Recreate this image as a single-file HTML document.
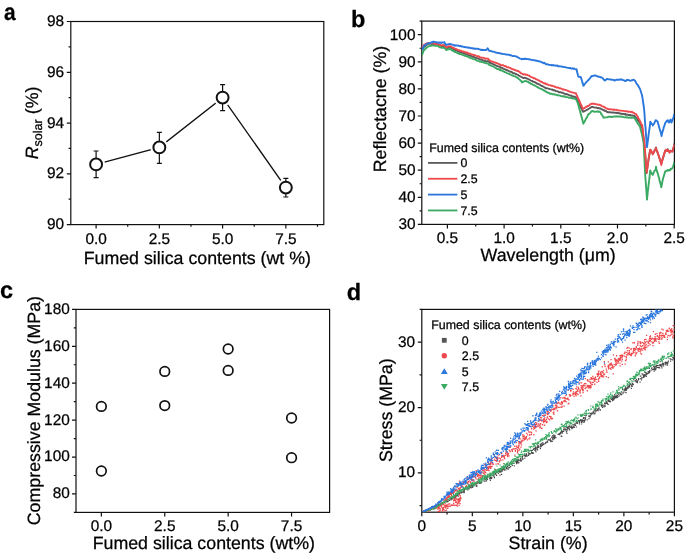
<!DOCTYPE html>
<html><head><meta charset="utf-8"><style>
html,body{margin:0;padding:0;background:#fff;}
svg{display:block;will-change:transform;}
text{font-family:"Liberation Sans", sans-serif;fill:#000;stroke:#000;stroke-width:0.25px;text-rendering:geometricPrecision;}
</style></head><body>
<svg width="685" height="556" viewBox="0 0 685 556">
<defs>
<clipPath id="clipb"><rect x="421.8" y="21.1" width="252.59999999999997" height="203.3"/></clipPath>
<clipPath id="clipd"><rect x="421.8" y="309.4" width="252.59999999999997" height="202.80000000000007"/></clipPath>
</defs>
<rect width="685" height="556" fill="#fff"/>
<text transform="translate(3.9 19.8) scale(0.89 1)" font-size="23.5" font-weight="bold">a</text>
<rect x="70.8" y="21.5" width="253" height="203.1" fill="none" stroke="#111" stroke-width="1.2"/>
<path d="M70.8 21.5h-4M70.8 72.28h-4M70.8 123.05h-4M70.8 173.82h-4M70.8 224.6h-4M70.8 46.89h-2.2M70.8 97.66h-2.2M70.8 148.44h-2.2M70.8 199.21h-2.2" stroke="#111" stroke-width="1.2" fill="none"/>
<text x="64.2" y="26" text-anchor="end" font-size="15.4">98</text>
<text x="64.2" y="76.78" text-anchor="end" font-size="15.4">96</text>
<text x="64.2" y="127.55" text-anchor="end" font-size="15.4">94</text>
<text x="64.2" y="178.32" text-anchor="end" font-size="15.4">92</text>
<text x="64.2" y="229.1" text-anchor="end" font-size="15.4">90</text>
<path d="M96.1 224.6v4M159.35 224.6v4M222.6 224.6v4M285.85 224.6v4M127.72 224.6v2.2M190.97 224.6v2.2M254.23 224.6v2.2M317.48 224.6v2.2" stroke="#111" stroke-width="1.2" fill="none"/>
<text x="96.1" y="243.5" text-anchor="middle" font-size="15.4">0.0</text>
<text x="159.35" y="243.5" text-anchor="middle" font-size="15.4">2.5</text>
<text x="222.6" y="243.5" text-anchor="middle" font-size="15.4">5.0</text>
<text x="285.85" y="243.5" text-anchor="middle" font-size="15.4">7.5</text>
<text x="197.3" y="264" text-anchor="middle" font-size="17.8" >Fumed silica contents (wt %)</text>
<text transform="translate(38.2 123) rotate(-90)" text-anchor="middle" font-size="17.8"><tspan font-style="italic">R</tspan><tspan font-size="12.6" dy="4.2">solar</tspan><tspan dy="-4.2"> (%)</tspan></text>
<path d="M96.1 164.4 L159.35 147.4 L222.6 97.6 L285.85 187.6" stroke="#111" stroke-width="1.35" fill="none"/>
<circle cx="96.1" cy="164.4" r="9.0" fill="#fff"/>
<circle cx="159.35" cy="147.4" r="9.0" fill="#fff"/>
<circle cx="222.6" cy="97.6" r="9.0" fill="#fff"/>
<circle cx="285.85" cy="187.6" r="9.0" fill="#fff"/>
<path d="M96.1 151V177.6M93.6 151h5M93.6 177.6h5M159.35 132.4V163.4M156.85 132.4h5M156.85 163.4h5M222.6 84.6V110.6M220.1 84.6h5M220.1 110.6h5M285.85 178.4V197M283.35 178.4h5M283.35 197h5" stroke="#111" stroke-width="1.2" fill="none"/>
<circle cx="96.1" cy="164.4" r="5.95" fill="#fff" stroke="#111" stroke-width="2.0"/>
<circle cx="159.35" cy="147.4" r="5.95" fill="#fff" stroke="#111" stroke-width="2.0"/>
<circle cx="222.6" cy="97.6" r="5.95" fill="#fff" stroke="#111" stroke-width="2.0"/>
<circle cx="285.85" cy="187.6" r="5.95" fill="#fff" stroke="#111" stroke-width="2.0"/>
<text x="350.9" y="27" text-anchor="start" font-size="23.5" font-weight="bold">b</text>
<rect x="421.8" y="21.1" width="252.6" height="203.3" fill="none" stroke="#111" stroke-width="1.2"/>
<path d="M421.8 224.4h-4M421.8 197.3h-4M421.8 170.2h-4M421.8 143.1h-4M421.8 116h-4M421.8 88.9h-4M421.8 61.8h-4M421.8 34.7h-4M421.8 210.85h-2.2M421.8 183.75h-2.2M421.8 156.65h-2.2M421.8 129.55h-2.2M421.8 102.45h-2.2M421.8 75.35h-2.2M421.8 48.25h-2.2M421.8 21.15h-2.2" stroke="#111" stroke-width="1.2" fill="none"/>
<text x="415.5" y="229.2" text-anchor="end" font-size="15.4">30</text>
<text x="415.5" y="202.1" text-anchor="end" font-size="15.4">40</text>
<text x="415.5" y="175" text-anchor="end" font-size="15.4">50</text>
<text x="415.5" y="147.9" text-anchor="end" font-size="15.4">60</text>
<text x="415.5" y="120.8" text-anchor="end" font-size="15.4">70</text>
<text x="415.5" y="93.7" text-anchor="end" font-size="15.4">80</text>
<text x="415.5" y="66.6" text-anchor="end" font-size="15.4">90</text>
<text x="415.5" y="39.5" text-anchor="end" font-size="15.4">100</text>
<path d="M447.4 224.4v4M504.1 224.4v4M560.8 224.4v4M617.5 224.4v4M674.2 224.4v4M475.75 224.4v2.2M532.45 224.4v2.2M589.15 224.4v2.2M645.85 224.4v2.2" stroke="#111" stroke-width="1.2" fill="none"/>
<text x="447.4" y="242.8" text-anchor="middle" font-size="15.4">0.5</text>
<text x="504.1" y="242.8" text-anchor="middle" font-size="15.4">1.0</text>
<text x="560.8" y="242.8" text-anchor="middle" font-size="15.4">1.5</text>
<text x="617.5" y="242.8" text-anchor="middle" font-size="15.4">2.0</text>
<text x="674.2" y="242.8" text-anchor="middle" font-size="15.4">2.5</text>
<text x="548.1" y="261" text-anchor="middle" font-size="17.8" >Wavelength (μm)</text>
<text transform="translate(385.6 109) rotate(-90)" x="0" y="0" text-anchor="middle" font-size="17.8" >Reflectacne (%)</text>
<g clip-path="url(#clipb)">
<path d="M422.0 48.9 L422.8 48.3 L423.6 47.5 L424.4 46.5 L425.2 46.2 L426.0 45.4 L426.8 44.5 L427.6 44.1 L428.0 43.7 L428.4 43.7 L429.2 43.7 L430.0 43.9 L430.8 43.8 L431.6 43.9 L432.4 44.0 L433.2 44.2 L434.0 44.2 L434.8 44.2 L435.6 44.2 L436.4 44.4 L437.2 44.5 L437.9 44.6 L438.0 44.9 L438.8 45.2 L439.6 44.9 L440.4 45.4 L441.2 46.1 L441.3 46.1 L442.0 46.1 L442.8 46.0 L443.6 46.3 L444.3 45.6 L444.4 45.9 L445.2 47.3 L446.0 48.0 L446.3 48.4 L446.8 48.1 L447.6 47.6 L448.4 47.7 L449.2 47.4 L449.8 47.0 L450.0 47.2 L450.8 47.7 L451.6 47.9 L452.4 48.5 L453.2 48.9 L454.0 49.3 L454.7 49.5 L454.8 49.8 L455.6 50.2 L456.4 50.5 L457.2 50.7 L458.0 51.3 L458.8 51.4 L459.6 52.0 L460.4 51.9 L461.2 52.6 L462.0 52.7 L462.8 52.8 L463.6 53.2 L464.4 53.6 L465.2 53.9 L466.0 54.0 L466.8 54.3 L467.6 54.8 L468.4 55.0 L469.2 55.4 L470.0 55.8 L470.8 55.7 L471.6 56.3 L472.4 56.8 L473.2 56.8 L474.0 57.0 L474.8 57.6 L475.6 57.8 L476.4 58.2 L477.2 58.3 L478.0 58.4 L478.8 58.9 L479.6 59.2 L480.0 59.5 L480.4 59.6 L481.2 59.5 L482.0 59.8 L482.8 60.4 L483.6 60.7 L484.4 60.7 L485.2 61.0 L486.0 61.4 L486.8 61.3 L487.6 61.2 L488.0 61.0 L488.4 61.4 L489.2 62.2 L489.5 62.8 L490.0 62.4 L490.8 63.1 L491.6 63.5 L492.4 63.6 L493.2 64.3 L494.0 64.4 L494.8 65.1 L495.6 65.2 L496.4 65.7 L497.2 66.2 L498.0 66.4 L498.8 66.5 L499.6 66.7 L500.4 67.7 L501.2 67.7 L502.0 67.9 L502.8 68.4 L503.6 68.7 L504.4 69.2 L505.2 69.4 L506.0 69.8 L506.8 70.0 L507.6 70.6 L508.4 70.6 L509.2 71.3 L510.0 71.8 L510.8 71.6 L511.6 71.8 L512.4 72.7 L513.2 73.4 L514.0 73.1 L514.8 73.4 L515.6 74.1 L516.4 74.2 L517.2 74.6 L518.0 74.9 L518.8 75.6 L519.6 75.9 L520.4 76.5 L521.2 76.9 L522.0 77.2 L522.8 77.8 L523.0 77.8 L523.6 78.0 L524.4 77.8 L525.2 77.8 L526.0 78.3 L526.8 78.4 L527.6 78.8 L528.4 79.3 L529.2 79.5 L530.0 80.0 L530.8 80.5 L531.6 80.9 L532.4 81.0 L533.2 81.8 L534.0 81.9 L534.8 82.2 L535.6 82.6 L536.4 83.1 L537.2 83.9 L538.0 83.8 L538.8 84.4 L539.6 84.4 L540.4 85.2 L541.2 85.8 L542.0 86.0 L542.8 86.3 L543.6 86.8 L544.4 87.3 L545.2 87.7 L546.0 88.4 L546.8 88.3 L547.6 88.4 L548.4 88.7 L549.2 88.9 L550.0 89.2 L550.8 89.4 L551.6 89.6 L552.4 89.5 L553.2 90.2 L554.0 90.2 L554.8 90.3 L555.0 90.7 L555.6 91.0 L556.4 91.1 L557.2 91.3 L558.0 91.4 L558.8 92.3 L559.6 92.2 L560.4 92.1 L561.2 92.4 L562.0 92.8 L562.8 92.8 L563.6 93.4 L564.4 93.5 L565.2 94.1 L566.0 94.3 L566.8 93.9 L567.6 94.6 L568.4 94.6 L569.2 95.3 L570.0 95.4 L570.8 95.7 L571.6 95.7 L572.4 96.5 L573.2 96.8 L574.0 96.5 L574.8 97.0 L575.6 97.1 L576.0 97.3 L576.4 97.8 L577.2 99.9 L578.0 100.8 L578.8 102.7 L579.6 104.6 L580.4 106.2 L581.2 108.0 L582.0 109.7 L582.8 111.5 L583.0 111.8 L583.6 111.6 L584.4 111.2 L585.2 110.7 L586.0 110.3 L586.8 109.8 L587.6 109.6 L588.4 108.9 L589.2 108.5 L590.0 108.0 L590.8 107.6 L591.6 107.0 L592.0 107.1 L592.4 106.9 L593.2 107.1 L594.0 107.4 L594.8 107.6 L595.6 107.6 L596.4 107.5 L597.2 108.1 L598.0 108.2 L598.8 108.0 L599.6 108.6 L600.0 108.4 L600.4 108.5 L601.2 109.1 L602.0 109.4 L602.8 109.8 L603.6 109.9 L604.4 110.9 L605.2 110.8 L606.0 111.0 L606.8 111.8 L607.6 112.0 L608.0 112.3 L608.4 112.2 L609.2 112.3 L610.0 112.4 L610.8 112.3 L611.6 112.6 L612.4 112.5 L613.2 112.5 L614.0 112.7 L614.8 112.9 L615.6 112.8 L616.4 112.8 L617.0 113.1 L617.2 112.7 L618.0 113.0 L618.8 113.3 L619.6 113.2 L620.4 113.6 L621.2 113.7 L622.0 114.0 L622.8 113.8 L623.6 113.9 L624.4 114.3 L625.2 113.9 L626.0 115.0 L626.8 114.5 L627.6 114.6 L628.4 115.0 L629.2 115.0 L630.0 114.8 L630.8 115.3 L631.6 115.5 L632.4 115.4 L633.2 115.6 L634.0 115.8 L634.4 115.6 L634.8 116.4 L635.6 117.4 L636.4 118.2 L637.2 119.1 L638.0 120.4 L638.8 121.3 L639.6 122.7 L640.0 123.0 L640.4 124.0 L641.2 125.8 L642.0 127.7 L642.2 127.6 L642.8 133.0 L643.6 139.8 L644.4 145.1 L644.5 145.7 L645.2 155.1 L646.0 165.4 L646.6 173.1 L646.8 172.0 L647.6 165.8 L648.4 160.6 L649.2 155.4 L650.0 150.9 L650.2 150.0 L650.8 150.5 L651.6 152.6 L652.4 153.0 L652.8 153.6 L653.2 153.1 L654.0 151.8 L654.8 149.8 L655.6 149.0 L656.0 147.5 L656.4 150.1 L657.2 151.7 L658.0 153.8 L658.8 156.0 L659.0 156.8 L659.6 158.6 L660.4 160.6 L661.2 163.0 L661.3 163.6 L662.0 161.0 L662.8 158.9 L663.5 156.5 L663.6 155.7 L664.4 153.6 L665.1 150.7 L665.2 151.5 L666.0 150.9 L666.8 150.8 L667.6 151.0 L667.8 149.2 L668.4 151.0 L669.2 151.2 L669.5 152.3 L670.0 151.0 L670.8 150.7 L671.0 150.9 L671.6 151.4 L672.4 151.5 L672.5 151.1 L673.2 148.8 L673.4 148.8 L674.0 145.9 L674.4 143.5" stroke="#5A5A5A" stroke-width="1.9" fill="none" stroke-linejoin="round"/>
<path d="M422.0 55.3 L422.8 53.0 L423.6 50.9 L424.0 49.5 L424.4 49.9 L425.2 49.1 L426.0 48.1 L426.8 47.6 L427.6 46.8 L428.0 46.3 L428.4 46.5 L429.2 46.1 L430.0 45.9 L430.8 45.7 L431.6 45.7 L432.4 45.5 L432.9 45.5 L433.2 45.3 L434.0 45.5 L434.8 45.4 L435.6 45.8 L436.4 45.8 L437.2 45.9 L437.9 46.0 L438.0 45.8 L438.8 46.7 L439.6 47.4 L440.4 47.3 L440.8 47.6 L441.2 47.6 L442.0 47.9 L442.8 47.6 L443.6 47.7 L444.3 47.5 L444.4 47.6 L445.2 48.6 L446.0 49.5 L446.3 50.1 L446.8 49.6 L447.6 49.5 L448.4 49.3 L449.2 49.4 L449.8 48.8 L450.0 48.8 L450.8 49.4 L451.6 50.1 L452.4 50.4 L453.2 51.2 L454.0 51.0 L454.7 52.0 L454.8 52.0 L455.6 51.9 L456.4 52.5 L457.2 53.0 L458.0 53.1 L458.8 53.6 L459.6 54.1 L460.4 54.1 L461.2 54.3 L462.0 54.5 L462.8 55.1 L463.6 55.2 L464.4 55.5 L465.2 55.8 L466.0 56.3 L466.8 56.3 L467.6 56.5 L468.4 56.7 L469.2 57.6 L470.0 57.7 L470.8 58.3 L471.6 58.3 L472.4 58.5 L473.2 59.1 L474.0 59.3 L474.8 59.4 L475.6 59.7 L476.4 60.5 L477.2 60.6 L478.0 60.9 L478.8 61.1 L479.6 61.3 L480.0 61.8 L480.4 61.7 L481.2 61.7 L482.0 62.0 L482.8 62.1 L483.6 62.5 L484.4 62.8 L485.2 62.7 L486.0 63.3 L486.8 63.1 L487.6 63.5 L488.4 64.1 L489.0 64.8 L489.2 64.9 L490.0 65.2 L490.8 65.5 L491.6 65.9 L492.4 66.2 L493.2 66.4 L494.0 67.0 L494.8 67.5 L495.6 68.0 L496.4 68.3 L497.2 69.0 L498.0 69.0 L498.8 69.2 L499.6 70.0 L500.4 69.8 L501.2 70.5 L502.0 70.5 L502.8 71.1 L503.6 71.1 L504.4 72.0 L505.2 72.1 L506.0 72.4 L506.8 73.2 L507.6 73.4 L508.4 73.6 L509.2 73.9 L510.0 74.4 L510.8 74.7 L511.6 75.2 L512.4 75.6 L513.2 75.7 L514.0 76.1 L514.8 76.4 L515.6 76.7 L516.4 77.2 L517.2 77.6 L518.0 78.1 L518.8 79.0 L519.6 79.5 L520.4 80.5 L521.2 81.1 L522.0 82.4 L522.8 81.8 L523.6 81.7 L524.4 81.2 L525.2 81.1 L526.0 81.0 L526.8 81.4 L527.6 81.9 L528.4 82.0 L529.2 82.8 L530.0 83.0 L530.8 83.9 L531.6 83.9 L532.4 84.6 L533.2 84.6 L534.0 85.3 L534.8 85.5 L535.6 86.0 L536.4 86.5 L537.2 86.9 L538.0 87.4 L538.8 87.9 L539.6 88.3 L540.4 88.6 L541.2 88.8 L542.0 89.3 L542.8 89.9 L543.6 89.9 L544.4 90.9 L545.2 91.1 L546.0 91.6 L546.8 92.2 L547.6 92.5 L548.4 92.8 L549.2 93.0 L550.0 93.7 L550.8 93.8 L551.6 93.8 L552.4 94.3 L553.2 94.4 L554.0 94.1 L554.8 94.6 L555.6 94.5 L556.4 95.1 L557.2 95.2 L558.0 95.1 L558.8 95.3 L559.6 95.6 L560.4 95.7 L561.2 96.2 L562.0 96.2 L562.8 96.2 L563.6 96.5 L564.4 96.2 L565.2 96.8 L566.0 97.1 L566.8 97.1 L567.6 97.1 L568.4 97.5 L569.2 97.9 L570.0 97.8 L570.8 97.7 L571.6 98.3 L572.4 97.9 L573.2 98.5 L574.0 98.5 L574.8 98.9 L575.6 98.8 L576.0 99.2 L576.4 100.1 L577.2 101.7 L578.0 103.6 L578.8 106.7 L579.6 109.8 L580.0 111.0 L580.4 112.5 L581.2 115.4 L582.0 118.5 L582.8 121.4 L583.4 123.7 L583.6 123.0 L584.4 121.9 L585.2 120.5 L586.0 118.5 L586.8 117.7 L587.6 115.9 L588.0 114.9 L588.4 114.3 L589.2 113.9 L590.0 113.1 L590.8 112.1 L591.6 111.1 L592.0 111.2 L592.4 110.9 L593.2 111.1 L594.0 111.8 L594.8 111.7 L595.6 111.6 L596.4 111.5 L597.2 111.8 L598.0 111.3 L598.8 111.9 L599.6 111.8 L600.0 111.8 L600.4 112.3 L601.2 113.9 L602.0 115.0 L602.8 116.2 L603.6 117.6 L604.0 117.8 L604.4 117.7 L605.2 117.4 L606.0 117.4 L606.8 117.4 L607.6 117.1 L608.0 117.1 L608.4 116.8 L609.2 116.8 L610.0 116.8 L610.8 116.6 L611.6 117.1 L612.4 116.9 L613.2 116.6 L614.0 116.5 L614.8 116.6 L615.6 116.3 L616.4 116.6 L617.0 116.3 L617.2 116.5 L618.0 116.4 L618.8 116.6 L619.6 116.5 L620.4 116.5 L621.2 116.7 L622.0 116.8 L622.8 116.9 L623.6 117.1 L624.4 117.4 L625.2 117.4 L626.0 117.2 L626.8 117.5 L627.6 117.3 L628.4 117.7 L629.2 117.7 L630.0 117.4 L630.8 117.8 L631.6 117.9 L632.4 117.3 L633.2 117.8 L634.0 117.9 L634.4 117.7 L634.8 118.4 L635.6 119.7 L636.4 121.2 L637.2 122.4 L638.0 124.0 L638.8 124.7 L639.6 126.2 L640.0 126.6 L640.4 128.4 L641.2 131.4 L642.0 134.6 L642.8 138.7 L643.6 142.9 L643.7 143.7 L644.4 158.2 L645.2 175.2 L646.0 185.3 L646.8 197.0 L647.0 199.6 L647.6 193.5 L648.4 186.7 L648.6 184.6 L649.2 180.2 L650.0 172.5 L650.2 170.5 L650.8 171.8 L651.6 173.4 L652.4 174.5 L652.8 174.9 L653.2 173.9 L654.0 171.7 L654.8 170.7 L655.6 169.5 L656.0 166.7 L656.4 169.0 L657.2 171.9 L658.0 174.1 L658.8 177.4 L659.0 177.5 L659.6 180.9 L660.4 183.2 L661.2 186.7 L661.3 187.3 L662.0 183.6 L662.8 179.4 L663.5 176.8 L663.6 177.0 L664.4 174.0 L665.1 171.9 L665.2 171.2 L666.0 171.2 L666.8 170.8 L667.6 169.9 L667.8 170.6 L668.4 170.3 L669.0 170.5 L669.2 170.0 L670.0 170.3 L670.5 169.1 L670.8 169.3 L671.6 168.4 L672.1 168.5 L672.4 168.0 L673.2 166.3 L674.0 163.4 L674.4 162.1" stroke="#3AAA62" stroke-width="1.9" fill="none" stroke-linejoin="round"/>
<path d="M422.0 48.3 L422.8 46.3 L423.6 45.7 L424.0 44.9 L424.4 44.7 L425.2 44.3 L426.0 43.6 L426.8 43.5 L427.6 43.0 L428.0 43.5 L428.4 43.0 L429.2 43.0 L430.0 43.1 L430.8 43.1 L431.6 43.1 L432.4 43.3 L433.2 43.5 L434.0 43.5 L434.8 43.8 L435.6 43.6 L436.4 43.8 L437.2 44.1 L437.9 44.0 L438.0 43.9 L438.8 44.3 L439.6 44.7 L440.4 45.4 L441.2 45.3 L441.3 45.4 L442.0 45.5 L442.8 45.0 L443.6 45.0 L444.3 45.1 L444.4 45.1 L445.2 46.0 L446.0 47.1 L446.3 46.9 L446.8 47.4 L447.6 46.7 L448.4 46.3 L449.2 46.4 L449.8 46.2 L450.0 46.1 L450.8 46.4 L451.6 46.9 L452.4 47.3 L453.2 47.9 L454.0 48.2 L454.7 48.4 L454.8 48.6 L455.6 48.8 L456.4 49.1 L457.2 49.7 L458.0 50.1 L458.8 50.2 L459.6 50.4 L460.4 50.8 L461.2 50.6 L462.0 51.4 L462.8 51.6 L463.6 51.5 L464.4 52.0 L465.2 52.1 L466.0 52.7 L466.8 52.4 L467.6 52.9 L468.4 53.4 L469.2 53.8 L470.0 53.4 L470.8 54.0 L471.6 54.4 L472.4 54.5 L473.2 55.1 L474.0 54.9 L474.8 55.4 L475.6 55.4 L476.4 56.1 L477.2 56.1 L478.0 56.3 L478.8 56.3 L479.6 57.2 L480.0 57.1 L480.4 57.3 L481.2 57.6 L482.0 57.7 L482.8 57.7 L483.6 57.9 L484.4 58.2 L485.2 58.8 L486.0 58.5 L486.8 58.6 L487.6 58.6 L488.0 58.6 L488.4 59.2 L489.2 59.9 L489.5 60.2 L490.0 60.7 L490.8 61.2 L491.6 61.4 L492.4 61.6 L493.2 61.8 L494.0 62.2 L494.8 62.4 L495.6 62.9 L496.4 62.9 L497.2 63.4 L498.0 63.6 L498.8 64.0 L499.6 64.3 L500.4 65.0 L501.2 65.1 L502.0 65.4 L502.8 65.0 L503.6 65.6 L504.4 65.9 L505.2 66.4 L506.0 66.2 L506.8 67.1 L507.6 67.4 L508.4 67.2 L509.2 67.6 L510.0 67.9 L510.8 68.4 L511.6 68.8 L512.4 69.3 L513.2 69.2 L514.0 69.7 L514.8 69.8 L515.6 70.4 L516.4 70.5 L517.2 71.0 L518.0 70.8 L518.8 71.5 L519.6 71.9 L520.4 72.9 L521.2 73.3 L522.0 73.7 L522.8 74.2 L523.0 74.5 L523.6 74.3 L524.4 74.2 L525.2 74.5 L526.0 74.8 L526.8 74.7 L527.6 75.1 L528.4 75.3 L529.2 75.7 L530.0 76.4 L530.8 76.9 L531.6 77.1 L532.4 77.5 L533.2 77.9 L534.0 78.3 L534.8 78.3 L535.6 78.9 L536.4 79.4 L537.2 79.6 L538.0 80.1 L538.8 80.4 L539.6 80.9 L540.4 81.5 L541.2 81.6 L542.0 82.1 L542.8 82.6 L543.6 83.0 L544.4 83.5 L545.2 83.2 L546.0 84.2 L546.8 84.1 L547.6 84.5 L548.4 84.8 L549.2 85.1 L550.0 85.3 L550.8 85.4 L551.6 85.9 L552.4 85.8 L553.2 86.1 L554.0 86.5 L554.8 86.4 L555.0 87.0 L555.6 87.0 L556.4 87.5 L557.2 87.3 L558.0 87.5 L558.8 87.9 L559.6 88.3 L560.4 88.3 L561.2 88.7 L562.0 88.9 L562.8 89.5 L563.6 89.3 L564.4 89.9 L565.2 89.9 L566.0 90.1 L566.8 90.4 L567.6 90.6 L568.4 91.1 L569.2 91.5 L570.0 91.6 L570.8 92.0 L571.6 92.4 L572.4 92.4 L573.2 92.7 L574.0 92.9 L574.8 92.9 L575.6 93.6 L576.0 93.3 L576.4 94.6 L577.2 96.2 L578.0 98.2 L578.8 99.7 L579.6 101.4 L580.4 103.3 L581.2 104.9 L582.0 106.8 L582.8 108.6 L583.0 109.0 L583.6 108.6 L584.4 108.0 L585.2 107.6 L586.0 106.8 L586.8 106.7 L587.6 106.0 L588.4 106.0 L589.2 105.5 L590.0 104.4 L590.8 104.3 L591.6 103.8 L592.0 103.4 L592.4 103.8 L593.2 103.7 L594.0 103.6 L594.8 104.0 L595.6 104.2 L596.4 104.4 L597.2 104.3 L598.0 104.8 L598.8 104.9 L599.6 104.7 L600.0 104.9 L600.4 105.2 L601.2 105.5 L602.0 106.3 L602.8 106.4 L603.6 106.6 L604.4 107.1 L605.2 107.6 L606.0 108.4 L606.8 108.4 L607.6 108.8 L608.0 109.1 L608.4 109.0 L609.2 109.5 L610.0 109.1 L610.8 109.4 L611.6 109.4 L612.4 109.6 L613.2 109.4 L614.0 110.0 L614.8 109.7 L615.6 109.9 L616.4 109.8 L617.0 109.9 L617.2 110.1 L618.0 110.3 L618.8 110.4 L619.6 110.6 L620.4 110.6 L621.2 110.6 L622.0 110.8 L622.8 110.9 L623.6 110.9 L624.4 111.1 L625.2 111.3 L626.0 111.2 L626.8 111.2 L627.6 111.5 L628.4 111.9 L629.2 111.6 L630.0 111.7 L630.8 111.8 L631.6 112.2 L632.0 111.7 L632.4 112.3 L633.2 112.8 L634.0 112.9 L634.8 113.7 L635.6 113.9 L636.0 113.9 L636.4 114.7 L637.2 115.8 L638.0 117.3 L638.8 119.2 L639.6 120.0 L640.0 121.2 L640.4 121.8 L641.2 124.1 L642.0 125.6 L642.2 125.0 L642.8 130.2 L643.6 136.4 L644.4 141.7 L644.5 142.4 L645.2 153.3 L646.0 164.4 L646.6 172.6 L646.8 171.6 L647.6 166.3 L648.4 159.8 L649.2 155.8 L650.0 151.4 L650.2 149.6 L650.8 150.1 L651.6 151.4 L652.4 153.3 L652.8 154.4 L653.2 153.4 L654.0 152.1 L654.8 150.2 L655.6 149.1 L656.0 148.1 L656.4 149.3 L657.2 151.2 L658.0 153.4 L658.8 156.2 L659.0 156.5 L659.6 158.3 L660.4 161.4 L661.2 163.4 L661.3 165.0 L662.0 161.7 L662.8 158.2 L663.5 156.4 L663.6 155.9 L664.4 153.0 L665.1 151.8 L665.2 150.9 L666.0 149.6 L666.8 151.0 L667.6 150.0 L667.8 150.9 L668.4 150.5 L669.2 151.2 L669.5 152.7 L670.0 151.1 L670.8 151.1 L671.0 151.5 L671.6 151.1 L672.4 151.4 L672.5 151.5 L673.2 149.5 L673.4 148.0 L674.0 146.2 L674.4 144.6" stroke="#EE4A4E" stroke-width="1.9" fill="none" stroke-linejoin="round"/>
<path d="M422.0 49.8 L422.8 48.3 L423.6 47.0 L424.0 46.0 L424.4 45.4 L425.2 45.1 L426.0 44.5 L426.8 44.2 L427.6 43.4 L428.0 43.4 L428.4 43.3 L429.2 43.4 L430.0 42.9 L430.8 42.7 L431.6 42.1 L432.4 42.6 L433.2 41.6 L433.4 42.1 L434.0 41.9 L434.8 41.9 L435.6 42.1 L436.4 42.2 L437.2 42.5 L438.0 42.5 L438.8 42.9 L439.6 42.4 L440.4 42.8 L440.8 42.7 L441.2 43.0 L442.0 42.3 L442.8 42.6 L443.6 42.5 L444.3 42.1 L444.4 42.7 L445.2 43.6 L446.0 44.7 L446.3 45.1 L446.8 44.6 L447.6 44.4 L448.4 44.3 L449.2 44.2 L449.8 44.1 L450.0 43.8 L450.8 44.1 L451.6 44.3 L452.4 44.6 L453.2 44.9 L454.0 45.2 L454.7 45.8 L454.8 45.3 L455.6 45.4 L456.4 45.6 L457.2 45.4 L458.0 45.5 L458.8 45.8 L459.6 46.1 L460.4 45.8 L461.2 46.5 L462.0 46.3 L462.8 46.6 L463.6 46.9 L464.4 47.0 L465.2 47.2 L466.0 47.2 L466.8 47.4 L467.6 47.6 L468.0 47.4 L468.4 47.9 L469.2 47.6 L470.0 47.7 L470.8 48.4 L471.6 48.1 L472.4 48.1 L473.2 48.7 L474.0 48.5 L474.8 48.8 L475.6 48.6 L476.4 48.9 L477.2 48.7 L478.0 48.8 L478.8 49.1 L479.6 49.4 L480.4 49.7 L481.2 50.1 L482.0 49.6 L482.8 50.1 L483.6 49.9 L484.4 50.1 L485.2 50.0 L486.0 50.1 L486.8 49.3 L487.6 48.3 L488.4 49.6 L489.0 50.4 L489.2 50.8 L490.0 50.8 L490.8 51.0 L491.6 51.4 L492.4 51.5 L493.2 51.7 L494.0 51.9 L494.8 52.1 L495.6 52.5 L496.4 52.7 L497.2 52.8 L498.0 53.1 L498.8 53.0 L499.6 53.4 L500.4 53.2 L501.2 53.8 L502.0 53.7 L502.8 53.9 L503.6 54.1 L504.4 54.1 L505.2 54.2 L506.0 54.6 L506.8 54.6 L507.6 54.5 L508.4 54.9 L509.2 54.7 L510.0 55.4 L510.8 55.2 L511.6 55.4 L512.4 56.0 L513.2 56.1 L514.0 55.9 L514.8 56.1 L515.6 56.3 L516.0 56.5 L516.4 56.4 L517.2 56.9 L518.0 57.5 L518.8 57.8 L519.6 58.3 L520.4 58.7 L521.2 58.9 L522.0 59.3 L522.8 58.8 L523.6 59.0 L524.4 59.0 L525.0 58.4 L525.2 58.9 L526.0 59.0 L526.8 58.9 L527.6 59.1 L528.4 59.2 L529.2 59.2 L530.0 59.5 L530.8 59.7 L531.6 59.9 L532.4 60.1 L533.2 60.0 L534.0 60.4 L534.8 60.3 L535.6 60.5 L536.4 60.8 L537.2 60.8 L538.0 61.0 L538.8 61.3 L539.6 61.4 L540.4 61.7 L541.2 62.0 L542.0 62.5 L542.8 62.6 L543.6 63.2 L544.0 63.0 L544.4 62.7 L545.2 63.5 L546.0 64.2 L546.8 64.3 L547.0 64.3 L547.6 64.3 L548.4 64.8 L549.2 64.9 L550.0 64.9 L550.8 65.0 L551.6 65.3 L552.4 65.3 L553.2 65.0 L554.0 65.5 L554.8 65.5 L555.0 65.5 L555.6 65.7 L556.4 65.7 L557.2 65.4 L558.0 66.3 L558.8 66.3 L559.6 66.3 L560.4 66.4 L561.2 66.6 L562.0 66.5 L562.8 66.9 L563.6 67.0 L564.4 67.1 L565.2 67.1 L566.0 67.3 L566.8 67.7 L567.6 67.9 L568.4 67.9 L569.2 68.0 L570.0 67.9 L570.8 68.4 L571.6 68.7 L572.4 68.2 L573.2 68.9 L574.0 68.4 L574.8 69.0 L575.6 69.4 L576.4 69.3 L576.5 69.3 L577.2 72.3 L578.0 75.5 L578.3 76.4 L578.8 76.9 L579.6 76.7 L580.4 77.4 L580.9 77.2 L581.2 78.2 L582.0 81.0 L582.8 83.6 L583.4 85.8 L583.6 85.7 L584.4 84.5 L585.2 83.5 L586.0 82.5 L586.8 81.7 L587.6 80.9 L588.0 80.5 L588.4 80.0 L589.2 79.1 L590.0 78.3 L590.8 77.0 L591.6 76.1 L591.7 76.4 L592.4 76.2 L593.2 75.7 L594.0 75.9 L594.5 75.4 L594.8 75.5 L595.6 75.5 L596.4 76.1 L597.2 76.2 L598.0 76.6 L598.8 76.7 L599.6 76.8 L600.0 76.9 L600.4 77.3 L601.2 77.3 L602.0 77.6 L602.8 78.4 L603.6 79.3 L604.4 80.2 L604.7 80.6 L605.2 80.0 L606.0 79.8 L606.8 79.0 L607.2 79.0 L607.6 79.0 L608.4 79.4 L609.2 79.4 L610.0 79.3 L610.8 79.6 L611.6 79.7 L612.4 79.7 L613.2 79.9 L614.0 79.9 L614.4 80.6 L614.8 80.1 L615.6 80.2 L616.4 79.7 L617.2 79.6 L618.0 79.7 L618.8 79.7 L619.6 79.7 L620.4 79.3 L621.2 79.5 L621.6 79.7 L622.0 79.4 L622.8 80.1 L623.6 80.1 L624.4 80.7 L625.2 81.1 L626.0 80.9 L626.8 80.0 L627.3 79.8 L627.6 80.1 L628.4 80.0 L629.2 80.5 L630.0 80.6 L630.2 80.7 L630.8 80.6 L631.6 80.3 L632.4 80.2 L633.1 79.7 L633.2 79.7 L634.0 79.9 L634.5 80.2 L634.8 80.7 L635.6 81.5 L636.4 83.5 L637.2 84.3 L638.0 85.5 L638.8 86.8 L639.6 88.3 L640.0 89.0 L640.4 90.0 L641.2 92.7 L642.0 95.0 L642.8 99.8 L643.6 105.5 L644.0 108.0 L644.4 112.7 L645.2 124.5 L645.5 127.3 L646.0 134.6 L646.8 144.4 L647.0 147.1 L647.6 142.6 L648.4 137.1 L648.5 135.4 L649.2 130.5 L650.0 125.0 L650.3 121.7 L650.8 122.6 L651.6 123.9 L652.4 124.3 L653.0 125.5 L653.2 124.7 L654.0 123.9 L654.8 122.2 L655.6 120.3 L656.0 120.6 L656.4 120.5 L657.2 121.4 L657.6 121.6 L658.0 123.1 L658.8 126.0 L659.6 128.8 L660.0 130.5 L660.4 130.9 L661.2 134.2 L661.5 136.0 L662.0 133.7 L662.8 130.8 L663.5 128.7 L663.6 127.9 L664.4 125.6 L665.2 123.0 L665.6 122.6 L666.0 122.1 L666.8 120.8 L667.6 121.0 L667.8 120.1 L668.4 121.9 L669.0 122.5 L669.2 121.9 L670.0 120.8 L670.5 119.6 L670.8 121.4 L671.5 122.6 L671.6 122.2 L672.4 120.6 L672.5 119.7 L673.2 118.3 L673.5 117.7 L674.0 114.9 L674.4 114.6" stroke="#2A77DD" stroke-width="1.9" fill="none" stroke-linejoin="round"/>
</g>
<text x="429.3" y="152" text-anchor="start" font-size="12.4" >Fumed silica contents (wt%)</text>
<path d="M428 162.9H457.4" stroke="#5A5A5A" stroke-width="1.8"/>
<text x="460.4" y="167.2" text-anchor="start" font-size="12.4" >0</text>
<path d="M428 178.75H457.4" stroke="#EE4A4E" stroke-width="1.8"/>
<text x="460.4" y="183.05" text-anchor="start" font-size="12.4" >2.5</text>
<path d="M428 194.6H457.4" stroke="#2A77DD" stroke-width="1.8"/>
<text x="460.4" y="198.9" text-anchor="start" font-size="12.4" >5</text>
<path d="M428 210.45H457.4" stroke="#3AAA62" stroke-width="1.8"/>
<text x="460.4" y="214.75" text-anchor="start" font-size="12.4" >7.5</text>
<text x="0" y="297.5" text-anchor="start" font-size="23.5" font-weight="bold">c</text>
<rect x="76" y="309.4" width="253.6" height="203" fill="none" stroke="#111" stroke-width="1.2"/>
<path d="M76 493.95h-4M76 457.04h-4M76 420.13h-4M76 383.22h-4M76 346.31h-4M76 309.4h-4M76 512.4h-2.2M76 475.49h-2.2M76 438.58h-2.2M76 401.67h-2.2M76 364.76h-2.2M76 327.85h-2.2" stroke="#111" stroke-width="1.2" fill="none"/>
<text x="69.8" y="498.35" text-anchor="end" font-size="15.4">80</text>
<text x="69.8" y="461.44" text-anchor="end" font-size="15.4">100</text>
<text x="69.8" y="424.53" text-anchor="end" font-size="15.4">120</text>
<text x="69.8" y="387.62" text-anchor="end" font-size="15.4">140</text>
<text x="69.8" y="350.71" text-anchor="end" font-size="15.4">160</text>
<text x="69.8" y="313.8" text-anchor="end" font-size="15.4">180</text>
<path d="M101.36 512.4v4M164.76 512.4v4M228.16 512.4v4M291.56 512.4v4" stroke="#111" stroke-width="1.2" fill="none"/>
<text x="101.36" y="530.7" text-anchor="middle" font-size="15.4">0.0</text>
<text x="164.76" y="530.7" text-anchor="middle" font-size="15.4">2.5</text>
<text x="228.16" y="530.7" text-anchor="middle" font-size="15.4">5.0</text>
<text x="291.56" y="530.7" text-anchor="middle" font-size="15.4">7.5</text>
<text x="203.8" y="549.3" text-anchor="middle" font-size="17.8" >Fumed silica contents (wt%)</text>
<text transform="translate(40.2 410.6) rotate(-90)" x="0" y="0" text-anchor="middle" font-size="17.8" >Compressive Modulus (MPa)</text>
<circle cx="101.36" cy="406.4" r="4.8" fill="none" stroke="#111" stroke-width="1.7"/>
<circle cx="101.36" cy="471" r="4.8" fill="none" stroke="#111" stroke-width="1.7"/>
<circle cx="164.76" cy="371.4" r="4.8" fill="none" stroke="#111" stroke-width="1.7"/>
<circle cx="164.76" cy="405.6" r="4.8" fill="none" stroke="#111" stroke-width="1.7"/>
<circle cx="228.16" cy="349" r="4.8" fill="none" stroke="#111" stroke-width="1.7"/>
<circle cx="228.16" cy="370.4" r="4.8" fill="none" stroke="#111" stroke-width="1.7"/>
<circle cx="291.56" cy="418" r="4.8" fill="none" stroke="#111" stroke-width="1.7"/>
<circle cx="291.56" cy="457.7" r="4.8" fill="none" stroke="#111" stroke-width="1.7"/>
<text x="346.8" y="300.3" text-anchor="start" font-size="23.5" font-weight="bold">d</text>
<rect x="421.8" y="309.4" width="252.6" height="202.8" fill="none" stroke="#111" stroke-width="1.2"/>
<path d="M421.8 472.95h-4M421.8 407.53h-4M421.8 342.11h-4M421.8 505.66h-2.2M421.8 440.24h-2.2M421.8 374.82h-2.2M421.8 309.4h-2.2" stroke="#111" stroke-width="1.2" fill="none"/>
<text x="415" y="477.45" text-anchor="end" font-size="15.4">10</text>
<text x="415" y="412.03" text-anchor="end" font-size="15.4">20</text>
<text x="415" y="346.61" text-anchor="end" font-size="15.4">30</text>
<path d="M421.8 512.2v4M472.32 512.2v4M522.84 512.2v4M573.36 512.2v4M623.88 512.2v4M674.4 512.2v4M447.06 512.2v2.2M497.58 512.2v2.2M548.1 512.2v2.2M598.62 512.2v2.2M649.14 512.2v2.2" stroke="#111" stroke-width="1.2" fill="none"/>
<text x="421.8" y="530.8" text-anchor="middle" font-size="15.4">0</text>
<text x="472.32" y="530.8" text-anchor="middle" font-size="15.4">5</text>
<text x="522.84" y="530.8" text-anchor="middle" font-size="15.4">10</text>
<text x="573.36" y="530.8" text-anchor="middle" font-size="15.4">15</text>
<text x="623.88" y="530.8" text-anchor="middle" font-size="15.4">20</text>
<text x="674.4" y="530.8" text-anchor="middle" font-size="15.4">25</text>
<text x="548.1" y="549.2" text-anchor="middle" font-size="17.8" >Strain (%)</text>
<text transform="translate(392.4 410.2) rotate(-90)" x="0" y="0" text-anchor="middle" font-size="17.8" >Stress (MPa)</text>
<g clip-path="url(#clipd)">
<path d="M580.1 418.9h1.2v1.2h-1.2zM649.0 370.1h1.2v1.2h-1.2zM618.2 393.8h1.2v1.2h-1.2zM478.8 480.7h1.2v1.2h-1.2zM497.8 470.5h1.2v1.2h-1.2zM643.0 374.6h1.2v1.2h-1.2zM423.1 510.5h1.2v1.2h-1.2zM629.7 383.2h1.2v1.2h-1.2zM623.6 389.2h1.2v1.2h-1.2zM540.3 445.1h1.2v1.2h-1.2zM498.5 471.2h1.2v1.2h-1.2zM492.3 472.4h1.2v1.2h-1.2zM486.3 477.4h1.2v1.2h-1.2zM534.5 449.8h1.2v1.2h-1.2zM549.6 439.7h1.2v1.2h-1.2zM561.9 431.2h1.2v1.2h-1.2zM673.9 356.4h1.2v1.2h-1.2zM622.5 391.5h1.2v1.2h-1.2zM579.3 420.1h1.2v1.2h-1.2zM672.2 356.8h1.2v1.2h-1.2zM476.3 482.1h1.2v1.2h-1.2zM462.4 491.5h1.2v1.2h-1.2zM576.9 422.7h1.2v1.2h-1.2zM432.9 506.9h1.2v1.2h-1.2zM430.8 507.4h1.2v1.2h-1.2zM552.2 438.5h1.2v1.2h-1.2zM539.8 444.4h1.2v1.2h-1.2zM654.0 367.7h1.2v1.2h-1.2zM581.1 423.4h1.2v1.2h-1.2zM552.0 438.4h1.2v1.2h-1.2zM547.6 439.5h1.2v1.2h-1.2zM484.5 478.9h1.2v1.2h-1.2zM424.8 510.2h1.2v1.2h-1.2zM470.5 487.2h1.2v1.2h-1.2zM597.0 408.6h1.2v1.2h-1.2zM472.6 482.8h1.2v1.2h-1.2zM515.4 461.4h1.2v1.2h-1.2zM422.7 511.1h1.2v1.2h-1.2zM632.0 383.7h1.2v1.2h-1.2zM460.9 492.3h1.2v1.2h-1.2zM489.6 476.8h1.2v1.2h-1.2zM644.7 375.1h1.2v1.2h-1.2zM550.9 436.5h1.2v1.2h-1.2zM636.3 381.5h1.2v1.2h-1.2zM583.8 421.2h1.2v1.2h-1.2zM609.6 401.3h1.2v1.2h-1.2zM445.0 501.4h1.2v1.2h-1.2zM558.8 433.4h1.2v1.2h-1.2zM550.4 440.9h1.2v1.2h-1.2zM642.4 374.4h1.2v1.2h-1.2zM513.3 462.8h1.2v1.2h-1.2zM573.3 425.2h1.2v1.2h-1.2zM436.8 505.1h1.2v1.2h-1.2zM519.9 458.2h1.2v1.2h-1.2zM503.6 469.0h1.2v1.2h-1.2zM459.8 491.6h1.2v1.2h-1.2zM628.5 386.3h1.2v1.2h-1.2zM517.9 460.0h1.2v1.2h-1.2zM669.6 358.2h1.2v1.2h-1.2zM571.2 425.8h1.2v1.2h-1.2zM575.0 424.8h1.2v1.2h-1.2zM583.3 417.2h1.2v1.2h-1.2zM593.1 411.8h1.2v1.2h-1.2zM460.0 492.4h1.2v1.2h-1.2zM533.3 448.0h1.2v1.2h-1.2zM482.5 480.3h1.2v1.2h-1.2zM523.7 454.7h1.2v1.2h-1.2zM446.3 501.3h1.2v1.2h-1.2zM666.9 364.5h1.2v1.2h-1.2zM476.2 485.7h1.2v1.2h-1.2zM591.9 412.7h1.2v1.2h-1.2zM497.9 472.9h1.2v1.2h-1.2zM643.1 375.3h1.2v1.2h-1.2zM589.5 414.9h1.2v1.2h-1.2zM455.1 496.4h1.2v1.2h-1.2zM635.8 378.8h1.2v1.2h-1.2zM661.1 365.7h1.2v1.2h-1.2zM650.7 369.6h1.2v1.2h-1.2zM566.1 430.8h1.2v1.2h-1.2zM458.6 492.9h1.2v1.2h-1.2zM470.5 485.1h1.2v1.2h-1.2zM656.7 366.9h1.2v1.2h-1.2zM561.6 432.5h1.2v1.2h-1.2zM467.5 487.3h1.2v1.2h-1.2zM645.6 374.0h1.2v1.2h-1.2zM584.2 417.3h1.2v1.2h-1.2zM566.0 425.9h1.2v1.2h-1.2zM517.1 462.0h1.2v1.2h-1.2zM525.9 455.6h1.2v1.2h-1.2zM482.4 480.3h1.2v1.2h-1.2zM431.4 507.2h1.2v1.2h-1.2zM643.7 376.2h1.2v1.2h-1.2zM540.2 444.3h1.2v1.2h-1.2zM560.5 431.2h1.2v1.2h-1.2zM503.4 468.4h1.2v1.2h-1.2zM612.0 400.1h1.2v1.2h-1.2zM428.2 508.4h1.2v1.2h-1.2zM516.0 463.1h1.2v1.2h-1.2zM429.5 508.0h1.2v1.2h-1.2zM452.9 495.9h1.2v1.2h-1.2zM666.7 363.1h1.2v1.2h-1.2zM588.3 415.4h1.2v1.2h-1.2zM530.2 449.8h1.2v1.2h-1.2zM554.4 435.4h1.2v1.2h-1.2zM642.8 376.7h1.2v1.2h-1.2zM509.0 467.1h1.2v1.2h-1.2zM571.3 425.2h1.2v1.2h-1.2zM594.9 411.4h1.2v1.2h-1.2zM511.8 464.8h1.2v1.2h-1.2zM553.2 435.7h1.2v1.2h-1.2zM615.6 396.3h1.2v1.2h-1.2zM652.0 368.9h1.2v1.2h-1.2zM460.0 491.3h1.2v1.2h-1.2zM658.1 365.1h1.2v1.2h-1.2zM423.1 510.9h1.2v1.2h-1.2zM612.5 398.2h1.2v1.2h-1.2zM627.0 386.4h1.2v1.2h-1.2zM456.4 493.9h1.2v1.2h-1.2zM527.9 454.8h1.2v1.2h-1.2zM628.2 386.6h1.2v1.2h-1.2zM425.4 510.1h1.2v1.2h-1.2zM580.9 421.7h1.2v1.2h-1.2zM622.6 391.4h1.2v1.2h-1.2zM551.7 440.7h1.2v1.2h-1.2zM605.6 401.9h1.2v1.2h-1.2zM479.1 482.9h1.2v1.2h-1.2zM472.1 484.7h1.2v1.2h-1.2zM513.7 465.3h1.2v1.2h-1.2zM467.2 489.2h1.2v1.2h-1.2zM509.4 462.5h1.2v1.2h-1.2zM661.9 362.5h1.2v1.2h-1.2zM567.0 429.2h1.2v1.2h-1.2zM507.9 467.2h1.2v1.2h-1.2zM490.6 476.8h1.2v1.2h-1.2zM662.9 363.2h1.2v1.2h-1.2zM534.3 449.4h1.2v1.2h-1.2zM670.0 360.5h1.2v1.2h-1.2zM552.3 437.0h1.2v1.2h-1.2zM553.8 437.7h1.2v1.2h-1.2zM648.8 367.7h1.2v1.2h-1.2zM609.9 400.9h1.2v1.2h-1.2zM568.8 425.8h1.2v1.2h-1.2zM529.8 453.2h1.2v1.2h-1.2zM644.2 374.1h1.2v1.2h-1.2zM526.0 453.3h1.2v1.2h-1.2zM655.4 367.7h1.2v1.2h-1.2zM439.2 503.4h1.2v1.2h-1.2zM530.7 450.0h1.2v1.2h-1.2zM553.3 434.3h1.2v1.2h-1.2zM662.6 363.4h1.2v1.2h-1.2zM485.4 479.3h1.2v1.2h-1.2zM625.9 389.5h1.2v1.2h-1.2zM593.1 411.9h1.2v1.2h-1.2zM603.4 406.2h1.2v1.2h-1.2zM581.2 419.9h1.2v1.2h-1.2zM667.8 360.6h1.2v1.2h-1.2zM506.0 467.9h1.2v1.2h-1.2zM522.6 458.4h1.2v1.2h-1.2zM473.2 484.2h1.2v1.2h-1.2zM434.6 505.7h1.2v1.2h-1.2zM475.7 483.2h1.2v1.2h-1.2zM653.6 368.2h1.2v1.2h-1.2zM634.5 380.3h1.2v1.2h-1.2zM450.3 499.2h1.2v1.2h-1.2zM574.7 423.2h1.2v1.2h-1.2zM543.1 443.7h1.2v1.2h-1.2zM572.4 423.9h1.2v1.2h-1.2zM588.7 415.8h1.2v1.2h-1.2zM499.4 471.5h1.2v1.2h-1.2zM665.2 361.5h1.2v1.2h-1.2zM539.8 448.1h1.2v1.2h-1.2zM580.8 420.6h1.2v1.2h-1.2zM582.6 421.5h1.2v1.2h-1.2zM468.4 487.9h1.2v1.2h-1.2zM437.5 504.3h1.2v1.2h-1.2zM526.0 454.0h1.2v1.2h-1.2zM615.3 396.7h1.2v1.2h-1.2zM628.2 386.4h1.2v1.2h-1.2zM606.6 402.4h1.2v1.2h-1.2zM450.5 498.2h1.2v1.2h-1.2zM653.1 365.9h1.2v1.2h-1.2zM624.9 388.5h1.2v1.2h-1.2zM644.0 371.4h1.2v1.2h-1.2zM554.3 436.4h1.2v1.2h-1.2zM653.6 367.1h1.2v1.2h-1.2zM433.6 506.1h1.2v1.2h-1.2zM429.5 508.1h1.2v1.2h-1.2zM426.9 509.3h1.2v1.2h-1.2zM485.8 476.3h1.2v1.2h-1.2zM484.7 476.4h1.2v1.2h-1.2zM469.3 485.2h1.2v1.2h-1.2zM565.4 426.4h1.2v1.2h-1.2zM431.7 506.9h1.2v1.2h-1.2zM571.3 428.0h1.2v1.2h-1.2zM463.8 488.1h1.2v1.2h-1.2zM593.4 412.8h1.2v1.2h-1.2zM427.1 508.8h1.2v1.2h-1.2zM500.4 470.8h1.2v1.2h-1.2zM659.4 364.7h1.2v1.2h-1.2zM558.1 433.5h1.2v1.2h-1.2zM627.3 387.8h1.2v1.2h-1.2zM588.4 418.0h1.2v1.2h-1.2zM576.4 422.9h1.2v1.2h-1.2zM470.2 486.1h1.2v1.2h-1.2zM567.2 426.8h1.2v1.2h-1.2zM431.8 507.2h1.2v1.2h-1.2zM624.8 388.6h1.2v1.2h-1.2zM664.9 363.4h1.2v1.2h-1.2zM638.0 378.9h1.2v1.2h-1.2zM434.6 506.3h1.2v1.2h-1.2zM507.5 463.5h1.2v1.2h-1.2zM502.3 468.9h1.2v1.2h-1.2zM450.3 499.1h1.2v1.2h-1.2zM580.5 419.8h1.2v1.2h-1.2zM623.7 388.6h1.2v1.2h-1.2zM501.2 469.5h1.2v1.2h-1.2zM640.3 375.4h1.2v1.2h-1.2zM623.6 389.9h1.2v1.2h-1.2zM454.5 497.5h1.2v1.2h-1.2zM616.0 397.1h1.2v1.2h-1.2zM645.3 372.0h1.2v1.2h-1.2zM471.8 484.2h1.2v1.2h-1.2zM567.0 427.7h1.2v1.2h-1.2zM583.5 419.9h1.2v1.2h-1.2zM576.1 421.7h1.2v1.2h-1.2zM446.2 500.3h1.2v1.2h-1.2zM589.2 416.2h1.2v1.2h-1.2zM581.8 420.7h1.2v1.2h-1.2zM630.4 384.2h1.2v1.2h-1.2zM625.2 387.0h1.2v1.2h-1.2zM504.6 465.8h1.2v1.2h-1.2zM604.6 402.8h1.2v1.2h-1.2zM641.4 373.3h1.2v1.2h-1.2zM647.9 372.6h1.2v1.2h-1.2zM462.7 489.3h1.2v1.2h-1.2zM428.6 508.6h1.2v1.2h-1.2zM586.6 419.3h1.2v1.2h-1.2zM476.2 484.7h1.2v1.2h-1.2zM564.5 428.2h1.2v1.2h-1.2zM661.0 365.5h1.2v1.2h-1.2zM517.8 461.9h1.2v1.2h-1.2zM485.8 477.3h1.2v1.2h-1.2zM537.4 445.5h1.2v1.2h-1.2zM588.2 415.5h1.2v1.2h-1.2zM447.4 499.2h1.2v1.2h-1.2zM518.2 462.1h1.2v1.2h-1.2zM455.7 492.9h1.2v1.2h-1.2zM589.5 413.1h1.2v1.2h-1.2zM632.1 383.1h1.2v1.2h-1.2zM517.2 460.4h1.2v1.2h-1.2zM515.9 461.7h1.2v1.2h-1.2zM558.4 433.8h1.2v1.2h-1.2zM476.3 482.9h1.2v1.2h-1.2zM484.4 480.6h1.2v1.2h-1.2zM505.3 464.6h1.2v1.2h-1.2zM537.6 446.6h1.2v1.2h-1.2zM442.4 502.0h1.2v1.2h-1.2zM612.4 398.3h1.2v1.2h-1.2zM568.4 427.8h1.2v1.2h-1.2zM497.7 470.7h1.2v1.2h-1.2zM441.4 502.5h1.2v1.2h-1.2zM615.0 397.3h1.2v1.2h-1.2zM455.0 495.5h1.2v1.2h-1.2zM455.5 494.3h1.2v1.2h-1.2zM454.9 496.9h1.2v1.2h-1.2zM442.4 503.5h1.2v1.2h-1.2zM651.3 367.3h1.2v1.2h-1.2zM490.0 476.5h1.2v1.2h-1.2zM499.4 474.5h1.2v1.2h-1.2zM632.7 384.1h1.2v1.2h-1.2zM578.8 421.6h1.2v1.2h-1.2zM469.2 486.2h1.2v1.2h-1.2zM531.9 449.7h1.2v1.2h-1.2zM645.6 373.0h1.2v1.2h-1.2zM516.8 460.2h1.2v1.2h-1.2zM601.8 406.9h1.2v1.2h-1.2zM446.3 500.4h1.2v1.2h-1.2zM606.0 402.2h1.2v1.2h-1.2zM618.4 392.0h1.2v1.2h-1.2zM630.9 384.3h1.2v1.2h-1.2zM592.5 411.3h1.2v1.2h-1.2zM515.7 461.4h1.2v1.2h-1.2zM438.1 504.7h1.2v1.2h-1.2zM553.2 437.1h1.2v1.2h-1.2zM613.6 398.0h1.2v1.2h-1.2zM470.1 486.4h1.2v1.2h-1.2zM489.2 476.6h1.2v1.2h-1.2zM557.5 433.8h1.2v1.2h-1.2zM611.3 398.5h1.2v1.2h-1.2zM648.8 372.0h1.2v1.2h-1.2zM453.6 495.4h1.2v1.2h-1.2zM468.5 488.3h1.2v1.2h-1.2zM624.2 389.4h1.2v1.2h-1.2zM585.0 416.5h1.2v1.2h-1.2zM604.4 403.3h1.2v1.2h-1.2zM674.2 356.5h1.2v1.2h-1.2zM659.6 365.2h1.2v1.2h-1.2zM635.3 380.1h1.2v1.2h-1.2zM618.6 395.2h1.2v1.2h-1.2zM521.8 456.4h1.2v1.2h-1.2zM584.2 414.9h1.2v1.2h-1.2zM468.5 486.0h1.2v1.2h-1.2zM614.1 394.1h1.2v1.2h-1.2zM613.6 397.2h1.2v1.2h-1.2zM604.4 405.4h1.2v1.2h-1.2zM534.4 449.6h1.2v1.2h-1.2zM517.6 458.6h1.2v1.2h-1.2zM528.1 452.0h1.2v1.2h-1.2zM430.2 508.1h1.2v1.2h-1.2zM635.6 381.3h1.2v1.2h-1.2zM559.1 433.0h1.2v1.2h-1.2zM519.9 460.3h1.2v1.2h-1.2zM560.6 435.6h1.2v1.2h-1.2zM604.5 405.7h1.2v1.2h-1.2zM518.4 460.1h1.2v1.2h-1.2zM632.1 383.9h1.2v1.2h-1.2zM654.6 368.5h1.2v1.2h-1.2zM519.9 458.0h1.2v1.2h-1.2zM456.7 493.2h1.2v1.2h-1.2zM614.3 396.8h1.2v1.2h-1.2zM673.2 356.6h1.2v1.2h-1.2zM459.3 492.2h1.2v1.2h-1.2zM602.2 405.6h1.2v1.2h-1.2zM630.8 387.7h1.2v1.2h-1.2zM654.9 366.3h1.2v1.2h-1.2zM453.0 496.5h1.2v1.2h-1.2zM445.0 501.1h1.2v1.2h-1.2zM671.9 359.2h1.2v1.2h-1.2zM451.4 498.5h1.2v1.2h-1.2zM466.6 487.2h1.2v1.2h-1.2zM567.4 426.9h1.2v1.2h-1.2zM534.8 446.2h1.2v1.2h-1.2zM611.8 397.3h1.2v1.2h-1.2zM470.0 486.7h1.2v1.2h-1.2zM653.3 368.3h1.2v1.2h-1.2zM476.8 481.6h1.2v1.2h-1.2zM616.5 394.6h1.2v1.2h-1.2zM438.9 503.9h1.2v1.2h-1.2zM541.7 444.7h1.2v1.2h-1.2zM430.0 507.7h1.2v1.2h-1.2zM501.3 469.5h1.2v1.2h-1.2zM500.9 467.6h1.2v1.2h-1.2zM604.0 402.6h1.2v1.2h-1.2zM537.0 449.3h1.2v1.2h-1.2zM436.2 504.4h1.2v1.2h-1.2zM673.8 357.1h1.2v1.2h-1.2zM646.8 372.7h1.2v1.2h-1.2zM653.8 367.5h1.2v1.2h-1.2zM484.2 478.0h1.2v1.2h-1.2zM521.6 457.6h1.2v1.2h-1.2zM479.3 481.7h1.2v1.2h-1.2zM453.4 496.3h1.2v1.2h-1.2zM430.2 507.4h1.2v1.2h-1.2zM549.2 438.9h1.2v1.2h-1.2zM453.0 496.0h1.2v1.2h-1.2zM466.4 487.2h1.2v1.2h-1.2zM639.7 378.1h1.2v1.2h-1.2zM544.4 443.1h1.2v1.2h-1.2zM468.3 487.8h1.2v1.2h-1.2zM591.4 412.6h1.2v1.2h-1.2zM489.1 477.9h1.2v1.2h-1.2zM555.2 437.0h1.2v1.2h-1.2zM493.4 475.9h1.2v1.2h-1.2zM552.5 439.0h1.2v1.2h-1.2zM580.9 419.8h1.2v1.2h-1.2zM557.6 433.7h1.2v1.2h-1.2zM522.0 458.5h1.2v1.2h-1.2zM622.0 389.1h1.2v1.2h-1.2zM643.0 375.6h1.2v1.2h-1.2zM467.2 486.8h1.2v1.2h-1.2zM456.3 494.0h1.2v1.2h-1.2zM450.5 497.2h1.2v1.2h-1.2zM669.8 358.4h1.2v1.2h-1.2zM660.2 364.7h1.2v1.2h-1.2zM480.2 482.5h1.2v1.2h-1.2zM667.4 362.3h1.2v1.2h-1.2zM474.4 483.9h1.2v1.2h-1.2zM550.0 438.3h1.2v1.2h-1.2zM547.7 438.9h1.2v1.2h-1.2zM653.5 368.8h1.2v1.2h-1.2zM432.1 506.9h1.2v1.2h-1.2zM501.6 470.5h1.2v1.2h-1.2zM573.7 426.7h1.2v1.2h-1.2zM438.6 504.0h1.2v1.2h-1.2zM481.7 478.4h1.2v1.2h-1.2zM539.6 444.2h1.2v1.2h-1.2zM644.8 371.8h1.2v1.2h-1.2zM614.5 395.0h1.2v1.2h-1.2zM631.7 385.6h1.2v1.2h-1.2zM614.5 396.9h1.2v1.2h-1.2zM601.0 404.3h1.2v1.2h-1.2zM636.9 380.7h1.2v1.2h-1.2zM594.3 413.0h1.2v1.2h-1.2zM608.1 400.8h1.2v1.2h-1.2zM498.2 470.7h1.2v1.2h-1.2zM464.2 488.5h1.2v1.2h-1.2zM613.4 397.9h1.2v1.2h-1.2zM463.8 489.8h1.2v1.2h-1.2zM654.6 369.3h1.2v1.2h-1.2zM572.9 426.5h1.2v1.2h-1.2zM505.2 469.3h1.2v1.2h-1.2zM659.0 367.2h1.2v1.2h-1.2zM461.1 491.6h1.2v1.2h-1.2zM552.1 435.1h1.2v1.2h-1.2zM445.0 501.2h1.2v1.2h-1.2zM666.2 362.0h1.2v1.2h-1.2zM567.5 427.5h1.2v1.2h-1.2zM625.3 389.8h1.2v1.2h-1.2zM493.2 473.9h1.2v1.2h-1.2zM624.8 387.6h1.2v1.2h-1.2zM599.8 409.3h1.2v1.2h-1.2zM584.8 418.6h1.2v1.2h-1.2zM662.5 363.8h1.2v1.2h-1.2zM531.6 452.0h1.2v1.2h-1.2zM526.9 455.4h1.2v1.2h-1.2zM597.0 409.7h1.2v1.2h-1.2zM633.2 379.1h1.2v1.2h-1.2zM506.6 465.8h1.2v1.2h-1.2zM591.4 412.7h1.2v1.2h-1.2zM474.7 482.7h1.2v1.2h-1.2zM561.5 431.9h1.2v1.2h-1.2zM616.6 396.8h1.2v1.2h-1.2zM438.3 504.0h1.2v1.2h-1.2zM606.1 401.1h1.2v1.2h-1.2zM425.7 510.2h1.2v1.2h-1.2zM664.5 361.9h1.2v1.2h-1.2zM540.5 443.1h1.2v1.2h-1.2zM525.4 455.3h1.2v1.2h-1.2zM604.2 404.7h1.2v1.2h-1.2zM554.3 434.9h1.2v1.2h-1.2zM606.9 403.3h1.2v1.2h-1.2zM443.3 501.8h1.2v1.2h-1.2zM564.3 428.6h1.2v1.2h-1.2zM563.1 430.9h1.2v1.2h-1.2zM657.8 367.0h1.2v1.2h-1.2zM431.8 506.9h1.2v1.2h-1.2zM536.5 447.9h1.2v1.2h-1.2zM581.6 419.5h1.2v1.2h-1.2zM561.2 435.7h1.2v1.2h-1.2zM440.6 502.9h1.2v1.2h-1.2zM572.0 427.2h1.2v1.2h-1.2zM478.1 482.2h1.2v1.2h-1.2zM471.3 485.3h1.2v1.2h-1.2zM644.3 375.3h1.2v1.2h-1.2zM471.9 486.2h1.2v1.2h-1.2zM536.8 448.9h1.2v1.2h-1.2zM611.8 399.1h1.2v1.2h-1.2zM600.9 405.6h1.2v1.2h-1.2zM561.9 430.6h1.2v1.2h-1.2zM626.1 388.6h1.2v1.2h-1.2zM539.7 446.1h1.2v1.2h-1.2zM578.9 423.2h1.2v1.2h-1.2zM629.1 386.2h1.2v1.2h-1.2zM593.5 413.3h1.2v1.2h-1.2zM584.3 420.1h1.2v1.2h-1.2zM524.6 455.8h1.2v1.2h-1.2zM563.2 428.5h1.2v1.2h-1.2zM522.1 455.6h1.2v1.2h-1.2zM610.3 397.7h1.2v1.2h-1.2zM518.1 462.3h1.2v1.2h-1.2zM539.9 443.9h1.2v1.2h-1.2zM613.1 399.4h1.2v1.2h-1.2zM549.3 439.9h1.2v1.2h-1.2zM507.4 468.8h1.2v1.2h-1.2zM631.2 385.5h1.2v1.2h-1.2zM518.3 459.8h1.2v1.2h-1.2zM635.7 380.5h1.2v1.2h-1.2zM620.6 392.2h1.2v1.2h-1.2zM535.1 448.6h1.2v1.2h-1.2zM602.3 404.7h1.2v1.2h-1.2zM430.5 507.6h1.2v1.2h-1.2zM520.5 460.6h1.2v1.2h-1.2zM639.6 375.4h1.2v1.2h-1.2zM568.5 427.7h1.2v1.2h-1.2zM563.0 429.4h1.2v1.2h-1.2zM590.1 414.5h1.2v1.2h-1.2zM593.4 413.1h1.2v1.2h-1.2zM569.6 426.7h1.2v1.2h-1.2zM528.3 454.0h1.2v1.2h-1.2zM468.3 485.2h1.2v1.2h-1.2zM495.9 474.5h1.2v1.2h-1.2zM496.0 472.1h1.2v1.2h-1.2zM530.9 452.1h1.2v1.2h-1.2zM674.8 357.4h1.2v1.2h-1.2zM511.1 460.6h1.2v1.2h-1.2zM535.1 447.2h1.2v1.2h-1.2zM515.9 461.8h1.2v1.2h-1.2zM569.0 429.3h1.2v1.2h-1.2zM661.8 364.3h1.2v1.2h-1.2zM646.9 372.7h1.2v1.2h-1.2zM517.3 458.6h1.2v1.2h-1.2zM489.4 478.4h1.2v1.2h-1.2zM645.7 375.7h1.2v1.2h-1.2zM546.8 440.7h1.2v1.2h-1.2zM595.4 410.2h1.2v1.2h-1.2zM440.4 502.6h1.2v1.2h-1.2zM641.2 377.8h1.2v1.2h-1.2zM501.0 473.8h1.2v1.2h-1.2zM547.0 441.5h1.2v1.2h-1.2zM471.9 486.7h1.2v1.2h-1.2zM528.2 453.8h1.2v1.2h-1.2zM631.5 382.5h1.2v1.2h-1.2zM631.3 385.9h1.2v1.2h-1.2zM541.7 442.2h1.2v1.2h-1.2zM616.2 395.0h1.2v1.2h-1.2zM537.8 446.9h1.2v1.2h-1.2zM516.3 462.5h1.2v1.2h-1.2zM560.0 433.1h1.2v1.2h-1.2zM472.8 485.2h1.2v1.2h-1.2zM502.0 468.4h1.2v1.2h-1.2zM600.7 404.8h1.2v1.2h-1.2zM616.9 394.9h1.2v1.2h-1.2zM436.2 504.9h1.2v1.2h-1.2zM607.4 400.0h1.2v1.2h-1.2zM628.8 384.1h1.2v1.2h-1.2zM534.5 448.0h1.2v1.2h-1.2zM437.6 503.8h1.2v1.2h-1.2zM594.7 409.1h1.2v1.2h-1.2zM484.1 476.9h1.2v1.2h-1.2zM584.7 418.0h1.2v1.2h-1.2zM517.2 461.3h1.2v1.2h-1.2zM583.1 421.5h1.2v1.2h-1.2zM487.2 475.5h1.2v1.2h-1.2zM542.5 442.6h1.2v1.2h-1.2zM554.6 437.0h1.2v1.2h-1.2zM581.6 419.3h1.2v1.2h-1.2zM473.2 484.2h1.2v1.2h-1.2zM665.4 364.4h1.2v1.2h-1.2zM495.0 473.0h1.2v1.2h-1.2zM499.3 469.4h1.2v1.2h-1.2zM486.7 476.0h1.2v1.2h-1.2zM438.9 504.1h1.2v1.2h-1.2zM528.9 453.0h1.2v1.2h-1.2zM617.2 392.7h1.2v1.2h-1.2zM601.5 404.7h1.2v1.2h-1.2zM471.3 486.1h1.2v1.2h-1.2zM456.5 494.7h1.2v1.2h-1.2zM503.2 467.9h1.2v1.2h-1.2zM616.3 396.1h1.2v1.2h-1.2zM545.4 442.4h1.2v1.2h-1.2zM655.6 364.6h1.2v1.2h-1.2zM588.0 415.4h1.2v1.2h-1.2zM579.0 421.7h1.2v1.2h-1.2zM616.2 394.6h1.2v1.2h-1.2zM611.8 395.6h1.2v1.2h-1.2zM508.9 465.1h1.2v1.2h-1.2zM486.9 478.8h1.2v1.2h-1.2zM532.6 452.2h1.2v1.2h-1.2zM545.7 438.3h1.2v1.2h-1.2zM457.7 495.6h1.2v1.2h-1.2zM533.5 447.7h1.2v1.2h-1.2zM583.8 419.6h1.2v1.2h-1.2zM456.2 495.4h1.2v1.2h-1.2zM456.8 494.8h1.2v1.2h-1.2zM465.8 488.2h1.2v1.2h-1.2zM493.5 472.6h1.2v1.2h-1.2zM665.3 362.9h1.2v1.2h-1.2zM428.3 508.5h1.2v1.2h-1.2zM468.3 484.1h1.2v1.2h-1.2zM463.6 492.0h1.2v1.2h-1.2zM541.9 444.9h1.2v1.2h-1.2zM425.6 510.2h1.2v1.2h-1.2zM537.8 445.2h1.2v1.2h-1.2zM463.1 491.1h1.2v1.2h-1.2zM490.1 478.3h1.2v1.2h-1.2zM622.4 392.8h1.2v1.2h-1.2zM468.4 486.8h1.2v1.2h-1.2zM578.1 420.0h1.2v1.2h-1.2zM524.7 455.2h1.2v1.2h-1.2zM527.5 450.4h1.2v1.2h-1.2zM628.6 383.6h1.2v1.2h-1.2zM462.5 490.1h1.2v1.2h-1.2zM655.7 365.6h1.2v1.2h-1.2zM648.0 371.2h1.2v1.2h-1.2zM591.0 413.5h1.2v1.2h-1.2zM434.3 506.5h1.2v1.2h-1.2zM589.7 416.4h1.2v1.2h-1.2zM573.8 424.2h1.2v1.2h-1.2zM617.3 396.2h1.2v1.2h-1.2zM475.9 482.3h1.2v1.2h-1.2zM663.2 362.7h1.2v1.2h-1.2zM646.2 374.1h1.2v1.2h-1.2zM450.8 497.4h1.2v1.2h-1.2zM501.6 469.3h1.2v1.2h-1.2zM430.0 507.6h1.2v1.2h-1.2zM632.2 383.5h1.2v1.2h-1.2zM653.5 370.5h1.2v1.2h-1.2zM672.4 357.3h1.2v1.2h-1.2zM576.7 422.8h1.2v1.2h-1.2zM590.4 412.8h1.2v1.2h-1.2zM593.6 410.2h1.2v1.2h-1.2zM566.2 427.1h1.2v1.2h-1.2zM663.0 365.3h1.2v1.2h-1.2zM575.7 426.4h1.2v1.2h-1.2zM506.8 467.4h1.2v1.2h-1.2zM551.7 436.5h1.2v1.2h-1.2zM426.5 509.6h1.2v1.2h-1.2zM605.1 402.9h1.2v1.2h-1.2zM597.5 410.1h1.2v1.2h-1.2zM528.4 453.3h1.2v1.2h-1.2zM637.4 379.8h1.2v1.2h-1.2zM613.1 398.5h1.2v1.2h-1.2zM507.0 465.7h1.2v1.2h-1.2zM441.4 502.6h1.2v1.2h-1.2zM455.3 493.7h1.2v1.2h-1.2zM468.5 486.3h1.2v1.2h-1.2zM498.8 469.3h1.2v1.2h-1.2zM535.1 448.1h1.2v1.2h-1.2zM656.8 365.1h1.2v1.2h-1.2zM492.3 475.0h1.2v1.2h-1.2zM649.3 371.1h1.2v1.2h-1.2zM594.1 409.4h1.2v1.2h-1.2zM637.9 377.9h1.2v1.2h-1.2zM523.9 454.7h1.2v1.2h-1.2zM422.6 511.3h1.2v1.2h-1.2zM621.1 394.1h1.2v1.2h-1.2zM484.0 480.5h1.2v1.2h-1.2zM457.9 493.0h1.2v1.2h-1.2zM624.2 391.4h1.2v1.2h-1.2zM595.6 408.2h1.2v1.2h-1.2zM475.6 485.4h1.2v1.2h-1.2zM489.6 475.4h1.2v1.2h-1.2zM659.6 361.1h1.2v1.2h-1.2zM489.8 479.9h1.2v1.2h-1.2zM599.6 409.6h1.2v1.2h-1.2zM454.6 494.7h1.2v1.2h-1.2zM628.2 386.6h1.2v1.2h-1.2zM451.6 497.5h1.2v1.2h-1.2zM552.5 437.2h1.2v1.2h-1.2zM430.7 507.2h1.2v1.2h-1.2zM561.1 430.9h1.2v1.2h-1.2zM636.2 381.0h1.2v1.2h-1.2zM443.2 502.1h1.2v1.2h-1.2zM491.2 477.1h1.2v1.2h-1.2zM615.4 396.0h1.2v1.2h-1.2zM575.8 426.4h1.2v1.2h-1.2zM501.0 469.0h1.2v1.2h-1.2zM581.0 420.3h1.2v1.2h-1.2zM536.9 444.4h1.2v1.2h-1.2zM640.1 375.6h1.2v1.2h-1.2zM496.0 474.8h1.2v1.2h-1.2zM613.7 395.9h1.2v1.2h-1.2zM582.8 419.7h1.2v1.2h-1.2zM609.3 400.3h1.2v1.2h-1.2zM517.6 459.0h1.2v1.2h-1.2zM605.4 402.8h1.2v1.2h-1.2zM598.6 407.4h1.2v1.2h-1.2zM519.9 458.1h1.2v1.2h-1.2zM428.5 508.7h1.2v1.2h-1.2zM665.6 362.8h1.2v1.2h-1.2zM602.5 404.5h1.2v1.2h-1.2zM473.6 483.3h1.2v1.2h-1.2zM606.8 402.6h1.2v1.2h-1.2zM492.4 474.7h1.2v1.2h-1.2zM540.6 446.1h1.2v1.2h-1.2zM639.5 381.6h1.2v1.2h-1.2zM535.3 449.4h1.2v1.2h-1.2zM494.7 473.6h1.2v1.2h-1.2zM499.2 470.8h1.2v1.2h-1.2zM441.3 502.5h1.2v1.2h-1.2zM477.4 481.5h1.2v1.2h-1.2zM490.4 474.5h1.2v1.2h-1.2zM465.6 487.7h1.2v1.2h-1.2zM437.8 504.3h1.2v1.2h-1.2zM539.7 446.3h1.2v1.2h-1.2zM476.1 482.7h1.2v1.2h-1.2zM608.9 400.4h1.2v1.2h-1.2zM655.4 365.5h1.2v1.2h-1.2zM490.9 477.9h1.2v1.2h-1.2zM566.7 429.2h1.2v1.2h-1.2zM550.1 441.0h1.2v1.2h-1.2zM440.8 503.4h1.2v1.2h-1.2zM453.4 497.5h1.2v1.2h-1.2zM645.8 372.8h1.2v1.2h-1.2zM541.9 444.9h1.2v1.2h-1.2zM625.5 392.1h1.2v1.2h-1.2zM438.7 503.6h1.2v1.2h-1.2zM572.4 426.7h1.2v1.2h-1.2zM640.9 379.2h1.2v1.2h-1.2zM641.3 377.1h1.2v1.2h-1.2zM423.2 511.0h1.2v1.2h-1.2zM553.9 438.0h1.2v1.2h-1.2zM515.2 460.9h1.2v1.2h-1.2zM614.2 397.4h1.2v1.2h-1.2zM440.3 502.9h1.2v1.2h-1.2zM488.9 475.7h1.2v1.2h-1.2zM627.6 385.9h1.2v1.2h-1.2zM540.7 444.4h1.2v1.2h-1.2zM536.5 447.6h1.2v1.2h-1.2zM667.0 361.8h1.2v1.2h-1.2zM502.8 467.0h1.2v1.2h-1.2zM432.4 507.3h1.2v1.2h-1.2zM521.1 459.6h1.2v1.2h-1.2zM460.6 492.0h1.2v1.2h-1.2zM442.5 502.1h1.2v1.2h-1.2zM565.6 429.0h1.2v1.2h-1.2zM663.2 363.9h1.2v1.2h-1.2zM568.5 428.0h1.2v1.2h-1.2zM585.6 414.8h1.2v1.2h-1.2zM503.7 469.5h1.2v1.2h-1.2zM566.4 432.8h1.2v1.2h-1.2zM612.3 395.6h1.2v1.2h-1.2zM571.0 427.3h1.2v1.2h-1.2zM625.1 389.2h1.2v1.2h-1.2zM561.2 431.6h1.2v1.2h-1.2zM472.0 486.8h1.2v1.2h-1.2zM569.3 425.2h1.2v1.2h-1.2zM546.1 441.4h1.2v1.2h-1.2zM463.8 490.6h1.2v1.2h-1.2zM578.6 421.1h1.2v1.2h-1.2zM628.7 385.4h1.2v1.2h-1.2zM456.0 494.6h1.2v1.2h-1.2zM559.8 432.0h1.2v1.2h-1.2zM607.6 403.9h1.2v1.2h-1.2zM523.8 454.8h1.2v1.2h-1.2zM490.2 477.3h1.2v1.2h-1.2zM516.1 459.6h1.2v1.2h-1.2zM559.0 434.1h1.2v1.2h-1.2zM595.7 410.1h1.2v1.2h-1.2zM563.4 426.8h1.2v1.2h-1.2zM448.9 499.5h1.2v1.2h-1.2zM628.9 384.3h1.2v1.2h-1.2zM655.7 366.4h1.2v1.2h-1.2zM447.4 501.1h1.2v1.2h-1.2zM485.0 477.2h1.2v1.2h-1.2zM465.8 486.9h1.2v1.2h-1.2zM636.8 382.0h1.2v1.2h-1.2zM652.3 369.0h1.2v1.2h-1.2zM433.0 507.0h1.2v1.2h-1.2zM506.0 467.6h1.2v1.2h-1.2zM470.5 484.8h1.2v1.2h-1.2zM540.7 444.6h1.2v1.2h-1.2zM655.1 369.1h1.2v1.2h-1.2zM439.6 504.0h1.2v1.2h-1.2zM465.2 488.3h1.2v1.2h-1.2zM545.1 441.8h1.2v1.2h-1.2zM554.5 435.6h1.2v1.2h-1.2zM610.6 398.7h1.2v1.2h-1.2zM532.6 452.7h1.2v1.2h-1.2zM457.5 493.5h1.2v1.2h-1.2zM511.3 462.5h1.2v1.2h-1.2zM670.5 358.7h1.2v1.2h-1.2zM611.9 399.6h1.2v1.2h-1.2zM451.3 498.3h1.2v1.2h-1.2zM626.4 387.5h1.2v1.2h-1.2zM500.5 469.3h1.2v1.2h-1.2zM619.6 392.8h1.2v1.2h-1.2zM425.0 509.7h1.2v1.2h-1.2zM642.4 373.8h1.2v1.2h-1.2zM462.9 490.5h1.2v1.2h-1.2zM537.2 446.2h1.2v1.2h-1.2zM589.4 415.4h1.2v1.2h-1.2zM550.4 440.1h1.2v1.2h-1.2zM463.7 489.9h1.2v1.2h-1.2zM457.0 493.9h1.2v1.2h-1.2zM493.8 477.1h1.2v1.2h-1.2zM435.1 505.8h1.2v1.2h-1.2zM476.6 482.5h1.2v1.2h-1.2zM454.7 496.0h1.2v1.2h-1.2zM539.5 446.0h1.2v1.2h-1.2zM512.1 462.4h1.2v1.2h-1.2zM570.4 426.4h1.2v1.2h-1.2zM492.9 474.3h1.2v1.2h-1.2zM430.4 507.3h1.2v1.2h-1.2zM505.6 467.1h1.2v1.2h-1.2zM613.0 397.3h1.2v1.2h-1.2zM486.6 477.3h1.2v1.2h-1.2zM524.2 453.4h1.2v1.2h-1.2zM613.0 397.2h1.2v1.2h-1.2zM524.8 455.4h1.2v1.2h-1.2zM646.4 372.8h1.2v1.2h-1.2zM654.3 366.2h1.2v1.2h-1.2zM500.4 471.3h1.2v1.2h-1.2zM608.1 399.5h1.2v1.2h-1.2zM485.9 478.0h1.2v1.2h-1.2zM457.1 494.9h1.2v1.2h-1.2zM532.7 448.9h1.2v1.2h-1.2zM574.3 423.2h1.2v1.2h-1.2zM658.7 367.0h1.2v1.2h-1.2zM458.7 492.3h1.2v1.2h-1.2zM602.2 405.1h1.2v1.2h-1.2zM542.2 444.0h1.2v1.2h-1.2zM455.1 496.0h1.2v1.2h-1.2zM668.1 357.4h1.2v1.2h-1.2zM598.0 407.4h1.2v1.2h-1.2zM454.4 494.9h1.2v1.2h-1.2zM651.1 367.8h1.2v1.2h-1.2zM447.9 499.4h1.2v1.2h-1.2zM445.3 500.6h1.2v1.2h-1.2zM505.7 467.7h1.2v1.2h-1.2zM659.3 363.9h1.2v1.2h-1.2zM430.2 507.8h1.2v1.2h-1.2zM654.3 368.3h1.2v1.2h-1.2zM576.7 421.5h1.2v1.2h-1.2zM438.8 504.0h1.2v1.2h-1.2zM565.8 431.4h1.2v1.2h-1.2zM538.0 446.9h1.2v1.2h-1.2zM564.6 428.8h1.2v1.2h-1.2zM608.5 400.9h1.2v1.2h-1.2zM593.6 410.4h1.2v1.2h-1.2zM674.3 357.8h1.2v1.2h-1.2zM461.5 491.6h1.2v1.2h-1.2zM627.6 385.6h1.2v1.2h-1.2zM525.9 454.3h1.2v1.2h-1.2zM620.1 394.0h1.2v1.2h-1.2zM647.6 371.1h1.2v1.2h-1.2zM673.0 358.3h1.2v1.2h-1.2zM489.2 475.1h1.2v1.2h-1.2zM536.5 446.2h1.2v1.2h-1.2zM660.5 363.8h1.2v1.2h-1.2zM661.3 367.2h1.2v1.2h-1.2zM516.2 460.7h1.2v1.2h-1.2zM659.9 364.1h1.2v1.2h-1.2zM524.6 454.8h1.2v1.2h-1.2zM516.7 460.8h1.2v1.2h-1.2zM613.4 398.4h1.2v1.2h-1.2zM541.1 444.6h1.2v1.2h-1.2zM535.3 451.0h1.2v1.2h-1.2zM519.6 459.3h1.2v1.2h-1.2zM531.4 452.8h1.2v1.2h-1.2zM457.2 493.9h1.2v1.2h-1.2zM437.3 504.9h1.2v1.2h-1.2zM612.7 395.9h1.2v1.2h-1.2zM564.7 429.5h1.2v1.2h-1.2zM591.9 412.9h1.2v1.2h-1.2zM625.0 388.4h1.2v1.2h-1.2zM480.1 478.4h1.2v1.2h-1.2zM481.0 482.1h1.2v1.2h-1.2zM492.2 474.4h1.2v1.2h-1.2zM498.8 470.7h1.2v1.2h-1.2zM614.4 396.3h1.2v1.2h-1.2zM516.5 460.8h1.2v1.2h-1.2zM503.6 469.1h1.2v1.2h-1.2zM582.9 417.0h1.2v1.2h-1.2zM469.0 485.5h1.2v1.2h-1.2zM448.7 499.8h1.2v1.2h-1.2zM598.3 408.5h1.2v1.2h-1.2zM613.3 397.0h1.2v1.2h-1.2zM496.8 471.6h1.2v1.2h-1.2zM582.8 417.7h1.2v1.2h-1.2zM430.4 507.7h1.2v1.2h-1.2zM524.2 457.5h1.2v1.2h-1.2zM568.1 426.1h1.2v1.2h-1.2zM486.0 480.4h1.2v1.2h-1.2zM510.0 466.1h1.2v1.2h-1.2zM576.1 422.2h1.2v1.2h-1.2zM571.2 426.9h1.2v1.2h-1.2zM460.8 489.8h1.2v1.2h-1.2zM600.7 404.2h1.2v1.2h-1.2zM442.1 501.9h1.2v1.2h-1.2z" fill="#4a4a4a"/>
<path d="M616.7 360.2h1.3v1.3h-1.3zM539.2 426.9h1.3v1.3h-1.3zM612.2 366.6h1.3v1.3h-1.3zM496.8 458.9h1.3v1.3h-1.3zM540.1 423.1h1.3v1.3h-1.3zM630.6 347.9h1.3v1.3h-1.3zM430.7 508.0h1.3v1.3h-1.3zM495.5 452.7h1.3v1.3h-1.3zM545.5 420.8h1.3v1.3h-1.3zM637.4 341.4h1.3v1.3h-1.3zM490.2 466.9h1.3v1.3h-1.3zM630.2 348.9h1.3v1.3h-1.3zM483.7 467.1h1.3v1.3h-1.3zM498.6 457.5h1.3v1.3h-1.3zM562.0 401.8h1.3v1.3h-1.3zM587.4 385.7h1.3v1.3h-1.3zM644.6 349.1h1.3v1.3h-1.3zM644.5 344.7h1.3v1.3h-1.3zM485.1 471.9h1.3v1.3h-1.3zM610.6 362.7h1.3v1.3h-1.3zM582.6 389.4h1.3v1.3h-1.3zM519.6 443.0h1.3v1.3h-1.3zM618.3 357.7h1.3v1.3h-1.3zM649.1 340.7h1.3v1.3h-1.3zM543.1 418.7h1.3v1.3h-1.3zM653.8 339.4h1.3v1.3h-1.3zM454.1 490.4h1.3v1.3h-1.3zM463.9 481.8h1.3v1.3h-1.3zM615.3 358.7h1.3v1.3h-1.3zM499.2 460.2h1.3v1.3h-1.3zM570.0 389.4h1.3v1.3h-1.3zM547.7 413.1h1.3v1.3h-1.3zM458.7 489.0h1.3v1.3h-1.3zM612.8 354.2h1.3v1.3h-1.3zM609.5 363.2h1.3v1.3h-1.3zM458.6 487.4h1.3v1.3h-1.3zM487.6 461.8h1.3v1.3h-1.3zM624.5 363.5h1.3v1.3h-1.3zM652.8 330.9h1.3v1.3h-1.3zM642.1 349.4h1.3v1.3h-1.3zM548.9 419.1h1.3v1.3h-1.3zM514.8 450.0h1.3v1.3h-1.3zM534.5 425.3h1.3v1.3h-1.3zM466.5 482.2h1.3v1.3h-1.3zM547.4 412.5h1.3v1.3h-1.3zM480.3 475.5h1.3v1.3h-1.3zM462.8 481.1h1.3v1.3h-1.3zM518.2 443.2h1.3v1.3h-1.3zM438.0 506.6h1.3v1.3h-1.3zM540.9 417.2h1.3v1.3h-1.3zM598.1 373.9h1.3v1.3h-1.3zM586.7 384.7h1.3v1.3h-1.3zM668.7 327.6h1.3v1.3h-1.3zM646.1 346.4h1.3v1.3h-1.3zM582.3 388.4h1.3v1.3h-1.3zM649.1 336.2h1.3v1.3h-1.3zM534.3 426.1h1.3v1.3h-1.3zM624.1 353.0h1.3v1.3h-1.3zM493.8 459.3h1.3v1.3h-1.3zM555.2 408.2h1.3v1.3h-1.3zM669.9 329.1h1.3v1.3h-1.3zM573.4 395.7h1.3v1.3h-1.3zM550.1 410.8h1.3v1.3h-1.3zM621.1 360.5h1.3v1.3h-1.3zM500.9 456.6h1.3v1.3h-1.3zM632.2 353.0h1.3v1.3h-1.3zM426.5 509.6h1.3v1.3h-1.3zM482.1 469.8h1.3v1.3h-1.3zM466.7 478.5h1.3v1.3h-1.3zM487.0 469.5h1.3v1.3h-1.3zM661.2 338.3h1.3v1.3h-1.3zM427.9 510.4h1.3v1.3h-1.3zM497.4 462.9h1.3v1.3h-1.3zM567.2 397.7h1.3v1.3h-1.3zM599.8 372.9h1.3v1.3h-1.3zM617.7 360.8h1.3v1.3h-1.3zM518.8 443.2h1.3v1.3h-1.3zM477.5 479.0h1.3v1.3h-1.3zM637.6 350.3h1.3v1.3h-1.3zM452.7 489.8h1.3v1.3h-1.3zM438.3 505.0h1.3v1.3h-1.3zM480.4 477.1h1.3v1.3h-1.3zM546.5 417.1h1.3v1.3h-1.3zM660.4 335.0h1.3v1.3h-1.3zM606.3 371.8h1.3v1.3h-1.3zM564.6 397.7h1.3v1.3h-1.3zM553.8 408.6h1.3v1.3h-1.3zM597.4 374.3h1.3v1.3h-1.3zM580.4 382.2h1.3v1.3h-1.3zM507.0 455.5h1.3v1.3h-1.3zM445.3 497.6h1.3v1.3h-1.3zM472.7 476.0h1.3v1.3h-1.3zM620.0 355.7h1.3v1.3h-1.3zM582.4 389.5h1.3v1.3h-1.3zM623.6 355.5h1.3v1.3h-1.3zM433.1 507.5h1.3v1.3h-1.3zM649.9 335.2h1.3v1.3h-1.3zM518.6 443.3h1.3v1.3h-1.3zM656.3 332.9h1.3v1.3h-1.3zM572.3 394.3h1.3v1.3h-1.3zM560.4 403.4h1.3v1.3h-1.3zM628.9 352.3h1.3v1.3h-1.3zM580.2 395.2h1.3v1.3h-1.3zM592.6 381.7h1.3v1.3h-1.3zM461.7 485.5h1.3v1.3h-1.3zM574.8 392.3h1.3v1.3h-1.3zM512.1 448.5h1.3v1.3h-1.3zM440.9 504.9h1.3v1.3h-1.3zM455.5 490.3h1.3v1.3h-1.3zM543.3 414.6h1.3v1.3h-1.3zM488.3 469.9h1.3v1.3h-1.3zM615.6 362.5h1.3v1.3h-1.3zM452.8 492.7h1.3v1.3h-1.3zM425.3 510.5h1.3v1.3h-1.3zM674.2 325.4h1.3v1.3h-1.3zM501.0 452.9h1.3v1.3h-1.3zM550.9 418.3h1.3v1.3h-1.3zM475.0 476.9h1.3v1.3h-1.3zM474.7 472.4h1.3v1.3h-1.3zM523.7 439.1h1.3v1.3h-1.3zM621.8 355.8h1.3v1.3h-1.3zM431.7 507.0h1.3v1.3h-1.3zM633.8 342.1h1.3v1.3h-1.3zM672.5 325.0h1.3v1.3h-1.3zM563.4 400.8h1.3v1.3h-1.3zM513.0 448.3h1.3v1.3h-1.3zM481.0 471.5h1.3v1.3h-1.3zM468.1 481.0h1.3v1.3h-1.3zM503.7 457.0h1.3v1.3h-1.3zM637.4 340.7h1.3v1.3h-1.3zM422.6 511.1h1.3v1.3h-1.3zM620.8 354.9h1.3v1.3h-1.3zM590.8 377.4h1.3v1.3h-1.3zM426.6 509.5h1.3v1.3h-1.3zM439.4 505.1h1.3v1.3h-1.3zM607.9 365.9h1.3v1.3h-1.3zM592.2 375.7h1.3v1.3h-1.3zM501.2 455.0h1.3v1.3h-1.3zM639.9 352.5h1.3v1.3h-1.3zM475.0 473.2h1.3v1.3h-1.3zM529.9 425.7h1.3v1.3h-1.3zM450.9 493.5h1.3v1.3h-1.3zM585.3 387.1h1.3v1.3h-1.3zM443.8 501.3h1.3v1.3h-1.3zM467.2 478.1h1.3v1.3h-1.3zM615.8 363.9h1.3v1.3h-1.3zM548.5 411.9h1.3v1.3h-1.3zM589.4 378.7h1.3v1.3h-1.3zM607.6 365.0h1.3v1.3h-1.3zM575.4 391.1h1.3v1.3h-1.3zM471.9 479.9h1.3v1.3h-1.3zM598.7 376.6h1.3v1.3h-1.3zM451.2 492.8h1.3v1.3h-1.3zM490.1 467.8h1.3v1.3h-1.3zM535.3 425.7h1.3v1.3h-1.3zM450.8 494.6h1.3v1.3h-1.3zM448.6 493.4h1.3v1.3h-1.3zM587.0 379.0h1.3v1.3h-1.3zM609.7 367.8h1.3v1.3h-1.3zM515.7 442.0h1.3v1.3h-1.3zM520.5 440.5h1.3v1.3h-1.3zM474.4 476.3h1.3v1.3h-1.3zM553.9 407.8h1.3v1.3h-1.3zM568.7 394.3h1.3v1.3h-1.3zM658.2 341.2h1.3v1.3h-1.3zM432.1 506.4h1.3v1.3h-1.3zM651.9 342.5h1.3v1.3h-1.3zM672.6 337.4h1.3v1.3h-1.3zM509.5 451.0h1.3v1.3h-1.3zM605.6 368.5h1.3v1.3h-1.3zM630.7 353.6h1.3v1.3h-1.3zM586.7 390.1h1.3v1.3h-1.3zM495.0 456.6h1.3v1.3h-1.3zM579.5 389.3h1.3v1.3h-1.3zM643.8 343.3h1.3v1.3h-1.3zM448.9 495.9h1.3v1.3h-1.3zM543.3 419.2h1.3v1.3h-1.3zM427.5 509.8h1.3v1.3h-1.3zM635.7 347.0h1.3v1.3h-1.3zM618.9 358.9h1.3v1.3h-1.3zM433.5 506.9h1.3v1.3h-1.3zM610.6 362.5h1.3v1.3h-1.3zM596.9 375.7h1.3v1.3h-1.3zM453.8 489.9h1.3v1.3h-1.3zM554.8 404.6h1.3v1.3h-1.3zM596.3 381.7h1.3v1.3h-1.3zM506.7 452.4h1.3v1.3h-1.3zM549.4 409.2h1.3v1.3h-1.3zM668.9 335.3h1.3v1.3h-1.3zM582.8 384.6h1.3v1.3h-1.3zM548.9 415.7h1.3v1.3h-1.3zM438.5 505.5h1.3v1.3h-1.3zM452.5 491.8h1.3v1.3h-1.3zM637.2 348.1h1.3v1.3h-1.3zM609.8 363.4h1.3v1.3h-1.3zM633.2 349.8h1.3v1.3h-1.3zM568.2 402.7h1.3v1.3h-1.3zM567.6 389.5h1.3v1.3h-1.3zM556.1 407.1h1.3v1.3h-1.3zM607.9 368.1h1.3v1.3h-1.3zM505.4 450.4h1.3v1.3h-1.3zM547.6 410.8h1.3v1.3h-1.3zM540.7 427.8h1.3v1.3h-1.3zM589.3 381.2h1.3v1.3h-1.3zM476.5 481.3h1.3v1.3h-1.3zM428.1 509.5h1.3v1.3h-1.3zM444.2 500.4h1.3v1.3h-1.3zM467.2 482.1h1.3v1.3h-1.3zM638.9 348.7h1.3v1.3h-1.3zM603.3 374.2h1.3v1.3h-1.3zM611.7 365.1h1.3v1.3h-1.3zM534.3 426.7h1.3v1.3h-1.3zM447.8 496.6h1.3v1.3h-1.3zM539.6 426.2h1.3v1.3h-1.3zM640.3 348.4h1.3v1.3h-1.3zM550.7 409.4h1.3v1.3h-1.3zM581.8 385.6h1.3v1.3h-1.3zM516.5 446.8h1.3v1.3h-1.3zM459.8 484.0h1.3v1.3h-1.3zM580.5 387.3h1.3v1.3h-1.3zM544.6 414.6h1.3v1.3h-1.3zM509.3 450.2h1.3v1.3h-1.3zM487.3 468.7h1.3v1.3h-1.3zM598.0 378.3h1.3v1.3h-1.3zM502.3 456.0h1.3v1.3h-1.3zM567.6 403.3h1.3v1.3h-1.3zM487.6 466.9h1.3v1.3h-1.3zM612.6 373.3h1.3v1.3h-1.3zM516.7 448.8h1.3v1.3h-1.3zM543.0 420.6h1.3v1.3h-1.3zM656.7 335.8h1.3v1.3h-1.3zM603.7 361.1h1.3v1.3h-1.3zM608.2 366.0h1.3v1.3h-1.3zM507.7 452.8h1.3v1.3h-1.3zM634.6 355.1h1.3v1.3h-1.3zM519.5 438.2h1.3v1.3h-1.3zM672.0 336.5h1.3v1.3h-1.3zM648.6 340.4h1.3v1.3h-1.3zM588.7 385.1h1.3v1.3h-1.3zM632.3 342.1h1.3v1.3h-1.3zM559.6 403.4h1.3v1.3h-1.3zM607.4 366.0h1.3v1.3h-1.3zM453.4 491.6h1.3v1.3h-1.3zM672.1 330.6h1.3v1.3h-1.3zM624.4 351.6h1.3v1.3h-1.3zM457.9 488.3h1.3v1.3h-1.3zM483.2 472.8h1.3v1.3h-1.3zM567.4 398.7h1.3v1.3h-1.3zM614.9 364.5h1.3v1.3h-1.3zM459.5 487.7h1.3v1.3h-1.3zM665.0 333.5h1.3v1.3h-1.3zM509.4 446.7h1.3v1.3h-1.3zM673.7 325.1h1.3v1.3h-1.3zM612.4 367.5h1.3v1.3h-1.3zM544.7 419.8h1.3v1.3h-1.3zM513.6 448.2h1.3v1.3h-1.3zM446.2 497.5h1.3v1.3h-1.3zM444.1 500.5h1.3v1.3h-1.3zM581.2 388.1h1.3v1.3h-1.3zM617.7 358.5h1.3v1.3h-1.3zM651.6 337.5h1.3v1.3h-1.3zM514.2 454.4h1.3v1.3h-1.3zM659.2 337.0h1.3v1.3h-1.3zM497.0 457.2h1.3v1.3h-1.3zM659.8 331.8h1.3v1.3h-1.3zM654.4 336.1h1.3v1.3h-1.3zM461.0 486.1h1.3v1.3h-1.3zM639.8 348.6h1.3v1.3h-1.3zM600.0 372.7h1.3v1.3h-1.3zM599.7 373.8h1.3v1.3h-1.3zM634.6 348.0h1.3v1.3h-1.3zM557.7 401.6h1.3v1.3h-1.3zM550.1 417.2h1.3v1.3h-1.3zM514.7 448.3h1.3v1.3h-1.3zM640.9 353.4h1.3v1.3h-1.3zM650.0 338.1h1.3v1.3h-1.3zM462.4 483.5h1.3v1.3h-1.3zM617.3 362.6h1.3v1.3h-1.3zM491.6 462.7h1.3v1.3h-1.3zM468.4 476.7h1.3v1.3h-1.3zM471.7 475.6h1.3v1.3h-1.3zM567.0 397.5h1.3v1.3h-1.3zM492.6 463.6h1.3v1.3h-1.3zM483.1 470.3h1.3v1.3h-1.3zM446.7 498.8h1.3v1.3h-1.3zM504.0 458.0h1.3v1.3h-1.3zM617.8 360.5h1.3v1.3h-1.3zM427.3 509.6h1.3v1.3h-1.3zM544.0 417.3h1.3v1.3h-1.3zM574.4 393.8h1.3v1.3h-1.3zM434.4 507.6h1.3v1.3h-1.3zM496.2 459.7h1.3v1.3h-1.3zM651.3 341.3h1.3v1.3h-1.3zM673.6 328.6h1.3v1.3h-1.3zM637.1 343.1h1.3v1.3h-1.3zM464.8 480.1h1.3v1.3h-1.3zM615.3 363.5h1.3v1.3h-1.3zM536.0 426.3h1.3v1.3h-1.3zM465.0 485.9h1.3v1.3h-1.3zM543.6 418.7h1.3v1.3h-1.3zM655.5 340.7h1.3v1.3h-1.3zM643.9 348.1h1.3v1.3h-1.3zM520.9 444.2h1.3v1.3h-1.3zM437.8 505.3h1.3v1.3h-1.3zM649.8 340.0h1.3v1.3h-1.3zM671.5 331.0h1.3v1.3h-1.3zM551.3 408.9h1.3v1.3h-1.3zM478.8 475.3h1.3v1.3h-1.3zM559.5 406.4h1.3v1.3h-1.3zM598.1 373.5h1.3v1.3h-1.3zM543.9 424.6h1.3v1.3h-1.3zM511.1 448.9h1.3v1.3h-1.3zM484.5 468.9h1.3v1.3h-1.3zM497.0 458.3h1.3v1.3h-1.3zM434.4 506.5h1.3v1.3h-1.3zM486.4 469.4h1.3v1.3h-1.3zM663.1 334.5h1.3v1.3h-1.3zM423.9 511.6h1.3v1.3h-1.3zM606.0 370.2h1.3v1.3h-1.3zM621.6 358.8h1.3v1.3h-1.3zM524.3 436.6h1.3v1.3h-1.3zM572.5 388.7h1.3v1.3h-1.3zM477.7 474.3h1.3v1.3h-1.3zM590.9 378.5h1.3v1.3h-1.3zM601.0 375.5h1.3v1.3h-1.3zM607.8 366.7h1.3v1.3h-1.3zM546.3 421.6h1.3v1.3h-1.3zM667.5 334.8h1.3v1.3h-1.3zM641.2 348.0h1.3v1.3h-1.3zM566.7 398.1h1.3v1.3h-1.3zM594.6 378.9h1.3v1.3h-1.3zM491.4 465.8h1.3v1.3h-1.3zM660.7 338.5h1.3v1.3h-1.3zM585.2 383.0h1.3v1.3h-1.3zM648.4 343.0h1.3v1.3h-1.3zM494.9 468.9h1.3v1.3h-1.3zM670.5 330.8h1.3v1.3h-1.3zM448.5 495.2h1.3v1.3h-1.3zM556.1 404.7h1.3v1.3h-1.3zM449.8 492.0h1.3v1.3h-1.3zM469.9 482.3h1.3v1.3h-1.3zM615.3 361.3h1.3v1.3h-1.3zM438.5 505.8h1.3v1.3h-1.3zM518.7 449.4h1.3v1.3h-1.3zM470.3 485.5h1.3v1.3h-1.3zM637.1 344.8h1.3v1.3h-1.3zM442.7 503.2h1.3v1.3h-1.3zM507.0 454.7h1.3v1.3h-1.3zM638.6 348.0h1.3v1.3h-1.3zM595.7 378.7h1.3v1.3h-1.3zM599.9 373.4h1.3v1.3h-1.3zM672.8 335.1h1.3v1.3h-1.3zM427.7 509.7h1.3v1.3h-1.3zM590.1 382.9h1.3v1.3h-1.3zM610.4 368.7h1.3v1.3h-1.3zM611.2 367.0h1.3v1.3h-1.3zM602.6 372.5h1.3v1.3h-1.3zM440.1 505.2h1.3v1.3h-1.3zM443.1 503.6h1.3v1.3h-1.3zM617.5 361.3h1.3v1.3h-1.3zM576.7 390.4h1.3v1.3h-1.3zM488.3 463.7h1.3v1.3h-1.3zM424.2 510.5h1.3v1.3h-1.3zM556.9 402.7h1.3v1.3h-1.3zM444.7 499.9h1.3v1.3h-1.3zM611.3 364.9h1.3v1.3h-1.3zM508.1 445.4h1.3v1.3h-1.3zM626.3 354.1h1.3v1.3h-1.3zM446.0 499.2h1.3v1.3h-1.3zM546.9 416.3h1.3v1.3h-1.3zM447.1 495.9h1.3v1.3h-1.3zM619.4 362.5h1.3v1.3h-1.3zM563.6 397.5h1.3v1.3h-1.3zM481.2 468.3h1.3v1.3h-1.3zM665.6 329.9h1.3v1.3h-1.3zM594.5 378.3h1.3v1.3h-1.3zM507.0 455.9h1.3v1.3h-1.3zM638.4 350.6h1.3v1.3h-1.3zM518.0 444.9h1.3v1.3h-1.3zM660.4 331.9h1.3v1.3h-1.3zM497.0 457.0h1.3v1.3h-1.3zM671.0 327.9h1.3v1.3h-1.3zM437.6 505.7h1.3v1.3h-1.3zM607.8 361.2h1.3v1.3h-1.3zM495.6 460.3h1.3v1.3h-1.3zM529.1 434.0h1.3v1.3h-1.3zM582.9 386.4h1.3v1.3h-1.3zM433.4 507.6h1.3v1.3h-1.3zM478.4 471.3h1.3v1.3h-1.3zM448.1 493.9h1.3v1.3h-1.3zM609.1 363.8h1.3v1.3h-1.3zM477.8 477.9h1.3v1.3h-1.3zM548.0 418.2h1.3v1.3h-1.3zM505.0 452.7h1.3v1.3h-1.3zM481.6 475.7h1.3v1.3h-1.3zM658.6 335.5h1.3v1.3h-1.3zM550.3 417.8h1.3v1.3h-1.3zM586.5 385.9h1.3v1.3h-1.3zM600.1 371.8h1.3v1.3h-1.3zM629.7 354.4h1.3v1.3h-1.3zM488.4 463.9h1.3v1.3h-1.3zM441.7 502.1h1.3v1.3h-1.3zM540.1 416.8h1.3v1.3h-1.3zM464.8 482.9h1.3v1.3h-1.3zM427.0 509.6h1.3v1.3h-1.3zM654.7 338.1h1.3v1.3h-1.3zM580.5 387.2h1.3v1.3h-1.3zM526.7 439.2h1.3v1.3h-1.3zM456.3 486.7h1.3v1.3h-1.3zM614.5 359.2h1.3v1.3h-1.3zM556.8 410.1h1.3v1.3h-1.3zM465.9 485.0h1.3v1.3h-1.3zM670.5 332.1h1.3v1.3h-1.3zM662.5 329.2h1.3v1.3h-1.3zM656.6 335.6h1.3v1.3h-1.3zM631.1 352.9h1.3v1.3h-1.3zM556.4 406.6h1.3v1.3h-1.3zM497.9 463.5h1.3v1.3h-1.3zM586.8 379.8h1.3v1.3h-1.3zM460.1 486.5h1.3v1.3h-1.3zM578.0 387.9h1.3v1.3h-1.3zM438.5 506.7h1.3v1.3h-1.3zM425.2 510.2h1.3v1.3h-1.3zM603.0 374.0h1.3v1.3h-1.3zM508.6 449.5h1.3v1.3h-1.3zM598.3 370.4h1.3v1.3h-1.3zM619.3 355.0h1.3v1.3h-1.3zM633.3 347.7h1.3v1.3h-1.3zM577.7 386.8h1.3v1.3h-1.3zM636.2 351.9h1.3v1.3h-1.3zM588.6 387.1h1.3v1.3h-1.3zM656.6 338.3h1.3v1.3h-1.3zM648.9 337.8h1.3v1.3h-1.3zM432.8 507.5h1.3v1.3h-1.3zM489.6 463.1h1.3v1.3h-1.3zM520.3 446.4h1.3v1.3h-1.3zM485.7 469.7h1.3v1.3h-1.3zM466.6 482.4h1.3v1.3h-1.3zM643.0 343.1h1.3v1.3h-1.3zM428.1 508.3h1.3v1.3h-1.3zM467.8 478.6h1.3v1.3h-1.3zM614.3 358.1h1.3v1.3h-1.3zM478.3 475.3h1.3v1.3h-1.3zM487.2 467.7h1.3v1.3h-1.3zM666.8 330.2h1.3v1.3h-1.3zM614.9 360.1h1.3v1.3h-1.3zM535.4 430.3h1.3v1.3h-1.3zM456.3 485.8h1.3v1.3h-1.3zM489.9 462.1h1.3v1.3h-1.3zM670.2 330.5h1.3v1.3h-1.3zM622.1 354.5h1.3v1.3h-1.3zM439.5 504.8h1.3v1.3h-1.3zM600.8 374.4h1.3v1.3h-1.3zM517.0 450.9h1.3v1.3h-1.3zM604.1 364.1h1.3v1.3h-1.3zM496.6 459.3h1.3v1.3h-1.3zM454.8 489.2h1.3v1.3h-1.3zM426.8 509.7h1.3v1.3h-1.3zM496.7 458.7h1.3v1.3h-1.3zM639.6 345.1h1.3v1.3h-1.3zM647.5 345.1h1.3v1.3h-1.3zM594.8 376.6h1.3v1.3h-1.3zM611.2 363.8h1.3v1.3h-1.3zM471.1 478.5h1.3v1.3h-1.3zM511.5 449.9h1.3v1.3h-1.3zM649.5 340.2h1.3v1.3h-1.3zM671.5 333.8h1.3v1.3h-1.3zM534.0 426.5h1.3v1.3h-1.3zM618.3 359.7h1.3v1.3h-1.3zM658.1 336.6h1.3v1.3h-1.3zM674.2 326.1h1.3v1.3h-1.3zM496.7 456.6h1.3v1.3h-1.3zM587.4 380.4h1.3v1.3h-1.3zM520.5 442.1h1.3v1.3h-1.3zM539.6 419.6h1.3v1.3h-1.3zM538.8 419.1h1.3v1.3h-1.3zM492.3 463.6h1.3v1.3h-1.3zM426.6 510.0h1.3v1.3h-1.3zM615.9 355.1h1.3v1.3h-1.3zM598.0 380.6h1.3v1.3h-1.3zM634.6 349.1h1.3v1.3h-1.3zM460.6 484.6h1.3v1.3h-1.3zM481.8 475.1h1.3v1.3h-1.3zM572.7 393.3h1.3v1.3h-1.3zM659.0 334.4h1.3v1.3h-1.3zM541.3 427.5h1.3v1.3h-1.3zM472.6 474.7h1.3v1.3h-1.3zM572.4 393.0h1.3v1.3h-1.3zM664.2 336.7h1.3v1.3h-1.3zM641.6 341.7h1.3v1.3h-1.3zM649.4 340.5h1.3v1.3h-1.3zM525.7 436.9h1.3v1.3h-1.3zM488.2 474.2h1.3v1.3h-1.3zM642.2 341.9h1.3v1.3h-1.3zM621.3 357.1h1.3v1.3h-1.3zM637.4 349.6h1.3v1.3h-1.3zM520.9 441.4h1.3v1.3h-1.3zM494.3 457.2h1.3v1.3h-1.3zM482.6 472.3h1.3v1.3h-1.3zM642.2 345.1h1.3v1.3h-1.3zM654.6 339.8h1.3v1.3h-1.3zM514.8 450.7h1.3v1.3h-1.3zM643.2 347.5h1.3v1.3h-1.3zM518.4 445.2h1.3v1.3h-1.3zM535.2 426.5h1.3v1.3h-1.3zM565.2 395.0h1.3v1.3h-1.3zM477.8 474.1h1.3v1.3h-1.3zM489.5 466.1h1.3v1.3h-1.3zM489.3 464.3h1.3v1.3h-1.3zM487.6 467.4h1.3v1.3h-1.3zM552.3 408.5h1.3v1.3h-1.3zM447.2 499.0h1.3v1.3h-1.3zM619.4 365.3h1.3v1.3h-1.3zM466.1 480.7h1.3v1.3h-1.3zM534.2 427.6h1.3v1.3h-1.3zM584.3 385.1h1.3v1.3h-1.3zM456.7 489.5h1.3v1.3h-1.3zM525.4 437.4h1.3v1.3h-1.3zM564.4 399.4h1.3v1.3h-1.3zM561.1 400.9h1.3v1.3h-1.3zM647.8 342.1h1.3v1.3h-1.3zM620.6 354.5h1.3v1.3h-1.3zM452.4 492.6h1.3v1.3h-1.3zM632.8 347.7h1.3v1.3h-1.3zM561.0 403.4h1.3v1.3h-1.3zM593.5 379.6h1.3v1.3h-1.3zM462.3 486.2h1.3v1.3h-1.3zM541.3 420.4h1.3v1.3h-1.3zM599.0 377.5h1.3v1.3h-1.3zM623.7 352.7h1.3v1.3h-1.3zM625.8 356.3h1.3v1.3h-1.3zM476.8 474.4h1.3v1.3h-1.3zM632.6 350.7h1.3v1.3h-1.3zM565.7 398.3h1.3v1.3h-1.3zM591.1 384.1h1.3v1.3h-1.3zM637.4 341.0h1.3v1.3h-1.3zM524.5 438.1h1.3v1.3h-1.3zM654.7 333.6h1.3v1.3h-1.3zM644.9 347.1h1.3v1.3h-1.3zM626.3 347.7h1.3v1.3h-1.3zM518.0 441.1h1.3v1.3h-1.3zM555.5 402.2h1.3v1.3h-1.3zM465.6 485.7h1.3v1.3h-1.3zM614.1 357.7h1.3v1.3h-1.3zM647.4 342.3h1.3v1.3h-1.3zM462.5 482.5h1.3v1.3h-1.3zM610.4 359.0h1.3v1.3h-1.3zM597.6 374.5h1.3v1.3h-1.3zM431.0 508.5h1.3v1.3h-1.3zM654.0 338.1h1.3v1.3h-1.3zM543.1 421.9h1.3v1.3h-1.3zM490.0 463.8h1.3v1.3h-1.3zM429.4 508.8h1.3v1.3h-1.3zM619.8 357.0h1.3v1.3h-1.3zM507.3 453.6h1.3v1.3h-1.3zM551.8 417.7h1.3v1.3h-1.3zM471.1 479.5h1.3v1.3h-1.3zM575.5 392.0h1.3v1.3h-1.3zM522.4 437.4h1.3v1.3h-1.3zM626.0 351.8h1.3v1.3h-1.3zM590.5 386.2h1.3v1.3h-1.3zM604.5 365.9h1.3v1.3h-1.3zM485.4 465.9h1.3v1.3h-1.3zM438.0 505.6h1.3v1.3h-1.3zM644.6 342.1h1.3v1.3h-1.3zM658.7 342.8h1.3v1.3h-1.3zM584.7 378.0h1.3v1.3h-1.3zM655.2 339.3h1.3v1.3h-1.3zM600.6 375.1h1.3v1.3h-1.3zM575.2 388.0h1.3v1.3h-1.3zM527.9 431.2h1.3v1.3h-1.3zM511.8 450.6h1.3v1.3h-1.3zM545.8 421.9h1.3v1.3h-1.3zM478.1 471.5h1.3v1.3h-1.3zM530.1 425.8h1.3v1.3h-1.3zM550.3 416.0h1.3v1.3h-1.3zM429.7 509.4h1.3v1.3h-1.3zM521.5 439.4h1.3v1.3h-1.3zM493.8 454.4h1.3v1.3h-1.3zM582.4 391.9h1.3v1.3h-1.3zM627.3 352.7h1.3v1.3h-1.3zM577.4 393.9h1.3v1.3h-1.3zM589.9 381.8h1.3v1.3h-1.3zM577.2 389.2h1.3v1.3h-1.3zM486.7 466.4h1.3v1.3h-1.3zM517.1 450.0h1.3v1.3h-1.3zM635.6 353.0h1.3v1.3h-1.3zM661.3 328.4h1.3v1.3h-1.3zM467.7 478.3h1.3v1.3h-1.3zM424.5 511.4h1.3v1.3h-1.3zM665.2 332.3h1.3v1.3h-1.3zM639.5 341.9h1.3v1.3h-1.3zM575.6 391.3h1.3v1.3h-1.3zM628.6 352.2h1.3v1.3h-1.3zM572.3 393.0h1.3v1.3h-1.3zM650.9 338.6h1.3v1.3h-1.3zM483.4 469.4h1.3v1.3h-1.3zM534.3 424.8h1.3v1.3h-1.3zM591.6 381.8h1.3v1.3h-1.3zM476.4 473.0h1.3v1.3h-1.3zM602.8 369.9h1.3v1.3h-1.3zM488.2 466.1h1.3v1.3h-1.3zM601.6 376.1h1.3v1.3h-1.3zM625.4 355.8h1.3v1.3h-1.3zM529.2 431.5h1.3v1.3h-1.3zM672.5 331.9h1.3v1.3h-1.3zM581.7 389.1h1.3v1.3h-1.3zM613.4 365.9h1.3v1.3h-1.3zM427.0 509.9h1.3v1.3h-1.3zM450.4 496.3h1.3v1.3h-1.3zM601.9 375.9h1.3v1.3h-1.3zM660.6 335.5h1.3v1.3h-1.3zM580.9 386.9h1.3v1.3h-1.3zM652.9 342.0h1.3v1.3h-1.3zM436.8 506.6h1.3v1.3h-1.3zM647.6 341.5h1.3v1.3h-1.3zM643.9 339.1h1.3v1.3h-1.3zM581.0 382.3h1.3v1.3h-1.3zM530.5 431.5h1.3v1.3h-1.3zM600.3 375.6h1.3v1.3h-1.3zM483.6 472.9h1.3v1.3h-1.3zM590.8 377.2h1.3v1.3h-1.3zM597.6 378.9h1.3v1.3h-1.3zM558.5 402.5h1.3v1.3h-1.3zM487.7 468.3h1.3v1.3h-1.3zM422.3 511.5h1.3v1.3h-1.3zM471.4 476.2h1.3v1.3h-1.3zM632.9 348.0h1.3v1.3h-1.3zM475.5 469.9h1.3v1.3h-1.3zM440.6 503.4h1.3v1.3h-1.3zM484.2 464.0h1.3v1.3h-1.3zM553.3 411.5h1.3v1.3h-1.3zM570.2 394.8h1.3v1.3h-1.3zM643.9 346.8h1.3v1.3h-1.3zM638.2 348.1h1.3v1.3h-1.3zM667.1 330.6h1.3v1.3h-1.3zM645.7 344.0h1.3v1.3h-1.3zM535.8 423.7h1.3v1.3h-1.3zM457.7 487.7h1.3v1.3h-1.3zM663.8 335.2h1.3v1.3h-1.3zM479.7 470.3h1.3v1.3h-1.3zM579.3 389.2h1.3v1.3h-1.3zM488.8 466.2h1.3v1.3h-1.3zM628.6 351.6h1.3v1.3h-1.3zM472.6 480.0h1.3v1.3h-1.3zM528.3 438.3h1.3v1.3h-1.3zM477.4 473.6h1.3v1.3h-1.3zM639.7 345.0h1.3v1.3h-1.3zM578.6 382.4h1.3v1.3h-1.3zM581.5 387.4h1.3v1.3h-1.3zM501.4 455.0h1.3v1.3h-1.3zM466.5 476.2h1.3v1.3h-1.3zM638.9 347.5h1.3v1.3h-1.3zM615.4 362.9h1.3v1.3h-1.3zM607.8 364.5h1.3v1.3h-1.3zM674.3 328.1h1.3v1.3h-1.3zM563.5 396.7h1.3v1.3h-1.3zM467.0 482.8h1.3v1.3h-1.3zM576.1 386.2h1.3v1.3h-1.3zM494.5 459.8h1.3v1.3h-1.3zM551.7 418.0h1.3v1.3h-1.3zM538.1 423.2h1.3v1.3h-1.3zM564.5 400.6h1.3v1.3h-1.3zM655.1 337.7h1.3v1.3h-1.3zM626.9 349.9h1.3v1.3h-1.3zM526.9 434.3h1.3v1.3h-1.3zM628.7 353.8h1.3v1.3h-1.3zM639.7 342.9h1.3v1.3h-1.3zM617.8 360.6h1.3v1.3h-1.3zM561.4 405.4h1.3v1.3h-1.3zM649.5 344.2h1.3v1.3h-1.3zM546.4 411.1h1.3v1.3h-1.3zM448.6 494.0h1.3v1.3h-1.3zM490.7 459.1h1.3v1.3h-1.3zM588.3 386.5h1.3v1.3h-1.3zM517.8 446.5h1.3v1.3h-1.3zM528.9 434.5h1.3v1.3h-1.3zM523.6 435.2h1.3v1.3h-1.3zM470.4 475.9h1.3v1.3h-1.3zM445.5 499.0h1.3v1.3h-1.3zM434.2 507.1h1.3v1.3h-1.3zM592.1 377.7h1.3v1.3h-1.3zM503.9 455.3h1.3v1.3h-1.3zM537.5 425.7h1.3v1.3h-1.3zM658.6 337.3h1.3v1.3h-1.3zM580.5 385.1h1.3v1.3h-1.3zM627.1 346.8h1.3v1.3h-1.3zM614.8 360.5h1.3v1.3h-1.3zM663.3 334.9h1.3v1.3h-1.3zM438.7 505.2h1.3v1.3h-1.3zM519.1 441.7h1.3v1.3h-1.3zM662.2 332.7h1.3v1.3h-1.3zM539.4 424.3h1.3v1.3h-1.3zM661.8 334.9h1.3v1.3h-1.3zM468.6 480.3h1.3v1.3h-1.3zM437.1 505.3h1.3v1.3h-1.3zM648.5 339.3h1.3v1.3h-1.3zM525.9 436.0h1.3v1.3h-1.3zM550.5 409.5h1.3v1.3h-1.3zM658.9 332.4h1.3v1.3h-1.3zM477.4 473.8h1.3v1.3h-1.3zM666.9 336.5h1.3v1.3h-1.3zM522.2 440.2h1.3v1.3h-1.3zM484.4 474.3h1.3v1.3h-1.3zM481.0 472.0h1.3v1.3h-1.3zM553.1 409.3h1.3v1.3h-1.3zM540.0 417.0h1.3v1.3h-1.3zM646.2 340.8h1.3v1.3h-1.3zM434.7 507.9h1.3v1.3h-1.3zM432.9 507.7h1.3v1.3h-1.3zM460.5 486.4h1.3v1.3h-1.3zM575.2 393.9h1.3v1.3h-1.3zM619.6 358.3h1.3v1.3h-1.3zM543.3 418.1h1.3v1.3h-1.3zM577.2 390.8h1.3v1.3h-1.3zM584.5 387.9h1.3v1.3h-1.3zM426.7 510.0h1.3v1.3h-1.3zM484.2 471.4h1.3v1.3h-1.3zM674.4 329.8h1.3v1.3h-1.3zM505.6 451.2h1.3v1.3h-1.3zM661.5 334.4h1.3v1.3h-1.3zM546.4 413.1h1.3v1.3h-1.3zM478.2 477.3h1.3v1.3h-1.3zM422.4 510.3h1.3v1.3h-1.3zM476.9 474.4h1.3v1.3h-1.3zM503.2 463.0h1.3v1.3h-1.3zM533.0 426.5h1.3v1.3h-1.3zM535.0 422.0h1.3v1.3h-1.3zM560.6 402.0h1.3v1.3h-1.3zM541.9 424.1h1.3v1.3h-1.3zM430.1 508.5h1.3v1.3h-1.3zM489.4 467.4h1.3v1.3h-1.3zM665.4 333.7h1.3v1.3h-1.3zM428.7 508.8h1.3v1.3h-1.3zM607.7 377.0h1.3v1.3h-1.3zM542.4 419.7h1.3v1.3h-1.3zM600.8 370.9h1.3v1.3h-1.3zM506.0 451.8h1.3v1.3h-1.3zM515.5 447.7h1.3v1.3h-1.3zM552.6 412.1h1.3v1.3h-1.3zM652.1 342.0h1.3v1.3h-1.3zM504.9 454.6h1.3v1.3h-1.3zM443.5 499.4h1.3v1.3h-1.3zM431.5 508.3h1.3v1.3h-1.3zM645.0 342.3h1.3v1.3h-1.3zM501.2 455.6h1.3v1.3h-1.3zM452.1 489.5h1.3v1.3h-1.3zM572.8 391.2h1.3v1.3h-1.3zM635.7 346.0h1.3v1.3h-1.3zM573.6 392.4h1.3v1.3h-1.3zM460.2 482.1h1.3v1.3h-1.3zM524.5 437.2h1.3v1.3h-1.3zM489.3 466.0h1.3v1.3h-1.3zM426.0 509.5h1.3v1.3h-1.3zM666.3 331.0h1.3v1.3h-1.3zM538.1 420.4h1.3v1.3h-1.3zM455.9 489.6h1.3v1.3h-1.3zM645.9 334.7h1.3v1.3h-1.3zM671.2 329.6h1.3v1.3h-1.3zM628.4 347.4h1.3v1.3h-1.3zM486.0 467.0h1.3v1.3h-1.3zM470.0 481.3h1.3v1.3h-1.3zM554.8 406.4h1.3v1.3h-1.3zM569.5 395.6h1.3v1.3h-1.3zM644.2 341.0h1.3v1.3h-1.3zM666.7 339.0h1.3v1.3h-1.3zM652.3 342.4h1.3v1.3h-1.3zM508.4 455.3h1.3v1.3h-1.3zM570.1 390.5h1.3v1.3h-1.3zM453.2 488.9h1.3v1.3h-1.3zM553.2 413.6h1.3v1.3h-1.3zM439.7 504.9h1.3v1.3h-1.3zM450.0 493.6h1.3v1.3h-1.3zM452.7 491.8h1.3v1.3h-1.3zM498.1 454.4h1.3v1.3h-1.3zM500.2 459.6h1.3v1.3h-1.3zM600.3 373.1h1.3v1.3h-1.3zM441.1 504.3h1.3v1.3h-1.3zM449.9 493.0h1.3v1.3h-1.3zM588.0 385.0h1.3v1.3h-1.3zM592.2 378.1h1.3v1.3h-1.3zM601.7 374.9h1.3v1.3h-1.3zM604.1 373.4h1.3v1.3h-1.3zM589.7 385.1h1.3v1.3h-1.3zM561.7 402.8h1.3v1.3h-1.3zM609.5 367.5h1.3v1.3h-1.3zM442.4 499.3h1.3v1.3h-1.3zM475.4 478.3h1.3v1.3h-1.3zM609.5 364.6h1.3v1.3h-1.3zM470.6 479.1h1.3v1.3h-1.3zM556.2 405.9h1.3v1.3h-1.3zM487.7 462.5h1.3v1.3h-1.3zM531.0 428.1h1.3v1.3h-1.3zM633.0 351.9h1.3v1.3h-1.3zM589.1 387.1h1.3v1.3h-1.3zM534.5 424.1h1.3v1.3h-1.3zM491.1 461.1h1.3v1.3h-1.3zM625.6 359.1h1.3v1.3h-1.3zM588.2 380.4h1.3v1.3h-1.3zM533.2 434.0h1.3v1.3h-1.3zM641.9 345.1h1.3v1.3h-1.3zM597.1 373.1h1.3v1.3h-1.3zM670.1 334.4h1.3v1.3h-1.3zM590.0 387.3h1.3v1.3h-1.3zM649.7 336.1h1.3v1.3h-1.3zM561.2 406.6h1.3v1.3h-1.3zM601.6 371.1h1.3v1.3h-1.3zM635.1 353.4h1.3v1.3h-1.3zM444.7 499.3h1.3v1.3h-1.3zM541.9 414.9h1.3v1.3h-1.3zM575.1 393.2h1.3v1.3h-1.3zM436.4 507.0h1.3v1.3h-1.3zM621.6 363.7h1.3v1.3h-1.3zM603.0 376.2h1.3v1.3h-1.3zM658.9 338.6h1.3v1.3h-1.3zM516.0 445.4h1.3v1.3h-1.3zM540.6 419.3h1.3v1.3h-1.3zM652.7 338.3h1.3v1.3h-1.3zM526.0 432.7h1.3v1.3h-1.3zM633.1 348.9h1.3v1.3h-1.3zM528.5 424.5h1.3v1.3h-1.3zM507.3 453.0h1.3v1.3h-1.3zM492.0 463.0h1.3v1.3h-1.3zM475.9 483.1h1.3v1.3h-1.3zM531.0 432.2h1.3v1.3h-1.3zM462.7 482.5h1.3v1.3h-1.3zM631.4 352.6h1.3v1.3h-1.3zM668.5 328.0h1.3v1.3h-1.3zM446.5 497.0h1.3v1.3h-1.3zM435.7 505.2h1.3v1.3h-1.3zM422.7 511.9h1.3v1.3h-1.3zM657.8 338.8h1.3v1.3h-1.3zM440.5 503.3h1.3v1.3h-1.3zM594.0 378.6h1.3v1.3h-1.3zM498.7 461.1h1.3v1.3h-1.3zM472.0 479.3h1.3v1.3h-1.3zM484.2 471.0h1.3v1.3h-1.3zM596.4 373.8h1.3v1.3h-1.3zM426.4 509.6h1.3v1.3h-1.3zM640.8 345.9h1.3v1.3h-1.3zM565.6 401.2h1.3v1.3h-1.3zM481.5 469.3h1.3v1.3h-1.3zM474.6 473.3h1.3v1.3h-1.3zM587.6 387.3h1.3v1.3h-1.3zM581.1 385.1h1.3v1.3h-1.3zM502.3 459.3h1.3v1.3h-1.3zM506.4 453.9h1.3v1.3h-1.3zM539.1 425.0h1.3v1.3h-1.3zM652.3 345.0h1.3v1.3h-1.3zM558.1 406.8h1.3v1.3h-1.3zM634.5 351.5h1.3v1.3h-1.3zM584.1 383.1h1.3v1.3h-1.3zM564.1 397.1h1.3v1.3h-1.3zM545.8 418.7h1.3v1.3h-1.3zM594.1 383.6h1.3v1.3h-1.3zM546.3 420.7h1.3v1.3h-1.3zM605.6 376.0h1.3v1.3h-1.3zM467.9 481.2h1.3v1.3h-1.3zM503.4 455.9h1.3v1.3h-1.3zM642.9 347.6h1.3v1.3h-1.3zM521.9 440.0h1.3v1.3h-1.3zM635.3 348.4h1.3v1.3h-1.3zM659.3 332.9h1.3v1.3h-1.3zM568.3 399.3h1.3v1.3h-1.3zM447.6 495.1h1.3v1.3h-1.3zM613.5 364.0h1.3v1.3h-1.3zM590.4 377.1h1.3v1.3h-1.3zM495.4 463.5h1.3v1.3h-1.3zM640.3 342.5h1.3v1.3h-1.3zM544.0 420.8h1.3v1.3h-1.3zM436.2 505.1h1.3v1.3h-1.3zM439.0 504.9h1.3v1.3h-1.3zM479.6 477.0h1.3v1.3h-1.3zM576.2 388.4h1.3v1.3h-1.3zM628.2 353.0h1.3v1.3h-1.3zM446.9 496.7h1.3v1.3h-1.3zM427.4 508.4h1.3v1.3h-1.3zM579.4 390.1h1.3v1.3h-1.3zM525.5 437.4h1.3v1.3h-1.3zM533.6 423.4h1.3v1.3h-1.3zM629.6 353.8h1.3v1.3h-1.3zM654.5 335.9h1.3v1.3h-1.3zM666.7 329.6h1.3v1.3h-1.3zM619.1 358.7h1.3v1.3h-1.3zM422.6 510.9h1.3v1.3h-1.3zM459.9 489.9h1.3v1.3h-1.3zM570.5 389.5h1.3v1.3h-1.3zM663.7 336.6h1.3v1.3h-1.3zM442.4 503.4h1.3v1.3h-1.3zM552.2 405.0h1.3v1.3h-1.3zM522.2 434.1h1.3v1.3h-1.3zM524.8 438.5h1.3v1.3h-1.3zM489.8 463.6h1.3v1.3h-1.3zM490.4 465.8h1.3v1.3h-1.3zM482.2 475.1h1.3v1.3h-1.3zM447.9 495.7h1.3v1.3h-1.3zM562.1 397.5h1.3v1.3h-1.3zM534.7 417.2h1.3v1.3h-1.3zM602.3 371.9h1.3v1.3h-1.3zM583.8 383.3h1.3v1.3h-1.3zM663.0 335.5h1.3v1.3h-1.3zM507.8 452.9h1.3v1.3h-1.3zM645.2 338.7h1.3v1.3h-1.3zM519.2 448.4h1.3v1.3h-1.3zM589.1 386.0h1.3v1.3h-1.3zM625.6 357.2h1.3v1.3h-1.3zM522.3 435.7h1.3v1.3h-1.3zM534.8 424.6h1.3v1.3h-1.3zM581.6 386.0h1.3v1.3h-1.3zM449.8 493.5h1.3v1.3h-1.3zM556.4 402.9h1.3v1.3h-1.3zM445.8 499.1h1.3v1.3h-1.3zM478.7 474.6h1.3v1.3h-1.3zM579.6 390.2h1.3v1.3h-1.3zM668.0 330.6h1.3v1.3h-1.3zM674.8 333.2h1.3v1.3h-1.3zM487.8 467.5h1.3v1.3h-1.3zM458.8 480.5h1.3v1.3h-1.3zM553.1 408.2h1.3v1.3h-1.3zM533.6 426.8h1.3v1.3h-1.3zM517.9 447.5h1.3v1.3h-1.3zM616.4 359.4h1.3v1.3h-1.3zM601.5 371.2h1.3v1.3h-1.3zM564.1 397.3h1.3v1.3h-1.3zM579.2 391.4h1.3v1.3h-1.3zM569.1 394.1h1.3v1.3h-1.3zM593.2 377.6h1.3v1.3h-1.3zM656.7 335.0h1.3v1.3h-1.3zM661.5 337.0h1.3v1.3h-1.3zM669.8 329.7h1.3v1.3h-1.3zM639.5 340.9h1.3v1.3h-1.3zM448.3 496.6h1.3v1.3h-1.3zM536.2 422.5h1.3v1.3h-1.3zM619.7 359.4h1.3v1.3h-1.3zM496.3 460.7h1.3v1.3h-1.3zM575.4 395.3h1.3v1.3h-1.3zM435.8 507.3h1.3v1.3h-1.3zM473.4 475.6h1.3v1.3h-1.3zM523.1 438.0h1.3v1.3h-1.3zM439.6 503.9h1.3v1.3h-1.3zM529.2 437.2h1.3v1.3h-1.3zM480.1 474.5h1.3v1.3h-1.3zM640.0 350.5h1.3v1.3h-1.3zM502.5 454.8h1.3v1.3h-1.3zM518.2 437.5h1.3v1.3h-1.3zM624.9 359.9h1.3v1.3h-1.3zM563.5 400.1h1.3v1.3h-1.3zM434.5 507.1h1.3v1.3h-1.3zM476.9 475.2h1.3v1.3h-1.3zM576.5 392.9h1.3v1.3h-1.3zM472.3 479.2h1.3v1.3h-1.3zM484.7 464.3h1.3v1.3h-1.3zM579.5 392.5h1.3v1.3h-1.3zM547.0 413.9h1.3v1.3h-1.3zM489.9 463.5h1.3v1.3h-1.3zM563.4 405.4h1.3v1.3h-1.3zM582.3 390.3h1.3v1.3h-1.3zM431.8 507.8h1.3v1.3h-1.3zM491.1 457.9h1.3v1.3h-1.3zM499.7 458.0h1.3v1.3h-1.3zM644.3 345.4h1.3v1.3h-1.3zM434.8 506.8h1.3v1.3h-1.3zM509.7 446.8h1.3v1.3h-1.3zM471.1 476.5h1.3v1.3h-1.3zM597.8 371.3h1.3v1.3h-1.3zM627.2 354.2h1.3v1.3h-1.3zM436.3 506.9h1.3v1.3h-1.3zM640.4 349.1h1.3v1.3h-1.3zM598.0 372.8h1.3v1.3h-1.3zM476.7 475.8h1.3v1.3h-1.3zM653.7 340.6h1.3v1.3h-1.3zM496.0 458.0h1.3v1.3h-1.3zM621.4 356.7h1.3v1.3h-1.3zM440.8 506.3h1.3v1.3h-1.3zM537.3 424.4h1.3v1.3h-1.3zM549.9 416.1h1.3v1.3h-1.3zM648.8 339.8h1.3v1.3h-1.3zM633.6 349.6h1.3v1.3h-1.3zM560.1 396.9h1.3v1.3h-1.3zM434.8 506.8h1.3v1.3h-1.3zM530.7 434.0h1.3v1.3h-1.3zM516.8 452.3h1.3v1.3h-1.3zM673.9 333.4h1.3v1.3h-1.3zM594.2 380.8h1.3v1.3h-1.3zM524.4 437.4h1.3v1.3h-1.3zM514.2 445.6h1.3v1.3h-1.3zM616.2 360.0h1.3v1.3h-1.3zM446.1 499.1h1.3v1.3h-1.3zM628.7 350.0h1.3v1.3h-1.3zM591.7 383.7h1.3v1.3h-1.3zM532.0 425.6h1.3v1.3h-1.3zM601.7 366.2h1.3v1.3h-1.3zM522.5 436.0h1.3v1.3h-1.3zM458.1 483.1h1.3v1.3h-1.3zM527.4 429.5h1.3v1.3h-1.3zM434.8 507.6h1.3v1.3h-1.3zM443.9 500.5h1.3v1.3h-1.3zM533.0 428.4h1.3v1.3h-1.3zM630.7 354.9h1.3v1.3h-1.3zM473.4 480.6h1.3v1.3h-1.3zM446.7 505.8h1.3v1.3h-1.3zM440.9 506.5h1.3v1.3h-1.3zM444.1 505.0h1.3v1.3h-1.3zM443.4 509.2h1.3v1.3h-1.3zM443.0 506.7h1.3v1.3h-1.3zM455.8 504.6h1.3v1.3h-1.3zM439.7 509.4h1.3v1.3h-1.3zM441.9 507.3h1.3v1.3h-1.3zM449.6 505.8h1.3v1.3h-1.3zM444.5 510.0h1.3v1.3h-1.3zM442.8 508.7h1.3v1.3h-1.3zM446.0 504.5h1.3v1.3h-1.3zM449.0 505.4h1.3v1.3h-1.3zM453.2 504.7h1.3v1.3h-1.3zM460.3 497.6h1.3v1.3h-1.3zM457.5 498.8h1.3v1.3h-1.3zM447.3 507.4h1.3v1.3h-1.3zM447.8 505.7h1.3v1.3h-1.3zM447.0 504.2h1.3v1.3h-1.3zM442.7 507.3h1.3v1.3h-1.3zM459.8 497.5h1.3v1.3h-1.3zM438.6 510.2h1.3v1.3h-1.3zM441.9 508.5h1.3v1.3h-1.3zM452.9 504.5h1.3v1.3h-1.3zM451.1 504.8h1.3v1.3h-1.3zM443.7 505.0h1.3v1.3h-1.3zM459.5 499.5h1.3v1.3h-1.3zM446.8 507.5h1.3v1.3h-1.3zM451.3 504.3h1.3v1.3h-1.3zM439.2 511.2h1.3v1.3h-1.3zM458.4 498.6h1.3v1.3h-1.3zM439.5 507.9h1.3v1.3h-1.3zM446.5 507.7h1.3v1.3h-1.3zM458.3 497.9h1.3v1.3h-1.3zM459.7 495.3h1.3v1.3h-1.3zM458.7 501.0h1.3v1.3h-1.3zM456.9 499.2h1.3v1.3h-1.3zM442.6 507.5h1.3v1.3h-1.3zM437.8 507.9h1.3v1.3h-1.3zM447.8 503.4h1.3v1.3h-1.3zM438.5 508.0h1.3v1.3h-1.3zM460.1 498.0h1.3v1.3h-1.3zM437.2 511.0h1.3v1.3h-1.3zM444.8 503.3h1.3v1.3h-1.3zM441.9 509.5h1.3v1.3h-1.3zM437.3 508.5h1.3v1.3h-1.3zM449.0 503.2h1.3v1.3h-1.3zM438.8 510.8h1.3v1.3h-1.3zM458.6 499.3h1.3v1.3h-1.3zM453.5 499.8h1.3v1.3h-1.3zM445.9 509.5h1.3v1.3h-1.3zM457.2 498.8h1.3v1.3h-1.3zM456.1 501.2h1.3v1.3h-1.3zM444.8 507.3h1.3v1.3h-1.3zM457.3 502.4h1.3v1.3h-1.3zM459.3 498.2h1.3v1.3h-1.3zM451.9 504.8h1.3v1.3h-1.3zM445.4 505.5h1.3v1.3h-1.3zM458.6 501.2h1.3v1.3h-1.3zM459.6 497.6h1.3v1.3h-1.3zM445.3 506.2h1.3v1.3h-1.3zM439.1 512.6h1.3v1.3h-1.3zM457.8 500.3h1.3v1.3h-1.3zM453.0 502.8h1.3v1.3h-1.3zM442.6 511.6h1.3v1.3h-1.3zM450.6 504.5h1.3v1.3h-1.3zM444.4 505.9h1.3v1.3h-1.3zM459.1 500.3h1.3v1.3h-1.3zM445.2 504.9h1.3v1.3h-1.3zM441.7 510.2h1.3v1.3h-1.3zM459.8 497.5h1.3v1.3h-1.3zM453.3 499.5h1.3v1.3h-1.3zM459.6 496.8h1.3v1.3h-1.3zM456.7 498.9h1.3v1.3h-1.3zM453.9 504.4h1.3v1.3h-1.3zM458.7 494.3h1.3v1.3h-1.3zM456.0 498.3h1.3v1.3h-1.3zM458.0 501.0h1.3v1.3h-1.3zM458.8 491.4h1.3v1.3h-1.3zM456.8 505.4h1.3v1.3h-1.3zM453.3 498.0h1.3v1.3h-1.3zM458.8 493.9h1.3v1.3h-1.3zM457.9 502.2h1.3v1.3h-1.3zM459.4 503.0h1.3v1.3h-1.3zM454.9 500.1h1.3v1.3h-1.3zM458.5 504.7h1.3v1.3h-1.3zM459.1 491.4h1.3v1.3h-1.3zM455.5 498.4h1.3v1.3h-1.3zM455.9 501.9h1.3v1.3h-1.3zM455.3 504.7h1.3v1.3h-1.3zM453.0 500.3h1.3v1.3h-1.3zM454.6 499.6h1.3v1.3h-1.3zM455.3 496.2h1.3v1.3h-1.3zM453.8 499.1h1.3v1.3h-1.3zM458.4 498.9h1.3v1.3h-1.3zM456.0 504.5h1.3v1.3h-1.3zM457.0 503.2h1.3v1.3h-1.3zM455.0 501.8h1.3v1.3h-1.3zM455.5 504.8h1.3v1.3h-1.3zM458.3 491.1h1.3v1.3h-1.3z" fill="#EE4A4E"/>
<path d="M587.8 409.9h1.2v1.2h-1.2zM600.7 401.8h1.2v1.2h-1.2zM648.4 367.3h1.2v1.2h-1.2zM548.5 433.0h1.2v1.2h-1.2zM500.8 468.6h1.2v1.2h-1.2zM502.4 466.4h1.2v1.2h-1.2zM473.6 485.4h1.2v1.2h-1.2zM582.6 414.2h1.2v1.2h-1.2zM660.4 358.5h1.2v1.2h-1.2zM443.2 501.5h1.2v1.2h-1.2zM519.7 456.4h1.2v1.2h-1.2zM510.9 462.8h1.2v1.2h-1.2zM442.1 501.9h1.2v1.2h-1.2zM572.4 420.0h1.2v1.2h-1.2zM670.7 351.7h1.2v1.2h-1.2zM491.9 471.8h1.2v1.2h-1.2zM605.9 396.0h1.2v1.2h-1.2zM649.8 362.9h1.2v1.2h-1.2zM490.3 472.7h1.2v1.2h-1.2zM654.5 360.6h1.2v1.2h-1.2zM611.3 395.2h1.2v1.2h-1.2zM585.3 413.1h1.2v1.2h-1.2zM471.0 483.6h1.2v1.2h-1.2zM492.0 471.2h1.2v1.2h-1.2zM447.5 499.4h1.2v1.2h-1.2zM648.6 362.6h1.2v1.2h-1.2zM626.6 380.2h1.2v1.2h-1.2zM443.7 501.7h1.2v1.2h-1.2zM556.3 430.3h1.2v1.2h-1.2zM475.8 482.7h1.2v1.2h-1.2zM615.7 391.4h1.2v1.2h-1.2zM566.9 421.2h1.2v1.2h-1.2zM661.2 357.5h1.2v1.2h-1.2zM605.9 398.7h1.2v1.2h-1.2zM447.3 498.6h1.2v1.2h-1.2zM516.2 456.7h1.2v1.2h-1.2zM567.7 420.5h1.2v1.2h-1.2zM652.7 361.4h1.2v1.2h-1.2zM515.7 459.2h1.2v1.2h-1.2zM469.4 485.2h1.2v1.2h-1.2zM493.5 470.3h1.2v1.2h-1.2zM484.6 475.3h1.2v1.2h-1.2zM460.9 489.1h1.2v1.2h-1.2zM508.9 463.8h1.2v1.2h-1.2zM484.8 475.0h1.2v1.2h-1.2zM551.0 432.3h1.2v1.2h-1.2zM648.2 362.7h1.2v1.2h-1.2zM663.4 355.4h1.2v1.2h-1.2zM462.2 489.1h1.2v1.2h-1.2zM566.0 424.8h1.2v1.2h-1.2zM592.4 405.6h1.2v1.2h-1.2zM460.4 489.2h1.2v1.2h-1.2zM556.5 430.4h1.2v1.2h-1.2zM472.5 482.7h1.2v1.2h-1.2zM514.0 458.6h1.2v1.2h-1.2zM503.8 466.7h1.2v1.2h-1.2zM628.1 381.8h1.2v1.2h-1.2zM481.1 480.3h1.2v1.2h-1.2zM558.6 429.1h1.2v1.2h-1.2zM570.1 420.3h1.2v1.2h-1.2zM505.3 464.9h1.2v1.2h-1.2zM657.1 360.4h1.2v1.2h-1.2zM505.9 462.8h1.2v1.2h-1.2zM504.4 464.3h1.2v1.2h-1.2zM597.2 405.3h1.2v1.2h-1.2zM545.3 434.0h1.2v1.2h-1.2zM605.3 399.6h1.2v1.2h-1.2zM460.5 490.1h1.2v1.2h-1.2zM459.3 490.6h1.2v1.2h-1.2zM608.2 397.2h1.2v1.2h-1.2zM520.2 455.2h1.2v1.2h-1.2zM638.8 373.6h1.2v1.2h-1.2zM480.9 478.3h1.2v1.2h-1.2zM482.6 477.6h1.2v1.2h-1.2zM640.4 370.2h1.2v1.2h-1.2zM513.4 462.5h1.2v1.2h-1.2zM449.6 498.1h1.2v1.2h-1.2zM477.6 479.3h1.2v1.2h-1.2zM616.7 390.6h1.2v1.2h-1.2zM489.0 473.4h1.2v1.2h-1.2zM562.5 425.6h1.2v1.2h-1.2zM633.1 377.4h1.2v1.2h-1.2zM576.4 420.5h1.2v1.2h-1.2zM612.4 391.2h1.2v1.2h-1.2zM669.2 355.8h1.2v1.2h-1.2zM497.6 470.2h1.2v1.2h-1.2zM643.7 367.4h1.2v1.2h-1.2zM561.3 426.1h1.2v1.2h-1.2zM472.8 482.4h1.2v1.2h-1.2zM455.2 493.6h1.2v1.2h-1.2zM504.8 466.8h1.2v1.2h-1.2zM456.7 491.3h1.2v1.2h-1.2zM617.2 392.6h1.2v1.2h-1.2zM562.9 424.9h1.2v1.2h-1.2zM433.0 508.5h1.2v1.2h-1.2zM644.2 368.6h1.2v1.2h-1.2zM572.7 421.3h1.2v1.2h-1.2zM533.9 444.4h1.2v1.2h-1.2zM457.5 492.9h1.2v1.2h-1.2zM540.8 439.3h1.2v1.2h-1.2zM654.1 361.1h1.2v1.2h-1.2zM569.8 422.2h1.2v1.2h-1.2zM538.1 441.9h1.2v1.2h-1.2zM575.8 420.6h1.2v1.2h-1.2zM561.2 423.6h1.2v1.2h-1.2zM579.7 415.1h1.2v1.2h-1.2zM472.2 484.5h1.2v1.2h-1.2zM459.4 489.5h1.2v1.2h-1.2zM425.0 510.5h1.2v1.2h-1.2zM632.4 380.7h1.2v1.2h-1.2zM422.6 511.5h1.2v1.2h-1.2zM486.7 474.5h1.2v1.2h-1.2zM570.0 423.2h1.2v1.2h-1.2zM548.3 436.0h1.2v1.2h-1.2zM650.1 365.7h1.2v1.2h-1.2zM475.8 481.9h1.2v1.2h-1.2zM450.7 496.9h1.2v1.2h-1.2zM462.4 487.7h1.2v1.2h-1.2zM547.9 433.9h1.2v1.2h-1.2zM495.5 471.8h1.2v1.2h-1.2zM537.1 441.8h1.2v1.2h-1.2zM596.0 407.4h1.2v1.2h-1.2zM503.2 465.9h1.2v1.2h-1.2zM590.2 405.4h1.2v1.2h-1.2zM426.8 509.9h1.2v1.2h-1.2zM560.1 427.5h1.2v1.2h-1.2zM651.5 364.3h1.2v1.2h-1.2zM658.3 359.8h1.2v1.2h-1.2zM566.6 422.1h1.2v1.2h-1.2zM670.7 355.7h1.2v1.2h-1.2zM481.4 477.7h1.2v1.2h-1.2zM497.2 470.9h1.2v1.2h-1.2zM535.3 442.3h1.2v1.2h-1.2zM550.7 431.1h1.2v1.2h-1.2zM629.3 382.5h1.2v1.2h-1.2zM535.1 439.3h1.2v1.2h-1.2zM434.0 507.4h1.2v1.2h-1.2zM599.0 403.3h1.2v1.2h-1.2zM478.2 479.8h1.2v1.2h-1.2zM645.2 368.5h1.2v1.2h-1.2zM475.5 481.5h1.2v1.2h-1.2zM496.7 469.5h1.2v1.2h-1.2zM456.5 494.4h1.2v1.2h-1.2zM498.4 468.8h1.2v1.2h-1.2zM574.0 418.6h1.2v1.2h-1.2zM489.5 472.6h1.2v1.2h-1.2zM434.1 507.4h1.2v1.2h-1.2zM570.3 421.9h1.2v1.2h-1.2zM607.9 397.4h1.2v1.2h-1.2zM449.4 497.7h1.2v1.2h-1.2zM529.2 446.4h1.2v1.2h-1.2zM439.1 504.6h1.2v1.2h-1.2zM426.1 509.9h1.2v1.2h-1.2zM516.6 456.9h1.2v1.2h-1.2zM494.3 471.1h1.2v1.2h-1.2zM643.4 367.4h1.2v1.2h-1.2zM425.2 510.5h1.2v1.2h-1.2zM585.5 411.0h1.2v1.2h-1.2zM607.6 395.7h1.2v1.2h-1.2zM527.4 451.4h1.2v1.2h-1.2zM548.6 435.2h1.2v1.2h-1.2zM484.4 478.7h1.2v1.2h-1.2zM485.7 476.3h1.2v1.2h-1.2zM435.2 507.2h1.2v1.2h-1.2zM651.1 365.1h1.2v1.2h-1.2zM429.1 509.6h1.2v1.2h-1.2zM456.5 494.6h1.2v1.2h-1.2zM605.2 398.0h1.2v1.2h-1.2zM537.7 441.6h1.2v1.2h-1.2zM551.4 432.3h1.2v1.2h-1.2zM496.4 465.4h1.2v1.2h-1.2zM462.6 487.1h1.2v1.2h-1.2zM624.1 385.3h1.2v1.2h-1.2zM453.1 495.5h1.2v1.2h-1.2zM496.7 469.4h1.2v1.2h-1.2zM612.2 395.5h1.2v1.2h-1.2zM497.3 471.6h1.2v1.2h-1.2zM662.7 357.0h1.2v1.2h-1.2zM466.2 487.8h1.2v1.2h-1.2zM555.4 432.4h1.2v1.2h-1.2zM558.0 429.0h1.2v1.2h-1.2zM548.5 432.9h1.2v1.2h-1.2zM617.9 392.4h1.2v1.2h-1.2zM433.5 508.0h1.2v1.2h-1.2zM560.0 426.7h1.2v1.2h-1.2zM621.8 387.6h1.2v1.2h-1.2zM434.6 507.1h1.2v1.2h-1.2zM560.1 428.6h1.2v1.2h-1.2zM533.4 445.2h1.2v1.2h-1.2zM524.2 453.1h1.2v1.2h-1.2zM558.0 429.2h1.2v1.2h-1.2zM580.0 414.1h1.2v1.2h-1.2zM600.0 401.8h1.2v1.2h-1.2zM649.2 366.4h1.2v1.2h-1.2zM588.0 409.8h1.2v1.2h-1.2zM674.7 355.7h1.2v1.2h-1.2zM590.1 408.6h1.2v1.2h-1.2zM489.9 473.1h1.2v1.2h-1.2zM459.1 491.9h1.2v1.2h-1.2zM439.8 504.3h1.2v1.2h-1.2zM489.7 474.0h1.2v1.2h-1.2zM452.0 495.7h1.2v1.2h-1.2zM594.8 406.2h1.2v1.2h-1.2zM596.4 405.7h1.2v1.2h-1.2zM576.8 418.2h1.2v1.2h-1.2zM518.7 455.3h1.2v1.2h-1.2zM539.3 440.8h1.2v1.2h-1.2zM487.5 476.5h1.2v1.2h-1.2zM654.4 363.2h1.2v1.2h-1.2zM425.8 509.7h1.2v1.2h-1.2zM503.0 465.3h1.2v1.2h-1.2zM566.8 422.0h1.2v1.2h-1.2zM467.5 485.4h1.2v1.2h-1.2zM638.1 372.9h1.2v1.2h-1.2zM543.4 438.8h1.2v1.2h-1.2zM515.6 459.0h1.2v1.2h-1.2zM437.7 505.2h1.2v1.2h-1.2zM493.0 472.3h1.2v1.2h-1.2zM571.1 423.0h1.2v1.2h-1.2zM493.0 471.4h1.2v1.2h-1.2zM433.2 508.2h1.2v1.2h-1.2zM568.5 424.3h1.2v1.2h-1.2zM498.8 469.5h1.2v1.2h-1.2zM636.1 371.6h1.2v1.2h-1.2zM597.0 404.7h1.2v1.2h-1.2zM604.5 398.3h1.2v1.2h-1.2zM647.2 366.2h1.2v1.2h-1.2zM626.9 384.2h1.2v1.2h-1.2zM505.2 465.9h1.2v1.2h-1.2zM565.9 423.3h1.2v1.2h-1.2zM487.3 476.6h1.2v1.2h-1.2zM472.8 483.5h1.2v1.2h-1.2zM473.9 482.6h1.2v1.2h-1.2zM449.9 497.5h1.2v1.2h-1.2zM482.3 478.5h1.2v1.2h-1.2zM478.7 479.6h1.2v1.2h-1.2zM592.1 406.9h1.2v1.2h-1.2zM485.5 476.4h1.2v1.2h-1.2zM433.6 507.7h1.2v1.2h-1.2zM528.6 446.2h1.2v1.2h-1.2zM472.7 484.6h1.2v1.2h-1.2zM596.3 404.2h1.2v1.2h-1.2zM477.9 480.4h1.2v1.2h-1.2zM562.8 425.3h1.2v1.2h-1.2zM466.4 486.2h1.2v1.2h-1.2zM543.9 437.3h1.2v1.2h-1.2zM641.4 369.9h1.2v1.2h-1.2zM498.6 467.9h1.2v1.2h-1.2zM555.3 431.3h1.2v1.2h-1.2zM532.9 443.5h1.2v1.2h-1.2zM439.5 504.5h1.2v1.2h-1.2zM427.0 509.5h1.2v1.2h-1.2zM635.1 373.8h1.2v1.2h-1.2zM508.0 465.0h1.2v1.2h-1.2zM595.5 404.9h1.2v1.2h-1.2zM526.3 448.8h1.2v1.2h-1.2zM634.1 376.8h1.2v1.2h-1.2zM471.2 482.6h1.2v1.2h-1.2zM544.3 437.1h1.2v1.2h-1.2zM560.7 423.7h1.2v1.2h-1.2zM622.7 385.9h1.2v1.2h-1.2zM429.3 509.1h1.2v1.2h-1.2zM513.6 460.5h1.2v1.2h-1.2zM542.1 439.6h1.2v1.2h-1.2zM570.9 419.5h1.2v1.2h-1.2zM457.6 493.3h1.2v1.2h-1.2zM559.4 426.7h1.2v1.2h-1.2zM597.4 401.0h1.2v1.2h-1.2zM607.4 393.6h1.2v1.2h-1.2zM478.6 482.1h1.2v1.2h-1.2zM533.4 443.9h1.2v1.2h-1.2zM497.2 469.0h1.2v1.2h-1.2zM520.0 453.7h1.2v1.2h-1.2zM513.7 458.1h1.2v1.2h-1.2zM661.1 360.3h1.2v1.2h-1.2zM425.2 510.5h1.2v1.2h-1.2zM661.8 360.5h1.2v1.2h-1.2zM430.2 509.0h1.2v1.2h-1.2zM441.5 501.7h1.2v1.2h-1.2zM474.0 483.4h1.2v1.2h-1.2zM494.4 471.0h1.2v1.2h-1.2zM639.0 371.5h1.2v1.2h-1.2zM634.8 377.8h1.2v1.2h-1.2zM658.4 359.4h1.2v1.2h-1.2zM520.5 456.0h1.2v1.2h-1.2zM425.8 510.3h1.2v1.2h-1.2zM580.3 414.0h1.2v1.2h-1.2zM649.5 365.7h1.2v1.2h-1.2zM449.0 497.5h1.2v1.2h-1.2zM631.4 380.4h1.2v1.2h-1.2zM422.3 511.6h1.2v1.2h-1.2zM607.2 397.2h1.2v1.2h-1.2zM546.7 436.3h1.2v1.2h-1.2zM651.8 364.4h1.2v1.2h-1.2zM643.3 368.2h1.2v1.2h-1.2zM433.6 508.2h1.2v1.2h-1.2zM547.9 434.3h1.2v1.2h-1.2zM483.1 478.6h1.2v1.2h-1.2zM533.1 443.0h1.2v1.2h-1.2zM438.6 504.7h1.2v1.2h-1.2zM513.1 460.7h1.2v1.2h-1.2zM525.2 449.5h1.2v1.2h-1.2zM422.8 511.1h1.2v1.2h-1.2zM541.9 437.7h1.2v1.2h-1.2zM648.3 366.7h1.2v1.2h-1.2zM437.2 505.3h1.2v1.2h-1.2zM661.0 359.0h1.2v1.2h-1.2zM545.7 438.2h1.2v1.2h-1.2zM475.1 482.3h1.2v1.2h-1.2zM667.2 353.1h1.2v1.2h-1.2zM541.7 438.8h1.2v1.2h-1.2zM532.4 446.3h1.2v1.2h-1.2zM517.1 456.6h1.2v1.2h-1.2zM645.0 369.2h1.2v1.2h-1.2zM454.7 494.4h1.2v1.2h-1.2zM475.1 482.4h1.2v1.2h-1.2zM493.5 471.6h1.2v1.2h-1.2zM437.6 505.1h1.2v1.2h-1.2zM635.5 374.6h1.2v1.2h-1.2zM545.5 436.3h1.2v1.2h-1.2zM574.1 419.5h1.2v1.2h-1.2zM646.0 367.7h1.2v1.2h-1.2zM547.1 434.8h1.2v1.2h-1.2zM491.8 473.0h1.2v1.2h-1.2zM556.3 430.0h1.2v1.2h-1.2zM548.5 432.0h1.2v1.2h-1.2zM497.5 468.7h1.2v1.2h-1.2zM480.5 478.0h1.2v1.2h-1.2zM512.4 460.4h1.2v1.2h-1.2zM607.9 396.3h1.2v1.2h-1.2zM463.7 487.5h1.2v1.2h-1.2zM674.0 350.8h1.2v1.2h-1.2zM481.4 479.6h1.2v1.2h-1.2zM490.8 473.9h1.2v1.2h-1.2zM452.9 494.0h1.2v1.2h-1.2zM521.0 453.9h1.2v1.2h-1.2zM516.0 456.4h1.2v1.2h-1.2zM594.4 408.3h1.2v1.2h-1.2zM648.7 364.9h1.2v1.2h-1.2zM484.6 476.4h1.2v1.2h-1.2zM626.7 383.0h1.2v1.2h-1.2zM499.9 468.1h1.2v1.2h-1.2zM524.8 450.9h1.2v1.2h-1.2zM454.3 495.4h1.2v1.2h-1.2zM647.8 366.3h1.2v1.2h-1.2zM516.3 458.8h1.2v1.2h-1.2zM599.3 404.1h1.2v1.2h-1.2zM428.5 509.3h1.2v1.2h-1.2zM598.3 405.6h1.2v1.2h-1.2zM479.1 480.8h1.2v1.2h-1.2zM536.1 443.6h1.2v1.2h-1.2zM592.4 406.1h1.2v1.2h-1.2zM465.0 487.7h1.2v1.2h-1.2zM555.3 430.6h1.2v1.2h-1.2zM633.4 376.1h1.2v1.2h-1.2zM463.2 490.3h1.2v1.2h-1.2zM540.2 440.4h1.2v1.2h-1.2zM468.4 485.0h1.2v1.2h-1.2zM458.1 491.8h1.2v1.2h-1.2zM545.9 437.3h1.2v1.2h-1.2zM537.4 443.0h1.2v1.2h-1.2zM584.8 413.1h1.2v1.2h-1.2zM639.0 373.5h1.2v1.2h-1.2zM600.7 403.6h1.2v1.2h-1.2zM507.0 462.5h1.2v1.2h-1.2zM544.9 435.9h1.2v1.2h-1.2zM592.4 406.0h1.2v1.2h-1.2zM634.2 376.3h1.2v1.2h-1.2zM594.7 407.8h1.2v1.2h-1.2zM549.1 434.8h1.2v1.2h-1.2zM455.6 492.5h1.2v1.2h-1.2zM641.7 369.2h1.2v1.2h-1.2zM493.0 473.7h1.2v1.2h-1.2zM524.4 450.5h1.2v1.2h-1.2zM645.8 367.1h1.2v1.2h-1.2zM474.3 482.6h1.2v1.2h-1.2zM653.2 360.3h1.2v1.2h-1.2zM479.8 480.6h1.2v1.2h-1.2zM443.9 501.4h1.2v1.2h-1.2zM551.8 432.9h1.2v1.2h-1.2zM623.2 384.8h1.2v1.2h-1.2zM523.7 450.7h1.2v1.2h-1.2zM635.2 374.5h1.2v1.2h-1.2zM522.2 453.4h1.2v1.2h-1.2zM628.2 381.7h1.2v1.2h-1.2zM450.3 497.1h1.2v1.2h-1.2zM493.6 474.5h1.2v1.2h-1.2zM452.8 496.2h1.2v1.2h-1.2zM609.1 394.9h1.2v1.2h-1.2zM540.7 438.4h1.2v1.2h-1.2zM587.8 412.9h1.2v1.2h-1.2zM482.2 477.8h1.2v1.2h-1.2zM607.8 398.7h1.2v1.2h-1.2zM673.2 354.7h1.2v1.2h-1.2zM441.8 502.4h1.2v1.2h-1.2zM502.5 466.4h1.2v1.2h-1.2zM641.9 369.6h1.2v1.2h-1.2zM637.4 372.0h1.2v1.2h-1.2zM642.6 367.7h1.2v1.2h-1.2zM479.2 479.3h1.2v1.2h-1.2zM564.4 425.8h1.2v1.2h-1.2zM443.6 501.2h1.2v1.2h-1.2zM530.9 445.8h1.2v1.2h-1.2zM567.7 422.0h1.2v1.2h-1.2zM487.3 473.5h1.2v1.2h-1.2zM528.7 449.9h1.2v1.2h-1.2zM514.5 455.8h1.2v1.2h-1.2zM443.2 501.4h1.2v1.2h-1.2zM439.2 504.6h1.2v1.2h-1.2zM619.6 387.3h1.2v1.2h-1.2zM422.5 511.4h1.2v1.2h-1.2zM671.5 355.0h1.2v1.2h-1.2zM648.9 364.1h1.2v1.2h-1.2zM671.8 353.4h1.2v1.2h-1.2zM620.7 386.8h1.2v1.2h-1.2zM422.4 511.4h1.2v1.2h-1.2zM451.2 496.5h1.2v1.2h-1.2zM502.5 467.1h1.2v1.2h-1.2zM467.7 487.0h1.2v1.2h-1.2zM437.1 505.8h1.2v1.2h-1.2zM654.0 364.3h1.2v1.2h-1.2zM652.3 364.3h1.2v1.2h-1.2zM616.0 389.9h1.2v1.2h-1.2zM485.9 476.6h1.2v1.2h-1.2zM637.6 373.8h1.2v1.2h-1.2zM629.2 378.7h1.2v1.2h-1.2zM503.7 468.0h1.2v1.2h-1.2zM454.1 494.4h1.2v1.2h-1.2zM456.1 493.3h1.2v1.2h-1.2zM525.3 449.2h1.2v1.2h-1.2zM632.5 377.8h1.2v1.2h-1.2zM441.1 503.2h1.2v1.2h-1.2zM530.6 445.9h1.2v1.2h-1.2zM511.6 461.5h1.2v1.2h-1.2zM647.8 363.1h1.2v1.2h-1.2zM460.5 491.1h1.2v1.2h-1.2zM587.8 409.0h1.2v1.2h-1.2zM503.6 463.1h1.2v1.2h-1.2zM585.5 410.6h1.2v1.2h-1.2zM630.0 378.8h1.2v1.2h-1.2zM630.6 380.2h1.2v1.2h-1.2zM635.9 373.4h1.2v1.2h-1.2zM495.9 471.1h1.2v1.2h-1.2zM491.7 471.7h1.2v1.2h-1.2zM452.9 496.9h1.2v1.2h-1.2zM486.5 476.6h1.2v1.2h-1.2zM452.0 497.2h1.2v1.2h-1.2zM620.3 387.3h1.2v1.2h-1.2zM433.8 508.0h1.2v1.2h-1.2zM470.3 483.2h1.2v1.2h-1.2zM621.9 388.1h1.2v1.2h-1.2zM616.4 392.3h1.2v1.2h-1.2zM668.3 352.6h1.2v1.2h-1.2zM518.9 454.0h1.2v1.2h-1.2zM433.2 507.8h1.2v1.2h-1.2zM626.4 381.1h1.2v1.2h-1.2zM494.3 470.6h1.2v1.2h-1.2zM617.6 389.2h1.2v1.2h-1.2zM426.7 509.7h1.2v1.2h-1.2zM430.6 508.9h1.2v1.2h-1.2zM573.2 420.0h1.2v1.2h-1.2zM595.0 403.7h1.2v1.2h-1.2zM564.1 424.0h1.2v1.2h-1.2zM556.6 429.3h1.2v1.2h-1.2zM573.0 419.1h1.2v1.2h-1.2zM455.0 493.3h1.2v1.2h-1.2zM437.9 505.4h1.2v1.2h-1.2zM510.3 463.5h1.2v1.2h-1.2zM560.5 427.9h1.2v1.2h-1.2zM484.8 476.5h1.2v1.2h-1.2zM467.1 488.0h1.2v1.2h-1.2zM534.8 445.5h1.2v1.2h-1.2zM525.5 449.8h1.2v1.2h-1.2zM489.8 473.8h1.2v1.2h-1.2zM656.5 362.5h1.2v1.2h-1.2zM660.6 357.5h1.2v1.2h-1.2zM433.6 508.0h1.2v1.2h-1.2zM543.4 437.7h1.2v1.2h-1.2zM482.0 477.3h1.2v1.2h-1.2zM506.9 463.9h1.2v1.2h-1.2zM429.0 509.0h1.2v1.2h-1.2zM442.1 502.2h1.2v1.2h-1.2zM430.3 508.5h1.2v1.2h-1.2zM453.6 496.4h1.2v1.2h-1.2zM586.2 413.6h1.2v1.2h-1.2zM441.6 503.3h1.2v1.2h-1.2zM646.1 367.4h1.2v1.2h-1.2zM625.0 385.9h1.2v1.2h-1.2zM490.0 475.7h1.2v1.2h-1.2zM596.9 405.6h1.2v1.2h-1.2zM662.8 358.8h1.2v1.2h-1.2zM451.2 495.8h1.2v1.2h-1.2zM563.6 425.6h1.2v1.2h-1.2zM539.7 439.2h1.2v1.2h-1.2zM500.4 466.4h1.2v1.2h-1.2zM494.7 469.7h1.2v1.2h-1.2zM443.7 501.6h1.2v1.2h-1.2zM585.6 413.3h1.2v1.2h-1.2zM471.9 481.9h1.2v1.2h-1.2zM528.8 450.2h1.2v1.2h-1.2zM656.8 362.8h1.2v1.2h-1.2zM510.0 461.9h1.2v1.2h-1.2zM501.9 466.5h1.2v1.2h-1.2zM657.9 359.9h1.2v1.2h-1.2zM569.6 422.8h1.2v1.2h-1.2zM566.3 422.9h1.2v1.2h-1.2zM478.1 478.9h1.2v1.2h-1.2zM584.2 413.2h1.2v1.2h-1.2zM517.8 453.6h1.2v1.2h-1.2zM559.5 427.7h1.2v1.2h-1.2zM522.5 454.4h1.2v1.2h-1.2zM442.3 502.4h1.2v1.2h-1.2zM644.0 369.3h1.2v1.2h-1.2zM597.0 404.8h1.2v1.2h-1.2zM664.4 357.7h1.2v1.2h-1.2zM499.4 468.8h1.2v1.2h-1.2zM493.1 471.1h1.2v1.2h-1.2zM456.1 492.8h1.2v1.2h-1.2zM499.2 468.6h1.2v1.2h-1.2zM504.1 467.6h1.2v1.2h-1.2zM468.4 487.0h1.2v1.2h-1.2zM488.8 475.2h1.2v1.2h-1.2zM496.2 469.4h1.2v1.2h-1.2zM639.0 370.8h1.2v1.2h-1.2zM534.8 442.8h1.2v1.2h-1.2zM629.4 382.5h1.2v1.2h-1.2zM434.4 507.5h1.2v1.2h-1.2zM469.5 484.6h1.2v1.2h-1.2zM663.0 356.3h1.2v1.2h-1.2zM434.5 507.6h1.2v1.2h-1.2zM439.4 504.3h1.2v1.2h-1.2zM553.0 431.4h1.2v1.2h-1.2zM495.2 471.2h1.2v1.2h-1.2zM471.0 485.9h1.2v1.2h-1.2zM575.9 417.4h1.2v1.2h-1.2zM576.0 419.9h1.2v1.2h-1.2zM469.4 486.1h1.2v1.2h-1.2zM558.3 428.3h1.2v1.2h-1.2zM537.0 442.9h1.2v1.2h-1.2zM636.1 374.2h1.2v1.2h-1.2zM439.1 504.0h1.2v1.2h-1.2zM480.8 478.6h1.2v1.2h-1.2zM564.9 423.0h1.2v1.2h-1.2zM430.3 509.1h1.2v1.2h-1.2zM635.9 374.6h1.2v1.2h-1.2zM667.0 356.3h1.2v1.2h-1.2zM504.9 466.5h1.2v1.2h-1.2zM618.0 385.9h1.2v1.2h-1.2zM484.9 477.2h1.2v1.2h-1.2zM661.8 355.5h1.2v1.2h-1.2zM475.4 481.9h1.2v1.2h-1.2zM423.3 510.9h1.2v1.2h-1.2zM439.1 504.4h1.2v1.2h-1.2zM537.9 443.0h1.2v1.2h-1.2zM431.5 508.2h1.2v1.2h-1.2zM670.0 354.2h1.2v1.2h-1.2zM581.6 414.1h1.2v1.2h-1.2zM565.8 421.1h1.2v1.2h-1.2zM580.4 415.9h1.2v1.2h-1.2zM527.7 448.7h1.2v1.2h-1.2zM646.1 366.3h1.2v1.2h-1.2zM602.3 399.4h1.2v1.2h-1.2zM530.8 450.7h1.2v1.2h-1.2zM493.7 471.3h1.2v1.2h-1.2zM458.4 489.9h1.2v1.2h-1.2zM501.6 466.0h1.2v1.2h-1.2zM511.2 461.1h1.2v1.2h-1.2zM442.2 502.2h1.2v1.2h-1.2zM656.0 361.1h1.2v1.2h-1.2zM487.1 474.0h1.2v1.2h-1.2zM558.5 428.8h1.2v1.2h-1.2zM438.5 504.5h1.2v1.2h-1.2zM561.6 424.4h1.2v1.2h-1.2zM585.4 410.8h1.2v1.2h-1.2zM442.0 502.3h1.2v1.2h-1.2zM668.8 355.7h1.2v1.2h-1.2zM463.1 488.6h1.2v1.2h-1.2zM488.4 474.3h1.2v1.2h-1.2zM608.3 396.4h1.2v1.2h-1.2zM507.1 464.4h1.2v1.2h-1.2zM643.8 371.2h1.2v1.2h-1.2zM482.1 477.4h1.2v1.2h-1.2zM501.3 468.1h1.2v1.2h-1.2zM597.1 405.1h1.2v1.2h-1.2zM639.6 370.0h1.2v1.2h-1.2zM645.6 367.6h1.2v1.2h-1.2zM494.7 471.5h1.2v1.2h-1.2zM556.2 428.8h1.2v1.2h-1.2zM525.8 450.9h1.2v1.2h-1.2zM593.0 408.4h1.2v1.2h-1.2zM479.4 481.2h1.2v1.2h-1.2zM634.3 375.8h1.2v1.2h-1.2zM602.4 400.6h1.2v1.2h-1.2zM466.1 488.8h1.2v1.2h-1.2zM501.3 465.9h1.2v1.2h-1.2zM506.9 464.5h1.2v1.2h-1.2zM657.3 361.7h1.2v1.2h-1.2zM537.3 441.7h1.2v1.2h-1.2zM577.8 417.4h1.2v1.2h-1.2zM657.5 360.6h1.2v1.2h-1.2zM522.2 454.0h1.2v1.2h-1.2zM661.4 360.0h1.2v1.2h-1.2zM495.8 470.4h1.2v1.2h-1.2zM425.0 510.6h1.2v1.2h-1.2zM447.8 498.7h1.2v1.2h-1.2zM597.1 403.5h1.2v1.2h-1.2zM518.4 456.0h1.2v1.2h-1.2zM632.8 375.8h1.2v1.2h-1.2zM556.7 430.2h1.2v1.2h-1.2zM595.4 407.6h1.2v1.2h-1.2zM511.1 464.1h1.2v1.2h-1.2zM570.5 422.7h1.2v1.2h-1.2zM598.6 401.7h1.2v1.2h-1.2zM517.2 459.1h1.2v1.2h-1.2zM546.1 434.8h1.2v1.2h-1.2zM635.4 375.0h1.2v1.2h-1.2zM657.1 363.1h1.2v1.2h-1.2zM510.5 460.6h1.2v1.2h-1.2zM438.8 504.9h1.2v1.2h-1.2zM635.0 375.8h1.2v1.2h-1.2zM535.0 442.7h1.2v1.2h-1.2zM667.2 354.1h1.2v1.2h-1.2zM614.9 392.8h1.2v1.2h-1.2zM515.0 458.0h1.2v1.2h-1.2zM637.1 375.0h1.2v1.2h-1.2zM560.5 428.6h1.2v1.2h-1.2zM602.4 398.4h1.2v1.2h-1.2zM645.9 366.4h1.2v1.2h-1.2zM568.7 421.5h1.2v1.2h-1.2zM661.7 356.4h1.2v1.2h-1.2zM522.7 451.0h1.2v1.2h-1.2zM517.7 456.7h1.2v1.2h-1.2zM583.9 412.6h1.2v1.2h-1.2zM524.3 449.0h1.2v1.2h-1.2zM600.9 400.6h1.2v1.2h-1.2zM556.3 430.1h1.2v1.2h-1.2zM609.8 393.8h1.2v1.2h-1.2zM630.9 377.9h1.2v1.2h-1.2zM565.5 426.1h1.2v1.2h-1.2zM653.3 364.6h1.2v1.2h-1.2zM619.6 387.0h1.2v1.2h-1.2zM638.8 370.1h1.2v1.2h-1.2zM426.7 510.1h1.2v1.2h-1.2zM425.7 510.1h1.2v1.2h-1.2zM582.5 413.4h1.2v1.2h-1.2zM506.1 464.1h1.2v1.2h-1.2zM642.8 369.7h1.2v1.2h-1.2zM521.0 450.4h1.2v1.2h-1.2zM610.2 392.2h1.2v1.2h-1.2zM484.1 475.4h1.2v1.2h-1.2zM581.2 415.9h1.2v1.2h-1.2zM649.8 364.6h1.2v1.2h-1.2zM640.1 368.4h1.2v1.2h-1.2zM514.6 459.7h1.2v1.2h-1.2zM543.8 438.3h1.2v1.2h-1.2zM557.4 428.4h1.2v1.2h-1.2zM509.0 462.5h1.2v1.2h-1.2zM544.3 437.6h1.2v1.2h-1.2zM666.0 357.6h1.2v1.2h-1.2zM644.6 368.1h1.2v1.2h-1.2zM501.4 468.2h1.2v1.2h-1.2zM595.0 405.5h1.2v1.2h-1.2zM661.9 357.4h1.2v1.2h-1.2zM513.5 458.6h1.2v1.2h-1.2zM636.6 374.3h1.2v1.2h-1.2zM623.7 385.2h1.2v1.2h-1.2zM646.3 366.5h1.2v1.2h-1.2zM443.2 502.2h1.2v1.2h-1.2zM655.5 362.1h1.2v1.2h-1.2zM670.2 355.1h1.2v1.2h-1.2zM482.9 475.6h1.2v1.2h-1.2zM582.1 414.7h1.2v1.2h-1.2zM444.6 500.5h1.2v1.2h-1.2zM574.3 417.5h1.2v1.2h-1.2zM601.2 400.0h1.2v1.2h-1.2zM610.6 396.7h1.2v1.2h-1.2zM638.8 373.2h1.2v1.2h-1.2zM496.1 469.5h1.2v1.2h-1.2zM451.2 495.6h1.2v1.2h-1.2zM628.7 381.2h1.2v1.2h-1.2zM428.3 509.5h1.2v1.2h-1.2zM480.8 481.2h1.2v1.2h-1.2zM481.8 476.4h1.2v1.2h-1.2zM618.1 387.7h1.2v1.2h-1.2zM533.7 443.5h1.2v1.2h-1.2zM633.9 376.4h1.2v1.2h-1.2zM590.9 408.5h1.2v1.2h-1.2zM635.2 376.3h1.2v1.2h-1.2zM620.8 391.1h1.2v1.2h-1.2zM644.6 367.4h1.2v1.2h-1.2zM491.7 472.2h1.2v1.2h-1.2zM511.8 458.7h1.2v1.2h-1.2zM580.9 415.0h1.2v1.2h-1.2zM569.4 422.8h1.2v1.2h-1.2zM618.7 389.4h1.2v1.2h-1.2zM626.5 384.7h1.2v1.2h-1.2zM499.0 468.9h1.2v1.2h-1.2zM452.4 496.6h1.2v1.2h-1.2zM609.5 396.1h1.2v1.2h-1.2zM595.8 403.5h1.2v1.2h-1.2zM491.9 472.0h1.2v1.2h-1.2zM436.2 505.7h1.2v1.2h-1.2zM427.7 509.4h1.2v1.2h-1.2zM484.7 477.2h1.2v1.2h-1.2zM491.1 474.5h1.2v1.2h-1.2zM474.3 484.6h1.2v1.2h-1.2zM434.6 507.3h1.2v1.2h-1.2zM464.9 486.7h1.2v1.2h-1.2zM510.4 460.6h1.2v1.2h-1.2zM445.2 501.0h1.2v1.2h-1.2zM474.1 482.8h1.2v1.2h-1.2zM532.7 443.8h1.2v1.2h-1.2zM636.5 375.0h1.2v1.2h-1.2zM642.5 369.9h1.2v1.2h-1.2zM524.4 448.6h1.2v1.2h-1.2zM453.7 495.2h1.2v1.2h-1.2zM490.0 474.1h1.2v1.2h-1.2zM592.7 406.6h1.2v1.2h-1.2zM524.9 450.2h1.2v1.2h-1.2zM566.2 425.9h1.2v1.2h-1.2zM608.4 398.5h1.2v1.2h-1.2zM588.6 412.5h1.2v1.2h-1.2zM639.4 369.8h1.2v1.2h-1.2zM443.5 501.2h1.2v1.2h-1.2zM497.0 471.3h1.2v1.2h-1.2zM430.4 508.7h1.2v1.2h-1.2zM553.7 429.9h1.2v1.2h-1.2zM577.4 414.2h1.2v1.2h-1.2zM486.1 478.6h1.2v1.2h-1.2zM435.9 506.8h1.2v1.2h-1.2zM539.2 440.9h1.2v1.2h-1.2zM464.3 487.5h1.2v1.2h-1.2zM471.1 483.4h1.2v1.2h-1.2zM518.4 455.5h1.2v1.2h-1.2zM661.1 359.2h1.2v1.2h-1.2zM513.0 459.2h1.2v1.2h-1.2zM601.4 402.8h1.2v1.2h-1.2zM516.1 457.1h1.2v1.2h-1.2zM524.4 450.0h1.2v1.2h-1.2zM457.3 493.2h1.2v1.2h-1.2zM468.5 485.0h1.2v1.2h-1.2zM616.9 391.7h1.2v1.2h-1.2zM530.5 445.8h1.2v1.2h-1.2zM494.0 468.5h1.2v1.2h-1.2zM671.7 353.9h1.2v1.2h-1.2zM644.1 366.3h1.2v1.2h-1.2zM488.7 476.1h1.2v1.2h-1.2zM531.8 443.2h1.2v1.2h-1.2zM565.3 421.4h1.2v1.2h-1.2zM463.9 487.9h1.2v1.2h-1.2zM530.0 447.4h1.2v1.2h-1.2zM493.7 472.0h1.2v1.2h-1.2zM627.0 381.0h1.2v1.2h-1.2zM445.7 500.5h1.2v1.2h-1.2zM672.8 350.5h1.2v1.2h-1.2zM481.4 478.0h1.2v1.2h-1.2zM505.6 463.8h1.2v1.2h-1.2zM440.9 503.0h1.2v1.2h-1.2zM652.9 364.2h1.2v1.2h-1.2zM631.5 377.7h1.2v1.2h-1.2zM438.9 504.7h1.2v1.2h-1.2zM555.5 430.9h1.2v1.2h-1.2zM520.7 451.8h1.2v1.2h-1.2zM575.3 416.4h1.2v1.2h-1.2zM506.9 463.7h1.2v1.2h-1.2zM663.9 356.1h1.2v1.2h-1.2zM477.0 481.3h1.2v1.2h-1.2zM629.5 377.7h1.2v1.2h-1.2zM489.6 475.2h1.2v1.2h-1.2zM586.2 412.5h1.2v1.2h-1.2zM530.1 446.4h1.2v1.2h-1.2zM555.0 428.3h1.2v1.2h-1.2zM554.0 430.8h1.2v1.2h-1.2zM580.3 414.3h1.2v1.2h-1.2zM439.0 504.6h1.2v1.2h-1.2zM436.9 505.8h1.2v1.2h-1.2zM667.6 356.2h1.2v1.2h-1.2zM485.9 475.6h1.2v1.2h-1.2zM512.1 462.9h1.2v1.2h-1.2zM482.5 474.8h1.2v1.2h-1.2zM585.3 410.6h1.2v1.2h-1.2zM670.9 354.2h1.2v1.2h-1.2zM523.8 449.6h1.2v1.2h-1.2zM503.2 467.4h1.2v1.2h-1.2zM510.3 460.5h1.2v1.2h-1.2zM428.7 509.5h1.2v1.2h-1.2zM444.6 500.3h1.2v1.2h-1.2zM434.0 507.6h1.2v1.2h-1.2zM503.8 466.3h1.2v1.2h-1.2zM671.0 353.3h1.2v1.2h-1.2zM457.6 491.6h1.2v1.2h-1.2zM560.8 429.7h1.2v1.2h-1.2zM474.3 482.3h1.2v1.2h-1.2zM431.1 508.5h1.2v1.2h-1.2zM633.7 377.9h1.2v1.2h-1.2zM454.0 495.0h1.2v1.2h-1.2zM456.0 494.0h1.2v1.2h-1.2zM628.7 383.6h1.2v1.2h-1.2zM483.5 476.1h1.2v1.2h-1.2zM472.2 484.6h1.2v1.2h-1.2zM660.6 360.2h1.2v1.2h-1.2zM471.0 483.9h1.2v1.2h-1.2zM632.4 378.1h1.2v1.2h-1.2zM499.5 464.4h1.2v1.2h-1.2zM565.0 423.4h1.2v1.2h-1.2zM500.5 470.4h1.2v1.2h-1.2zM507.7 461.3h1.2v1.2h-1.2zM657.9 359.3h1.2v1.2h-1.2zM651.6 364.1h1.2v1.2h-1.2zM466.1 487.0h1.2v1.2h-1.2zM605.2 400.6h1.2v1.2h-1.2zM457.1 490.8h1.2v1.2h-1.2zM497.6 469.7h1.2v1.2h-1.2zM439.7 504.3h1.2v1.2h-1.2zM585.8 409.9h1.2v1.2h-1.2zM605.7 398.0h1.2v1.2h-1.2zM610.8 397.5h1.2v1.2h-1.2zM617.9 392.2h1.2v1.2h-1.2zM521.8 454.1h1.2v1.2h-1.2zM466.7 483.3h1.2v1.2h-1.2zM422.9 511.1h1.2v1.2h-1.2zM533.3 444.7h1.2v1.2h-1.2zM658.1 359.5h1.2v1.2h-1.2zM535.4 442.6h1.2v1.2h-1.2zM577.7 420.9h1.2v1.2h-1.2zM653.9 362.1h1.2v1.2h-1.2zM640.2 369.4h1.2v1.2h-1.2zM609.1 396.2h1.2v1.2h-1.2zM571.8 419.7h1.2v1.2h-1.2zM480.5 478.7h1.2v1.2h-1.2zM611.4 394.3h1.2v1.2h-1.2zM527.5 449.8h1.2v1.2h-1.2zM600.6 401.9h1.2v1.2h-1.2zM478.4 478.6h1.2v1.2h-1.2zM660.0 358.7h1.2v1.2h-1.2zM463.3 488.4h1.2v1.2h-1.2zM622.0 386.5h1.2v1.2h-1.2zM647.2 367.9h1.2v1.2h-1.2zM460.3 490.8h1.2v1.2h-1.2zM640.8 368.8h1.2v1.2h-1.2zM585.0 412.7h1.2v1.2h-1.2zM574.6 421.2h1.2v1.2h-1.2zM486.1 478.2h1.2v1.2h-1.2zM504.9 465.3h1.2v1.2h-1.2zM481.3 479.9h1.2v1.2h-1.2zM533.6 443.0h1.2v1.2h-1.2zM585.8 409.7h1.2v1.2h-1.2zM606.3 398.4h1.2v1.2h-1.2zM600.5 402.0h1.2v1.2h-1.2zM509.6 463.4h1.2v1.2h-1.2z" fill="#3AAA62"/>
<path d="M512.5 438.2h1.3v1.3h-1.3zM554.6 399.2h1.3v1.3h-1.3zM661.0 307.9h1.3v1.3h-1.3zM589.7 365.5h1.3v1.3h-1.3zM550.3 399.3h1.3v1.3h-1.3zM661.6 307.6h1.3v1.3h-1.3zM543.3 407.6h1.3v1.3h-1.3zM530.6 426.2h1.3v1.3h-1.3zM626.1 336.9h1.3v1.3h-1.3zM651.9 318.3h1.3v1.3h-1.3zM594.6 362.9h1.3v1.3h-1.3zM509.5 442.2h1.3v1.3h-1.3zM518.5 436.5h1.3v1.3h-1.3zM423.9 510.4h1.3v1.3h-1.3zM479.4 471.9h1.3v1.3h-1.3zM608.4 345.2h1.3v1.3h-1.3zM539.2 413.1h1.3v1.3h-1.3zM627.5 333.1h1.3v1.3h-1.3zM582.8 377.0h1.3v1.3h-1.3zM557.8 395.8h1.3v1.3h-1.3zM615.4 346.3h1.3v1.3h-1.3zM541.4 419.8h1.3v1.3h-1.3zM582.1 369.9h1.3v1.3h-1.3zM539.4 414.4h1.3v1.3h-1.3zM506.5 443.7h1.3v1.3h-1.3zM605.6 350.2h1.3v1.3h-1.3zM438.9 501.0h1.3v1.3h-1.3zM656.5 311.0h1.3v1.3h-1.3zM652.6 316.1h1.3v1.3h-1.3zM621.3 338.7h1.3v1.3h-1.3zM534.1 419.9h1.3v1.3h-1.3zM529.9 423.3h1.3v1.3h-1.3zM518.5 434.4h1.3v1.3h-1.3zM532.1 421.5h1.3v1.3h-1.3zM475.1 474.3h1.3v1.3h-1.3zM613.7 341.7h1.3v1.3h-1.3zM633.4 329.0h1.3v1.3h-1.3zM542.1 408.7h1.3v1.3h-1.3zM626.7 334.5h1.3v1.3h-1.3zM491.9 461.9h1.3v1.3h-1.3zM628.3 331.9h1.3v1.3h-1.3zM655.6 308.1h1.3v1.3h-1.3zM582.8 375.9h1.3v1.3h-1.3zM653.1 312.5h1.3v1.3h-1.3zM596.2 351.8h1.3v1.3h-1.3zM588.4 366.3h1.3v1.3h-1.3zM535.4 419.6h1.3v1.3h-1.3zM436.2 503.8h1.3v1.3h-1.3zM451.9 491.0h1.3v1.3h-1.3zM620.6 338.4h1.3v1.3h-1.3zM465.4 480.4h1.3v1.3h-1.3zM586.7 363.5h1.3v1.3h-1.3zM460.3 481.6h1.3v1.3h-1.3zM603.2 353.6h1.3v1.3h-1.3zM651.4 316.1h1.3v1.3h-1.3zM570.3 381.2h1.3v1.3h-1.3zM431.1 506.6h1.3v1.3h-1.3zM598.8 358.3h1.3v1.3h-1.3zM536.1 412.6h1.3v1.3h-1.3zM629.8 325.3h1.3v1.3h-1.3zM457.6 484.7h1.3v1.3h-1.3zM489.2 460.2h1.3v1.3h-1.3zM642.6 319.6h1.3v1.3h-1.3zM622.9 329.3h1.3v1.3h-1.3zM640.2 322.7h1.3v1.3h-1.3zM546.9 404.4h1.3v1.3h-1.3zM583.8 373.2h1.3v1.3h-1.3zM645.9 318.1h1.3v1.3h-1.3zM580.3 375.5h1.3v1.3h-1.3zM442.8 498.5h1.3v1.3h-1.3zM459.0 483.3h1.3v1.3h-1.3zM422.4 511.5h1.3v1.3h-1.3zM448.5 493.6h1.3v1.3h-1.3zM428.3 508.4h1.3v1.3h-1.3zM514.2 441.9h1.3v1.3h-1.3zM569.9 382.5h1.3v1.3h-1.3zM628.6 333.5h1.3v1.3h-1.3zM520.0 433.4h1.3v1.3h-1.3zM460.4 481.7h1.3v1.3h-1.3zM640.1 322.5h1.3v1.3h-1.3zM642.0 319.9h1.3v1.3h-1.3zM656.6 309.7h1.3v1.3h-1.3zM427.5 508.7h1.3v1.3h-1.3zM563.7 392.5h1.3v1.3h-1.3zM573.3 380.3h1.3v1.3h-1.3zM550.1 405.2h1.3v1.3h-1.3zM466.9 476.1h1.3v1.3h-1.3zM643.0 320.8h1.3v1.3h-1.3zM550.7 407.3h1.3v1.3h-1.3zM430.7 507.4h1.3v1.3h-1.3zM505.0 448.7h1.3v1.3h-1.3zM596.5 357.8h1.3v1.3h-1.3zM470.5 474.0h1.3v1.3h-1.3zM608.3 347.4h1.3v1.3h-1.3zM472.2 471.8h1.3v1.3h-1.3zM525.7 424.0h1.3v1.3h-1.3zM492.0 459.7h1.3v1.3h-1.3zM452.5 487.7h1.3v1.3h-1.3zM634.1 331.8h1.3v1.3h-1.3zM503.6 445.1h1.3v1.3h-1.3zM602.3 355.1h1.3v1.3h-1.3zM635.9 322.8h1.3v1.3h-1.3zM489.7 459.6h1.3v1.3h-1.3zM423.1 510.4h1.3v1.3h-1.3zM548.0 406.9h1.3v1.3h-1.3zM478.4 470.7h1.3v1.3h-1.3zM631.7 327.8h1.3v1.3h-1.3zM461.4 483.6h1.3v1.3h-1.3zM595.1 364.4h1.3v1.3h-1.3zM428.0 508.2h1.3v1.3h-1.3zM486.9 464.0h1.3v1.3h-1.3zM469.1 477.4h1.3v1.3h-1.3zM626.5 332.6h1.3v1.3h-1.3zM565.7 393.6h1.3v1.3h-1.3zM580.2 369.3h1.3v1.3h-1.3zM441.6 498.6h1.3v1.3h-1.3zM495.9 449.6h1.3v1.3h-1.3zM636.2 324.8h1.3v1.3h-1.3zM569.1 384.3h1.3v1.3h-1.3zM603.8 362.4h1.3v1.3h-1.3zM542.3 412.8h1.3v1.3h-1.3zM471.1 479.4h1.3v1.3h-1.3zM641.3 325.1h1.3v1.3h-1.3zM485.2 462.6h1.3v1.3h-1.3zM462.6 482.9h1.3v1.3h-1.3zM577.7 381.5h1.3v1.3h-1.3zM442.5 498.4h1.3v1.3h-1.3zM605.5 351.3h1.3v1.3h-1.3zM592.8 363.8h1.3v1.3h-1.3zM513.8 435.0h1.3v1.3h-1.3zM545.5 406.9h1.3v1.3h-1.3zM538.8 415.9h1.3v1.3h-1.3zM439.7 501.2h1.3v1.3h-1.3zM440.9 499.1h1.3v1.3h-1.3zM506.4 445.3h1.3v1.3h-1.3zM423.4 510.7h1.3v1.3h-1.3zM466.4 479.1h1.3v1.3h-1.3zM509.6 445.1h1.3v1.3h-1.3zM572.5 382.2h1.3v1.3h-1.3zM545.7 409.3h1.3v1.3h-1.3zM463.5 479.0h1.3v1.3h-1.3zM604.2 349.4h1.3v1.3h-1.3zM612.6 343.8h1.3v1.3h-1.3zM581.0 370.1h1.3v1.3h-1.3zM587.0 368.9h1.3v1.3h-1.3zM482.7 465.0h1.3v1.3h-1.3zM623.2 332.9h1.3v1.3h-1.3zM562.3 392.6h1.3v1.3h-1.3zM464.4 479.7h1.3v1.3h-1.3zM586.2 366.9h1.3v1.3h-1.3zM572.5 380.1h1.3v1.3h-1.3zM558.4 395.2h1.3v1.3h-1.3zM534.9 425.6h1.3v1.3h-1.3zM606.0 344.7h1.3v1.3h-1.3zM597.1 358.5h1.3v1.3h-1.3zM563.3 389.5h1.3v1.3h-1.3zM437.9 502.9h1.3v1.3h-1.3zM477.5 470.6h1.3v1.3h-1.3zM656.9 304.5h1.3v1.3h-1.3zM518.5 437.5h1.3v1.3h-1.3zM573.8 377.8h1.3v1.3h-1.3zM453.4 488.1h1.3v1.3h-1.3zM559.0 390.7h1.3v1.3h-1.3zM568.0 383.0h1.3v1.3h-1.3zM604.9 350.1h1.3v1.3h-1.3zM654.5 314.6h1.3v1.3h-1.3zM531.3 424.0h1.3v1.3h-1.3zM496.9 452.0h1.3v1.3h-1.3zM460.2 484.3h1.3v1.3h-1.3zM502.1 448.9h1.3v1.3h-1.3zM528.3 425.0h1.3v1.3h-1.3zM653.4 313.5h1.3v1.3h-1.3zM544.6 411.4h1.3v1.3h-1.3zM583.9 369.7h1.3v1.3h-1.3zM598.0 357.5h1.3v1.3h-1.3zM425.1 509.9h1.3v1.3h-1.3zM477.8 471.6h1.3v1.3h-1.3zM551.6 401.5h1.3v1.3h-1.3zM435.6 505.1h1.3v1.3h-1.3zM458.0 484.0h1.3v1.3h-1.3zM602.6 355.7h1.3v1.3h-1.3zM583.7 372.0h1.3v1.3h-1.3zM455.1 488.5h1.3v1.3h-1.3zM450.1 488.1h1.3v1.3h-1.3zM624.4 339.4h1.3v1.3h-1.3zM535.3 417.6h1.3v1.3h-1.3zM497.7 449.7h1.3v1.3h-1.3zM594.6 361.2h1.3v1.3h-1.3zM582.5 378.6h1.3v1.3h-1.3zM660.6 310.0h1.3v1.3h-1.3zM446.7 492.7h1.3v1.3h-1.3zM606.4 348.5h1.3v1.3h-1.3zM532.3 424.4h1.3v1.3h-1.3zM481.4 464.6h1.3v1.3h-1.3zM541.5 412.1h1.3v1.3h-1.3zM426.7 508.9h1.3v1.3h-1.3zM451.7 492.3h1.3v1.3h-1.3zM447.9 492.4h1.3v1.3h-1.3zM588.1 370.5h1.3v1.3h-1.3zM591.9 361.5h1.3v1.3h-1.3zM480.4 467.4h1.3v1.3h-1.3zM495.6 457.0h1.3v1.3h-1.3zM607.4 350.2h1.3v1.3h-1.3zM514.9 433.2h1.3v1.3h-1.3zM505.5 448.6h1.3v1.3h-1.3zM648.9 317.7h1.3v1.3h-1.3zM552.5 400.8h1.3v1.3h-1.3zM551.1 404.5h1.3v1.3h-1.3zM568.5 386.1h1.3v1.3h-1.3zM431.7 506.4h1.3v1.3h-1.3zM517.6 433.3h1.3v1.3h-1.3zM611.2 342.7h1.3v1.3h-1.3zM578.2 375.9h1.3v1.3h-1.3zM635.6 322.6h1.3v1.3h-1.3zM496.4 453.8h1.3v1.3h-1.3zM536.0 413.6h1.3v1.3h-1.3zM478.2 471.3h1.3v1.3h-1.3zM466.3 479.2h1.3v1.3h-1.3zM443.7 496.1h1.3v1.3h-1.3zM469.6 478.5h1.3v1.3h-1.3zM461.2 486.1h1.3v1.3h-1.3zM527.3 429.1h1.3v1.3h-1.3zM520.5 428.6h1.3v1.3h-1.3zM605.3 354.1h1.3v1.3h-1.3zM608.7 347.7h1.3v1.3h-1.3zM551.7 403.3h1.3v1.3h-1.3zM579.5 373.9h1.3v1.3h-1.3zM534.3 419.0h1.3v1.3h-1.3zM496.3 457.5h1.3v1.3h-1.3zM542.8 412.8h1.3v1.3h-1.3zM573.4 379.9h1.3v1.3h-1.3zM651.2 312.7h1.3v1.3h-1.3zM617.9 337.6h1.3v1.3h-1.3zM437.8 502.7h1.3v1.3h-1.3zM575.5 383.9h1.3v1.3h-1.3zM443.6 496.1h1.3v1.3h-1.3zM571.2 382.9h1.3v1.3h-1.3zM625.8 332.1h1.3v1.3h-1.3zM589.7 363.5h1.3v1.3h-1.3zM450.5 491.0h1.3v1.3h-1.3zM523.6 430.6h1.3v1.3h-1.3zM468.7 474.6h1.3v1.3h-1.3zM580.5 371.9h1.3v1.3h-1.3zM592.5 365.8h1.3v1.3h-1.3zM598.8 357.9h1.3v1.3h-1.3zM507.4 446.6h1.3v1.3h-1.3zM565.4 386.8h1.3v1.3h-1.3zM471.8 474.2h1.3v1.3h-1.3zM645.2 320.0h1.3v1.3h-1.3zM647.2 316.0h1.3v1.3h-1.3zM429.1 507.4h1.3v1.3h-1.3zM557.2 396.5h1.3v1.3h-1.3zM594.3 363.5h1.3v1.3h-1.3zM477.3 469.2h1.3v1.3h-1.3zM429.7 508.0h1.3v1.3h-1.3zM422.3 511.5h1.3v1.3h-1.3zM591.6 361.4h1.3v1.3h-1.3zM424.7 510.0h1.3v1.3h-1.3zM514.6 437.9h1.3v1.3h-1.3zM613.6 343.5h1.3v1.3h-1.3zM434.4 505.3h1.3v1.3h-1.3zM591.6 360.3h1.3v1.3h-1.3zM525.4 424.0h1.3v1.3h-1.3zM515.4 439.8h1.3v1.3h-1.3zM538.1 416.0h1.3v1.3h-1.3zM506.3 447.3h1.3v1.3h-1.3zM628.8 331.8h1.3v1.3h-1.3zM582.7 376.4h1.3v1.3h-1.3zM514.9 434.5h1.3v1.3h-1.3zM450.7 491.7h1.3v1.3h-1.3zM542.9 409.2h1.3v1.3h-1.3zM661.8 309.9h1.3v1.3h-1.3zM636.0 329.2h1.3v1.3h-1.3zM438.1 501.1h1.3v1.3h-1.3zM507.3 446.4h1.3v1.3h-1.3zM534.6 418.1h1.3v1.3h-1.3zM519.2 432.6h1.3v1.3h-1.3zM448.7 492.0h1.3v1.3h-1.3zM466.5 477.2h1.3v1.3h-1.3zM550.3 402.2h1.3v1.3h-1.3zM595.0 362.2h1.3v1.3h-1.3zM593.9 363.7h1.3v1.3h-1.3zM583.2 370.5h1.3v1.3h-1.3zM583.6 367.8h1.3v1.3h-1.3zM423.9 511.4h1.3v1.3h-1.3zM474.2 475.9h1.3v1.3h-1.3zM502.7 450.4h1.3v1.3h-1.3zM483.3 463.2h1.3v1.3h-1.3zM515.0 436.0h1.3v1.3h-1.3zM517.7 435.4h1.3v1.3h-1.3zM503.4 446.4h1.3v1.3h-1.3zM424.3 510.9h1.3v1.3h-1.3zM629.6 330.8h1.3v1.3h-1.3zM651.6 315.2h1.3v1.3h-1.3zM569.7 381.7h1.3v1.3h-1.3zM487.3 458.8h1.3v1.3h-1.3zM530.0 421.1h1.3v1.3h-1.3zM640.9 322.7h1.3v1.3h-1.3zM565.8 387.1h1.3v1.3h-1.3zM589.2 365.3h1.3v1.3h-1.3zM589.9 366.1h1.3v1.3h-1.3zM657.4 311.2h1.3v1.3h-1.3zM579.1 379.6h1.3v1.3h-1.3zM447.8 492.7h1.3v1.3h-1.3zM543.2 408.4h1.3v1.3h-1.3zM643.3 320.2h1.3v1.3h-1.3zM452.9 490.5h1.3v1.3h-1.3zM434.1 504.9h1.3v1.3h-1.3zM433.9 505.4h1.3v1.3h-1.3zM438.6 501.4h1.3v1.3h-1.3zM461.1 483.6h1.3v1.3h-1.3zM607.0 349.7h1.3v1.3h-1.3zM565.8 385.7h1.3v1.3h-1.3zM597.6 357.6h1.3v1.3h-1.3zM555.5 401.1h1.3v1.3h-1.3zM506.8 448.6h1.3v1.3h-1.3zM610.7 347.3h1.3v1.3h-1.3zM462.6 483.5h1.3v1.3h-1.3zM508.2 443.7h1.3v1.3h-1.3zM521.6 430.2h1.3v1.3h-1.3zM585.2 372.4h1.3v1.3h-1.3zM604.6 348.6h1.3v1.3h-1.3zM557.9 395.5h1.3v1.3h-1.3zM567.9 381.2h1.3v1.3h-1.3zM489.3 458.5h1.3v1.3h-1.3zM564.3 387.4h1.3v1.3h-1.3zM624.4 331.0h1.3v1.3h-1.3zM527.3 427.1h1.3v1.3h-1.3zM602.3 352.0h1.3v1.3h-1.3zM543.8 409.5h1.3v1.3h-1.3zM545.0 408.8h1.3v1.3h-1.3zM567.9 384.1h1.3v1.3h-1.3zM455.4 488.5h1.3v1.3h-1.3zM473.5 472.8h1.3v1.3h-1.3zM463.9 481.6h1.3v1.3h-1.3zM550.3 401.3h1.3v1.3h-1.3zM582.5 371.5h1.3v1.3h-1.3zM591.7 362.6h1.3v1.3h-1.3zM471.9 474.3h1.3v1.3h-1.3zM502.0 448.5h1.3v1.3h-1.3zM456.8 485.6h1.3v1.3h-1.3zM578.9 380.0h1.3v1.3h-1.3zM522.8 429.6h1.3v1.3h-1.3zM487.3 460.8h1.3v1.3h-1.3zM475.8 471.6h1.3v1.3h-1.3zM649.8 321.9h1.3v1.3h-1.3zM537.5 420.3h1.3v1.3h-1.3zM659.9 310.6h1.3v1.3h-1.3zM499.0 453.8h1.3v1.3h-1.3zM473.6 472.3h1.3v1.3h-1.3zM593.8 361.2h1.3v1.3h-1.3zM640.9 322.6h1.3v1.3h-1.3zM461.2 483.1h1.3v1.3h-1.3zM628.8 328.8h1.3v1.3h-1.3zM562.9 388.4h1.3v1.3h-1.3zM639.0 324.8h1.3v1.3h-1.3zM649.1 316.7h1.3v1.3h-1.3zM524.3 423.1h1.3v1.3h-1.3zM647.9 317.1h1.3v1.3h-1.3zM465.1 482.7h1.3v1.3h-1.3zM528.4 423.0h1.3v1.3h-1.3zM528.3 425.4h1.3v1.3h-1.3zM480.7 465.4h1.3v1.3h-1.3zM538.0 417.8h1.3v1.3h-1.3zM602.6 350.8h1.3v1.3h-1.3zM447.8 491.5h1.3v1.3h-1.3zM537.3 415.5h1.3v1.3h-1.3zM548.0 412.7h1.3v1.3h-1.3zM469.0 476.0h1.3v1.3h-1.3zM576.0 375.4h1.3v1.3h-1.3zM482.5 468.1h1.3v1.3h-1.3zM558.9 395.0h1.3v1.3h-1.3zM559.1 398.4h1.3v1.3h-1.3zM601.7 351.3h1.3v1.3h-1.3zM646.4 313.9h1.3v1.3h-1.3zM644.2 318.7h1.3v1.3h-1.3zM542.4 412.7h1.3v1.3h-1.3zM484.9 464.9h1.3v1.3h-1.3zM480.0 472.6h1.3v1.3h-1.3zM610.7 341.2h1.3v1.3h-1.3zM604.4 349.7h1.3v1.3h-1.3zM612.5 342.7h1.3v1.3h-1.3zM622.0 337.9h1.3v1.3h-1.3zM557.5 397.4h1.3v1.3h-1.3zM637.4 323.6h1.3v1.3h-1.3zM579.6 372.8h1.3v1.3h-1.3zM573.5 383.2h1.3v1.3h-1.3zM622.9 337.6h1.3v1.3h-1.3zM578.4 383.4h1.3v1.3h-1.3zM606.2 349.4h1.3v1.3h-1.3zM645.2 323.0h1.3v1.3h-1.3zM516.8 432.6h1.3v1.3h-1.3zM602.2 352.6h1.3v1.3h-1.3zM493.5 454.3h1.3v1.3h-1.3zM538.6 414.0h1.3v1.3h-1.3zM631.6 326.8h1.3v1.3h-1.3zM655.7 310.3h1.3v1.3h-1.3zM649.4 315.5h1.3v1.3h-1.3zM603.8 351.3h1.3v1.3h-1.3zM625.6 334.9h1.3v1.3h-1.3zM634.3 326.8h1.3v1.3h-1.3zM568.3 385.6h1.3v1.3h-1.3zM480.3 473.2h1.3v1.3h-1.3zM426.1 509.5h1.3v1.3h-1.3zM604.6 352.0h1.3v1.3h-1.3zM604.4 351.7h1.3v1.3h-1.3zM597.4 358.5h1.3v1.3h-1.3zM561.1 393.5h1.3v1.3h-1.3zM579.8 373.2h1.3v1.3h-1.3zM594.4 364.0h1.3v1.3h-1.3zM549.5 409.4h1.3v1.3h-1.3zM580.0 378.0h1.3v1.3h-1.3zM475.7 471.5h1.3v1.3h-1.3zM550.1 400.8h1.3v1.3h-1.3zM572.8 380.4h1.3v1.3h-1.3zM558.4 395.4h1.3v1.3h-1.3zM483.6 467.7h1.3v1.3h-1.3zM452.2 488.8h1.3v1.3h-1.3zM579.0 375.2h1.3v1.3h-1.3zM448.8 493.6h1.3v1.3h-1.3zM612.6 341.3h1.3v1.3h-1.3zM465.5 482.0h1.3v1.3h-1.3zM607.2 351.1h1.3v1.3h-1.3zM507.2 442.0h1.3v1.3h-1.3zM638.3 324.7h1.3v1.3h-1.3zM476.0 471.1h1.3v1.3h-1.3zM459.7 482.2h1.3v1.3h-1.3zM584.0 366.6h1.3v1.3h-1.3zM607.6 344.3h1.3v1.3h-1.3zM505.7 447.8h1.3v1.3h-1.3zM535.2 417.3h1.3v1.3h-1.3zM580.8 375.1h1.3v1.3h-1.3zM492.7 454.0h1.3v1.3h-1.3zM515.2 436.5h1.3v1.3h-1.3zM557.8 395.1h1.3v1.3h-1.3zM494.6 451.3h1.3v1.3h-1.3zM456.9 482.9h1.3v1.3h-1.3zM640.0 323.8h1.3v1.3h-1.3zM451.3 490.0h1.3v1.3h-1.3zM658.9 307.4h1.3v1.3h-1.3zM624.7 333.6h1.3v1.3h-1.3zM529.1 425.6h1.3v1.3h-1.3zM628.5 335.8h1.3v1.3h-1.3zM437.2 502.1h1.3v1.3h-1.3zM556.9 398.5h1.3v1.3h-1.3zM506.7 451.3h1.3v1.3h-1.3zM494.0 455.8h1.3v1.3h-1.3zM636.7 328.9h1.3v1.3h-1.3zM431.0 505.9h1.3v1.3h-1.3zM628.9 334.6h1.3v1.3h-1.3zM440.7 500.0h1.3v1.3h-1.3zM584.5 365.9h1.3v1.3h-1.3zM490.4 460.5h1.3v1.3h-1.3zM548.4 409.1h1.3v1.3h-1.3zM644.1 322.8h1.3v1.3h-1.3zM613.3 345.2h1.3v1.3h-1.3zM445.6 495.1h1.3v1.3h-1.3zM495.1 452.9h1.3v1.3h-1.3zM539.0 413.6h1.3v1.3h-1.3zM594.0 361.3h1.3v1.3h-1.3zM423.1 511.0h1.3v1.3h-1.3zM629.3 329.4h1.3v1.3h-1.3zM624.0 334.5h1.3v1.3h-1.3zM651.5 316.5h1.3v1.3h-1.3zM470.4 476.8h1.3v1.3h-1.3zM473.0 479.2h1.3v1.3h-1.3zM621.9 341.4h1.3v1.3h-1.3zM545.4 406.1h1.3v1.3h-1.3zM480.7 467.6h1.3v1.3h-1.3zM425.9 509.0h1.3v1.3h-1.3zM473.8 471.1h1.3v1.3h-1.3zM583.9 372.7h1.3v1.3h-1.3zM597.8 355.4h1.3v1.3h-1.3zM506.9 443.1h1.3v1.3h-1.3zM642.2 320.4h1.3v1.3h-1.3zM544.2 412.2h1.3v1.3h-1.3zM546.1 407.5h1.3v1.3h-1.3zM516.6 434.9h1.3v1.3h-1.3zM518.7 436.2h1.3v1.3h-1.3zM508.0 445.9h1.3v1.3h-1.3zM619.9 338.4h1.3v1.3h-1.3zM527.5 427.9h1.3v1.3h-1.3zM477.4 469.2h1.3v1.3h-1.3zM526.4 427.1h1.3v1.3h-1.3zM644.1 318.0h1.3v1.3h-1.3zM575.3 381.9h1.3v1.3h-1.3zM447.0 494.5h1.3v1.3h-1.3zM522.5 427.6h1.3v1.3h-1.3zM533.9 422.8h1.3v1.3h-1.3zM425.1 509.4h1.3v1.3h-1.3zM652.7 316.5h1.3v1.3h-1.3zM641.9 321.8h1.3v1.3h-1.3zM446.2 493.6h1.3v1.3h-1.3zM554.4 397.2h1.3v1.3h-1.3zM496.9 452.7h1.3v1.3h-1.3zM472.7 474.3h1.3v1.3h-1.3zM487.7 459.0h1.3v1.3h-1.3zM434.7 505.1h1.3v1.3h-1.3zM587.1 364.5h1.3v1.3h-1.3zM509.9 443.0h1.3v1.3h-1.3zM589.9 365.3h1.3v1.3h-1.3zM617.6 334.1h1.3v1.3h-1.3zM559.4 394.6h1.3v1.3h-1.3zM504.3 444.8h1.3v1.3h-1.3zM455.4 482.9h1.3v1.3h-1.3zM578.3 375.0h1.3v1.3h-1.3zM583.9 370.8h1.3v1.3h-1.3zM609.4 348.7h1.3v1.3h-1.3zM454.9 486.3h1.3v1.3h-1.3zM432.9 506.7h1.3v1.3h-1.3zM633.0 331.7h1.3v1.3h-1.3zM567.5 389.1h1.3v1.3h-1.3zM444.4 497.6h1.3v1.3h-1.3zM592.1 364.0h1.3v1.3h-1.3zM435.3 503.9h1.3v1.3h-1.3zM573.6 382.4h1.3v1.3h-1.3zM555.1 401.7h1.3v1.3h-1.3zM593.6 362.3h1.3v1.3h-1.3zM444.4 496.1h1.3v1.3h-1.3zM640.0 318.7h1.3v1.3h-1.3zM647.7 318.7h1.3v1.3h-1.3zM658.3 311.0h1.3v1.3h-1.3zM605.8 347.0h1.3v1.3h-1.3zM496.7 453.9h1.3v1.3h-1.3zM656.8 312.8h1.3v1.3h-1.3zM569.3 384.4h1.3v1.3h-1.3zM594.4 363.1h1.3v1.3h-1.3zM580.7 376.4h1.3v1.3h-1.3zM471.4 472.1h1.3v1.3h-1.3zM626.7 331.7h1.3v1.3h-1.3zM577.2 378.8h1.3v1.3h-1.3zM474.9 475.2h1.3v1.3h-1.3zM512.6 443.9h1.3v1.3h-1.3zM456.3 483.0h1.3v1.3h-1.3zM525.8 427.0h1.3v1.3h-1.3zM659.5 311.2h1.3v1.3h-1.3zM514.0 441.8h1.3v1.3h-1.3zM516.8 440.0h1.3v1.3h-1.3zM614.7 338.5h1.3v1.3h-1.3zM441.7 498.8h1.3v1.3h-1.3zM450.6 489.1h1.3v1.3h-1.3zM600.9 357.3h1.3v1.3h-1.3zM453.1 486.6h1.3v1.3h-1.3zM568.6 388.3h1.3v1.3h-1.3zM618.0 341.0h1.3v1.3h-1.3zM557.0 398.0h1.3v1.3h-1.3zM441.1 497.9h1.3v1.3h-1.3zM471.4 473.9h1.3v1.3h-1.3zM551.6 405.4h1.3v1.3h-1.3zM651.0 311.0h1.3v1.3h-1.3zM578.9 375.5h1.3v1.3h-1.3zM589.2 365.8h1.3v1.3h-1.3zM564.8 391.0h1.3v1.3h-1.3zM500.1 452.0h1.3v1.3h-1.3zM567.8 386.7h1.3v1.3h-1.3zM424.1 510.2h1.3v1.3h-1.3zM521.3 431.4h1.3v1.3h-1.3zM616.8 339.1h1.3v1.3h-1.3zM470.9 477.2h1.3v1.3h-1.3zM577.5 376.8h1.3v1.3h-1.3zM594.8 363.3h1.3v1.3h-1.3zM459.4 481.2h1.3v1.3h-1.3zM627.8 334.7h1.3v1.3h-1.3zM480.4 469.0h1.3v1.3h-1.3zM653.0 316.2h1.3v1.3h-1.3zM504.6 448.0h1.3v1.3h-1.3zM568.7 387.4h1.3v1.3h-1.3zM649.7 319.3h1.3v1.3h-1.3zM618.8 336.6h1.3v1.3h-1.3zM538.5 415.5h1.3v1.3h-1.3zM468.5 477.3h1.3v1.3h-1.3zM569.5 385.0h1.3v1.3h-1.3zM563.0 386.2h1.3v1.3h-1.3zM437.2 502.7h1.3v1.3h-1.3zM513.7 438.4h1.3v1.3h-1.3zM643.0 318.5h1.3v1.3h-1.3zM548.1 406.1h1.3v1.3h-1.3zM465.3 477.4h1.3v1.3h-1.3zM576.5 381.8h1.3v1.3h-1.3zM530.8 423.5h1.3v1.3h-1.3zM641.3 326.6h1.3v1.3h-1.3zM539.5 412.1h1.3v1.3h-1.3zM428.1 507.9h1.3v1.3h-1.3zM460.6 483.7h1.3v1.3h-1.3zM463.9 478.2h1.3v1.3h-1.3zM650.3 315.6h1.3v1.3h-1.3zM508.1 442.8h1.3v1.3h-1.3zM505.6 446.0h1.3v1.3h-1.3zM656.3 311.9h1.3v1.3h-1.3zM471.3 475.4h1.3v1.3h-1.3zM571.2 387.7h1.3v1.3h-1.3zM649.4 317.3h1.3v1.3h-1.3zM640.4 319.1h1.3v1.3h-1.3zM460.3 485.0h1.3v1.3h-1.3zM534.9 415.0h1.3v1.3h-1.3zM482.3 467.3h1.3v1.3h-1.3zM589.9 362.1h1.3v1.3h-1.3zM480.9 466.7h1.3v1.3h-1.3zM464.3 483.4h1.3v1.3h-1.3zM487.1 460.0h1.3v1.3h-1.3zM453.2 487.4h1.3v1.3h-1.3zM593.9 360.0h1.3v1.3h-1.3zM488.9 458.9h1.3v1.3h-1.3zM517.9 438.3h1.3v1.3h-1.3zM487.9 457.5h1.3v1.3h-1.3zM513.1 436.5h1.3v1.3h-1.3zM495.1 456.2h1.3v1.3h-1.3zM506.7 441.8h1.3v1.3h-1.3zM592.1 362.2h1.3v1.3h-1.3zM463.6 483.5h1.3v1.3h-1.3zM586.7 368.5h1.3v1.3h-1.3zM505.2 446.0h1.3v1.3h-1.3zM444.3 495.8h1.3v1.3h-1.3zM450.6 489.3h1.3v1.3h-1.3zM638.1 322.6h1.3v1.3h-1.3zM431.9 506.5h1.3v1.3h-1.3zM488.2 463.5h1.3v1.3h-1.3zM629.2 333.1h1.3v1.3h-1.3zM440.9 499.4h1.3v1.3h-1.3zM472.5 472.9h1.3v1.3h-1.3zM486.4 464.0h1.3v1.3h-1.3zM622.6 330.7h1.3v1.3h-1.3zM449.6 490.7h1.3v1.3h-1.3zM648.9 315.2h1.3v1.3h-1.3zM450.6 489.0h1.3v1.3h-1.3zM557.6 393.4h1.3v1.3h-1.3zM607.5 349.3h1.3v1.3h-1.3zM556.0 393.8h1.3v1.3h-1.3zM543.7 408.2h1.3v1.3h-1.3zM526.9 424.3h1.3v1.3h-1.3zM482.5 467.1h1.3v1.3h-1.3zM660.2 305.4h1.3v1.3h-1.3zM518.8 436.5h1.3v1.3h-1.3zM575.4 378.3h1.3v1.3h-1.3zM561.7 390.8h1.3v1.3h-1.3zM652.8 312.4h1.3v1.3h-1.3zM480.4 467.6h1.3v1.3h-1.3zM459.0 482.5h1.3v1.3h-1.3zM637.8 327.3h1.3v1.3h-1.3zM544.1 410.7h1.3v1.3h-1.3zM575.8 378.5h1.3v1.3h-1.3zM572.0 384.8h1.3v1.3h-1.3zM609.7 344.2h1.3v1.3h-1.3zM623.0 336.6h1.3v1.3h-1.3zM590.3 364.9h1.3v1.3h-1.3zM423.0 510.5h1.3v1.3h-1.3zM622.9 337.0h1.3v1.3h-1.3zM432.0 505.8h1.3v1.3h-1.3zM627.8 333.3h1.3v1.3h-1.3zM422.1 511.0h1.3v1.3h-1.3zM607.8 349.1h1.3v1.3h-1.3zM575.2 382.8h1.3v1.3h-1.3zM428.0 508.6h1.3v1.3h-1.3zM602.8 351.8h1.3v1.3h-1.3zM561.0 391.9h1.3v1.3h-1.3zM450.9 489.7h1.3v1.3h-1.3zM632.4 325.3h1.3v1.3h-1.3zM563.8 386.7h1.3v1.3h-1.3zM532.9 420.3h1.3v1.3h-1.3zM648.9 317.3h1.3v1.3h-1.3zM470.6 472.2h1.3v1.3h-1.3zM464.2 480.9h1.3v1.3h-1.3zM636.2 326.8h1.3v1.3h-1.3zM460.3 483.4h1.3v1.3h-1.3zM618.2 335.8h1.3v1.3h-1.3zM472.2 476.8h1.3v1.3h-1.3zM617.3 335.8h1.3v1.3h-1.3zM519.8 434.3h1.3v1.3h-1.3zM570.1 387.9h1.3v1.3h-1.3zM567.7 380.8h1.3v1.3h-1.3zM516.6 436.3h1.3v1.3h-1.3zM546.3 408.9h1.3v1.3h-1.3zM577.8 377.5h1.3v1.3h-1.3zM454.6 486.0h1.3v1.3h-1.3zM641.8 320.4h1.3v1.3h-1.3zM619.6 333.8h1.3v1.3h-1.3zM471.8 475.1h1.3v1.3h-1.3zM475.9 473.6h1.3v1.3h-1.3zM516.6 434.0h1.3v1.3h-1.3zM607.1 346.3h1.3v1.3h-1.3zM545.9 407.2h1.3v1.3h-1.3zM497.4 452.9h1.3v1.3h-1.3zM606.4 349.7h1.3v1.3h-1.3zM468.8 477.1h1.3v1.3h-1.3zM592.0 363.3h1.3v1.3h-1.3zM602.8 350.0h1.3v1.3h-1.3zM446.3 491.5h1.3v1.3h-1.3zM558.7 396.1h1.3v1.3h-1.3zM564.5 392.5h1.3v1.3h-1.3zM655.1 308.2h1.3v1.3h-1.3zM493.6 454.1h1.3v1.3h-1.3zM532.3 421.5h1.3v1.3h-1.3zM646.6 320.0h1.3v1.3h-1.3zM453.2 489.1h1.3v1.3h-1.3zM637.3 327.9h1.3v1.3h-1.3zM509.6 443.0h1.3v1.3h-1.3zM504.3 448.9h1.3v1.3h-1.3zM660.8 309.5h1.3v1.3h-1.3zM515.6 435.7h1.3v1.3h-1.3zM481.2 471.3h1.3v1.3h-1.3zM471.6 476.3h1.3v1.3h-1.3zM588.9 368.7h1.3v1.3h-1.3zM574.5 378.8h1.3v1.3h-1.3zM479.2 472.8h1.3v1.3h-1.3zM540.7 410.4h1.3v1.3h-1.3zM490.6 459.2h1.3v1.3h-1.3zM622.9 328.3h1.3v1.3h-1.3zM507.7 442.2h1.3v1.3h-1.3zM569.7 386.0h1.3v1.3h-1.3zM641.2 320.5h1.3v1.3h-1.3zM479.2 470.8h1.3v1.3h-1.3zM650.5 310.6h1.3v1.3h-1.3zM538.4 419.1h1.3v1.3h-1.3zM575.6 380.4h1.3v1.3h-1.3zM487.1 461.1h1.3v1.3h-1.3zM588.6 367.5h1.3v1.3h-1.3zM595.7 360.6h1.3v1.3h-1.3zM564.1 392.8h1.3v1.3h-1.3zM629.0 331.2h1.3v1.3h-1.3zM535.1 414.4h1.3v1.3h-1.3zM425.4 509.6h1.3v1.3h-1.3zM641.2 324.9h1.3v1.3h-1.3zM558.2 396.5h1.3v1.3h-1.3zM569.5 383.2h1.3v1.3h-1.3zM565.6 389.4h1.3v1.3h-1.3zM431.7 506.6h1.3v1.3h-1.3zM490.9 459.6h1.3v1.3h-1.3zM443.4 495.8h1.3v1.3h-1.3zM577.9 374.5h1.3v1.3h-1.3zM627.1 333.7h1.3v1.3h-1.3zM580.5 373.9h1.3v1.3h-1.3zM617.2 339.9h1.3v1.3h-1.3zM501.7 454.9h1.3v1.3h-1.3zM429.4 507.6h1.3v1.3h-1.3zM520.2 432.8h1.3v1.3h-1.3zM462.3 481.1h1.3v1.3h-1.3zM495.1 453.0h1.3v1.3h-1.3zM479.2 470.1h1.3v1.3h-1.3zM465.2 477.5h1.3v1.3h-1.3zM587.0 362.7h1.3v1.3h-1.3zM565.4 391.5h1.3v1.3h-1.3zM619.4 337.1h1.3v1.3h-1.3zM658.2 312.8h1.3v1.3h-1.3zM478.9 470.8h1.3v1.3h-1.3zM647.1 317.6h1.3v1.3h-1.3zM606.2 351.4h1.3v1.3h-1.3zM557.0 398.5h1.3v1.3h-1.3zM655.4 308.5h1.3v1.3h-1.3zM544.9 412.4h1.3v1.3h-1.3zM428.6 507.7h1.3v1.3h-1.3zM451.8 489.6h1.3v1.3h-1.3zM496.9 459.8h1.3v1.3h-1.3zM589.1 366.2h1.3v1.3h-1.3zM557.8 399.8h1.3v1.3h-1.3zM585.9 368.3h1.3v1.3h-1.3zM426.3 509.5h1.3v1.3h-1.3zM481.4 468.2h1.3v1.3h-1.3zM555.0 400.2h1.3v1.3h-1.3zM579.0 373.6h1.3v1.3h-1.3zM525.6 424.8h1.3v1.3h-1.3zM474.2 474.1h1.3v1.3h-1.3zM496.2 449.8h1.3v1.3h-1.3zM604.6 349.3h1.3v1.3h-1.3zM594.2 362.7h1.3v1.3h-1.3zM481.2 466.7h1.3v1.3h-1.3zM650.1 312.7h1.3v1.3h-1.3zM432.4 505.7h1.3v1.3h-1.3zM478.1 471.3h1.3v1.3h-1.3zM527.1 424.8h1.3v1.3h-1.3zM615.0 340.9h1.3v1.3h-1.3zM557.6 395.4h1.3v1.3h-1.3zM584.1 375.7h1.3v1.3h-1.3zM650.3 313.7h1.3v1.3h-1.3zM510.0 437.8h1.3v1.3h-1.3zM465.4 480.2h1.3v1.3h-1.3zM520.1 432.3h1.3v1.3h-1.3zM557.1 396.9h1.3v1.3h-1.3zM454.1 485.3h1.3v1.3h-1.3zM431.1 507.3h1.3v1.3h-1.3zM596.2 359.2h1.3v1.3h-1.3zM659.3 309.2h1.3v1.3h-1.3zM645.5 314.4h1.3v1.3h-1.3zM512.2 441.7h1.3v1.3h-1.3zM530.9 421.9h1.3v1.3h-1.3zM620.9 339.8h1.3v1.3h-1.3zM658.4 308.8h1.3v1.3h-1.3zM507.4 442.0h1.3v1.3h-1.3zM650.4 315.1h1.3v1.3h-1.3zM589.6 363.1h1.3v1.3h-1.3zM457.2 485.7h1.3v1.3h-1.3zM530.0 420.2h1.3v1.3h-1.3zM422.5 511.0h1.3v1.3h-1.3zM519.7 432.2h1.3v1.3h-1.3zM547.4 407.0h1.3v1.3h-1.3zM613.5 340.5h1.3v1.3h-1.3zM501.2 448.2h1.3v1.3h-1.3zM577.8 376.7h1.3v1.3h-1.3zM581.1 372.4h1.3v1.3h-1.3zM547.7 407.2h1.3v1.3h-1.3zM569.1 384.0h1.3v1.3h-1.3zM532.3 415.1h1.3v1.3h-1.3zM568.4 385.1h1.3v1.3h-1.3zM532.5 424.1h1.3v1.3h-1.3zM640.8 322.7h1.3v1.3h-1.3zM448.9 492.3h1.3v1.3h-1.3zM629.3 331.6h1.3v1.3h-1.3zM600.8 353.9h1.3v1.3h-1.3zM424.5 509.6h1.3v1.3h-1.3zM594.5 362.8h1.3v1.3h-1.3zM508.9 446.4h1.3v1.3h-1.3zM543.6 411.9h1.3v1.3h-1.3zM546.1 409.3h1.3v1.3h-1.3zM598.4 358.3h1.3v1.3h-1.3zM538.6 414.9h1.3v1.3h-1.3zM574.5 380.5h1.3v1.3h-1.3zM474.5 473.2h1.3v1.3h-1.3zM438.8 501.7h1.3v1.3h-1.3zM582.3 370.4h1.3v1.3h-1.3zM659.2 307.8h1.3v1.3h-1.3zM440.4 500.6h1.3v1.3h-1.3zM640.6 321.3h1.3v1.3h-1.3zM514.1 432.3h1.3v1.3h-1.3zM578.7 376.4h1.3v1.3h-1.3zM485.7 457.2h1.3v1.3h-1.3zM587.9 372.0h1.3v1.3h-1.3zM526.5 428.1h1.3v1.3h-1.3zM612.7 344.3h1.3v1.3h-1.3zM488.3 458.4h1.3v1.3h-1.3zM501.8 447.1h1.3v1.3h-1.3zM572.0 381.5h1.3v1.3h-1.3zM447.1 493.5h1.3v1.3h-1.3zM656.0 309.3h1.3v1.3h-1.3zM567.7 386.3h1.3v1.3h-1.3zM655.4 313.4h1.3v1.3h-1.3zM464.6 481.8h1.3v1.3h-1.3zM592.1 360.3h1.3v1.3h-1.3zM470.2 471.8h1.3v1.3h-1.3zM441.7 499.0h1.3v1.3h-1.3zM528.2 423.0h1.3v1.3h-1.3zM535.0 419.4h1.3v1.3h-1.3zM555.9 402.2h1.3v1.3h-1.3zM533.8 423.4h1.3v1.3h-1.3zM468.8 477.8h1.3v1.3h-1.3zM585.6 372.2h1.3v1.3h-1.3zM485.7 467.0h1.3v1.3h-1.3zM491.5 457.6h1.3v1.3h-1.3zM609.5 346.9h1.3v1.3h-1.3zM585.6 371.6h1.3v1.3h-1.3zM596.4 359.0h1.3v1.3h-1.3zM643.2 318.9h1.3v1.3h-1.3zM626.6 330.5h1.3v1.3h-1.3zM474.5 473.2h1.3v1.3h-1.3zM656.3 309.6h1.3v1.3h-1.3zM546.7 409.7h1.3v1.3h-1.3zM556.0 397.2h1.3v1.3h-1.3zM488.7 463.4h1.3v1.3h-1.3zM514.9 440.6h1.3v1.3h-1.3zM555.7 395.3h1.3v1.3h-1.3zM429.9 507.9h1.3v1.3h-1.3zM594.8 359.5h1.3v1.3h-1.3zM505.6 450.2h1.3v1.3h-1.3zM588.0 368.4h1.3v1.3h-1.3zM597.6 357.9h1.3v1.3h-1.3zM570.4 385.3h1.3v1.3h-1.3zM439.7 500.3h1.3v1.3h-1.3zM557.1 397.4h1.3v1.3h-1.3zM506.9 446.5h1.3v1.3h-1.3zM593.5 361.4h1.3v1.3h-1.3zM592.6 363.5h1.3v1.3h-1.3zM542.5 409.1h1.3v1.3h-1.3zM597.5 359.5h1.3v1.3h-1.3zM456.3 484.0h1.3v1.3h-1.3zM617.8 340.2h1.3v1.3h-1.3zM654.6 313.4h1.3v1.3h-1.3zM638.1 325.8h1.3v1.3h-1.3zM616.8 337.9h1.3v1.3h-1.3zM519.1 440.9h1.3v1.3h-1.3zM645.8 317.7h1.3v1.3h-1.3zM556.8 397.3h1.3v1.3h-1.3zM473.5 472.2h1.3v1.3h-1.3zM552.1 406.4h1.3v1.3h-1.3zM626.2 331.6h1.3v1.3h-1.3zM584.7 372.9h1.3v1.3h-1.3zM621.9 333.4h1.3v1.3h-1.3zM430.2 507.4h1.3v1.3h-1.3zM654.8 311.2h1.3v1.3h-1.3zM643.4 322.4h1.3v1.3h-1.3zM542.6 410.8h1.3v1.3h-1.3zM643.6 317.8h1.3v1.3h-1.3zM465.5 480.8h1.3v1.3h-1.3zM509.5 440.4h1.3v1.3h-1.3zM462.4 480.5h1.3v1.3h-1.3zM582.7 374.3h1.3v1.3h-1.3zM642.2 316.4h1.3v1.3h-1.3zM645.5 320.4h1.3v1.3h-1.3zM441.0 499.4h1.3v1.3h-1.3zM606.4 347.4h1.3v1.3h-1.3zM556.0 398.6h1.3v1.3h-1.3zM474.9 474.4h1.3v1.3h-1.3zM636.7 323.7h1.3v1.3h-1.3zM548.8 405.5h1.3v1.3h-1.3zM431.9 506.8h1.3v1.3h-1.3zM512.1 442.6h1.3v1.3h-1.3zM585.7 369.3h1.3v1.3h-1.3zM626.2 330.9h1.3v1.3h-1.3zM469.6 474.9h1.3v1.3h-1.3zM564.0 387.9h1.3v1.3h-1.3zM442.6 498.7h1.3v1.3h-1.3zM640.8 323.5h1.3v1.3h-1.3zM424.1 510.4h1.3v1.3h-1.3zM655.0 315.4h1.3v1.3h-1.3zM557.6 395.3h1.3v1.3h-1.3zM602.4 352.9h1.3v1.3h-1.3zM582.5 371.7h1.3v1.3h-1.3zM543.3 415.7h1.3v1.3h-1.3zM527.0 420.8h1.3v1.3h-1.3zM471.7 475.6h1.3v1.3h-1.3zM490.6 459.5h1.3v1.3h-1.3zM444.4 496.4h1.3v1.3h-1.3zM486.2 468.2h1.3v1.3h-1.3zM578.9 378.9h1.3v1.3h-1.3zM554.3 402.1h1.3v1.3h-1.3zM558.1 393.2h1.3v1.3h-1.3zM548.8 407.2h1.3v1.3h-1.3zM649.0 315.1h1.3v1.3h-1.3zM626.0 333.1h1.3v1.3h-1.3zM485.2 464.2h1.3v1.3h-1.3zM555.5 397.5h1.3v1.3h-1.3zM654.5 313.9h1.3v1.3h-1.3zM486.1 466.6h1.3v1.3h-1.3zM590.2 367.5h1.3v1.3h-1.3zM577.4 378.0h1.3v1.3h-1.3zM582.6 367.9h1.3v1.3h-1.3zM555.4 401.5h1.3v1.3h-1.3zM599.7 358.9h1.3v1.3h-1.3zM512.0 440.5h1.3v1.3h-1.3zM646.8 316.4h1.3v1.3h-1.3zM558.0 397.1h1.3v1.3h-1.3zM503.0 447.3h1.3v1.3h-1.3zM575.3 381.3h1.3v1.3h-1.3zM586.4 366.2h1.3v1.3h-1.3zM642.6 318.5h1.3v1.3h-1.3zM574.6 380.0h1.3v1.3h-1.3zM547.3 403.8h1.3v1.3h-1.3zM506.6 446.0h1.3v1.3h-1.3zM524.0 430.1h1.3v1.3h-1.3zM490.6 455.2h1.3v1.3h-1.3zM570.8 385.7h1.3v1.3h-1.3zM628.7 329.7h1.3v1.3h-1.3zM564.2 390.6h1.3v1.3h-1.3zM470.6 476.4h1.3v1.3h-1.3zM430.5 507.0h1.3v1.3h-1.3zM632.7 327.0h1.3v1.3h-1.3zM492.7 452.6h1.3v1.3h-1.3zM587.3 366.3h1.3v1.3h-1.3zM648.9 314.2h1.3v1.3h-1.3zM647.6 321.1h1.3v1.3h-1.3zM555.1 401.8h1.3v1.3h-1.3zM641.1 318.6h1.3v1.3h-1.3zM518.5 436.0h1.3v1.3h-1.3zM647.7 317.5h1.3v1.3h-1.3zM584.8 369.5h1.3v1.3h-1.3zM441.1 500.0h1.3v1.3h-1.3zM616.9 341.4h1.3v1.3h-1.3zM460.4 482.5h1.3v1.3h-1.3zM661.3 307.7h1.3v1.3h-1.3zM433.7 505.6h1.3v1.3h-1.3zM603.6 350.3h1.3v1.3h-1.3zM458.4 484.8h1.3v1.3h-1.3zM551.5 403.4h1.3v1.3h-1.3zM511.2 440.2h1.3v1.3h-1.3zM632.0 326.7h1.3v1.3h-1.3zM487.6 461.6h1.3v1.3h-1.3zM594.8 362.9h1.3v1.3h-1.3zM647.7 317.9h1.3v1.3h-1.3zM437.2 502.2h1.3v1.3h-1.3zM593.3 363.9h1.3v1.3h-1.3zM441.9 499.0h1.3v1.3h-1.3zM608.9 348.5h1.3v1.3h-1.3zM627.6 334.7h1.3v1.3h-1.3zM455.2 485.5h1.3v1.3h-1.3zM634.2 326.8h1.3v1.3h-1.3zM527.1 424.5h1.3v1.3h-1.3zM495.9 452.2h1.3v1.3h-1.3zM653.7 317.8h1.3v1.3h-1.3zM514.1 440.9h1.3v1.3h-1.3zM472.2 471.1h1.3v1.3h-1.3zM501.0 451.7h1.3v1.3h-1.3zM639.1 322.1h1.3v1.3h-1.3zM658.2 313.0h1.3v1.3h-1.3zM531.1 422.3h1.3v1.3h-1.3zM540.4 413.2h1.3v1.3h-1.3zM565.5 388.5h1.3v1.3h-1.3zM623.5 335.7h1.3v1.3h-1.3zM424.0 510.4h1.3v1.3h-1.3zM612.9 342.1h1.3v1.3h-1.3zM655.4 311.5h1.3v1.3h-1.3zM519.2 434.7h1.3v1.3h-1.3zM527.0 423.3h1.3v1.3h-1.3zM651.9 314.1h1.3v1.3h-1.3zM519.5 432.8h1.3v1.3h-1.3zM512.3 439.5h1.3v1.3h-1.3zM628.2 333.3h1.3v1.3h-1.3zM535.5 414.9h1.3v1.3h-1.3zM577.2 376.8h1.3v1.3h-1.3zM490.6 456.4h1.3v1.3h-1.3zM585.2 371.5h1.3v1.3h-1.3zM510.2 441.7h1.3v1.3h-1.3zM610.0 345.9h1.3v1.3h-1.3zM540.1 414.8h1.3v1.3h-1.3zM642.6 316.9h1.3v1.3h-1.3zM553.3 402.7h1.3v1.3h-1.3zM627.8 330.0h1.3v1.3h-1.3zM527.6 424.9h1.3v1.3h-1.3zM582.6 372.5h1.3v1.3h-1.3zM485.9 464.8h1.3v1.3h-1.3zM562.6 392.5h1.3v1.3h-1.3zM581.1 378.5h1.3v1.3h-1.3zM467.7 478.7h1.3v1.3h-1.3zM552.4 401.5h1.3v1.3h-1.3zM643.2 319.2h1.3v1.3h-1.3zM470.3 477.6h1.3v1.3h-1.3zM539.1 418.7h1.3v1.3h-1.3zM622.9 336.0h1.3v1.3h-1.3zM524.1 427.4h1.3v1.3h-1.3zM429.0 508.0h1.3v1.3h-1.3zM548.0 407.4h1.3v1.3h-1.3zM532.8 420.6h1.3v1.3h-1.3zM644.6 317.5h1.3v1.3h-1.3zM581.3 367.8h1.3v1.3h-1.3zM608.3 346.4h1.3v1.3h-1.3zM510.2 445.4h1.3v1.3h-1.3zM637.1 325.5h1.3v1.3h-1.3zM620.8 331.3h1.3v1.3h-1.3zM443.7 497.1h1.3v1.3h-1.3zM580.5 370.2h1.3v1.3h-1.3zM639.1 328.3h1.3v1.3h-1.3zM578.0 377.4h1.3v1.3h-1.3zM655.1 309.2h1.3v1.3h-1.3zM484.5 466.6h1.3v1.3h-1.3zM563.0 388.5h1.3v1.3h-1.3zM549.9 406.4h1.3v1.3h-1.3zM492.7 456.8h1.3v1.3h-1.3zM609.5 343.5h1.3v1.3h-1.3zM525.4 429.2h1.3v1.3h-1.3zM577.8 373.8h1.3v1.3h-1.3zM609.7 349.4h1.3v1.3h-1.3zM596.5 359.4h1.3v1.3h-1.3zM445.9 493.8h1.3v1.3h-1.3zM435.1 503.5h1.3v1.3h-1.3z" fill="#2A77DD"/>
</g>
<text x="431.2" y="329" text-anchor="start" font-size="12.4" >Fumed silica contents (wt%)</text>
<rect x="441.90000000000003" y="337.90000000000003" width="4.8" height="4.8" fill="#555"/>
<circle cx="444.3" cy="355.7" r="2.7" fill="#EE4A4E"/>
<path d="M444.3 368.2l3.4 5.8h-6.8z" fill="#2A77DD"/>
<path d="M444.3 389.8l3.4 -5.8h-6.8z" fill="#3AAA62"/>
<text x="461.8" y="344.6" text-anchor="start" font-size="12.4" >0</text>
<text x="461.8" y="360" text-anchor="start" font-size="12.4" >2.5</text>
<text x="461.8" y="375.5" text-anchor="start" font-size="12.4" >5</text>
<text x="461.8" y="391.1" text-anchor="start" font-size="12.4" >7.5</text>
</svg>
</body></html>
